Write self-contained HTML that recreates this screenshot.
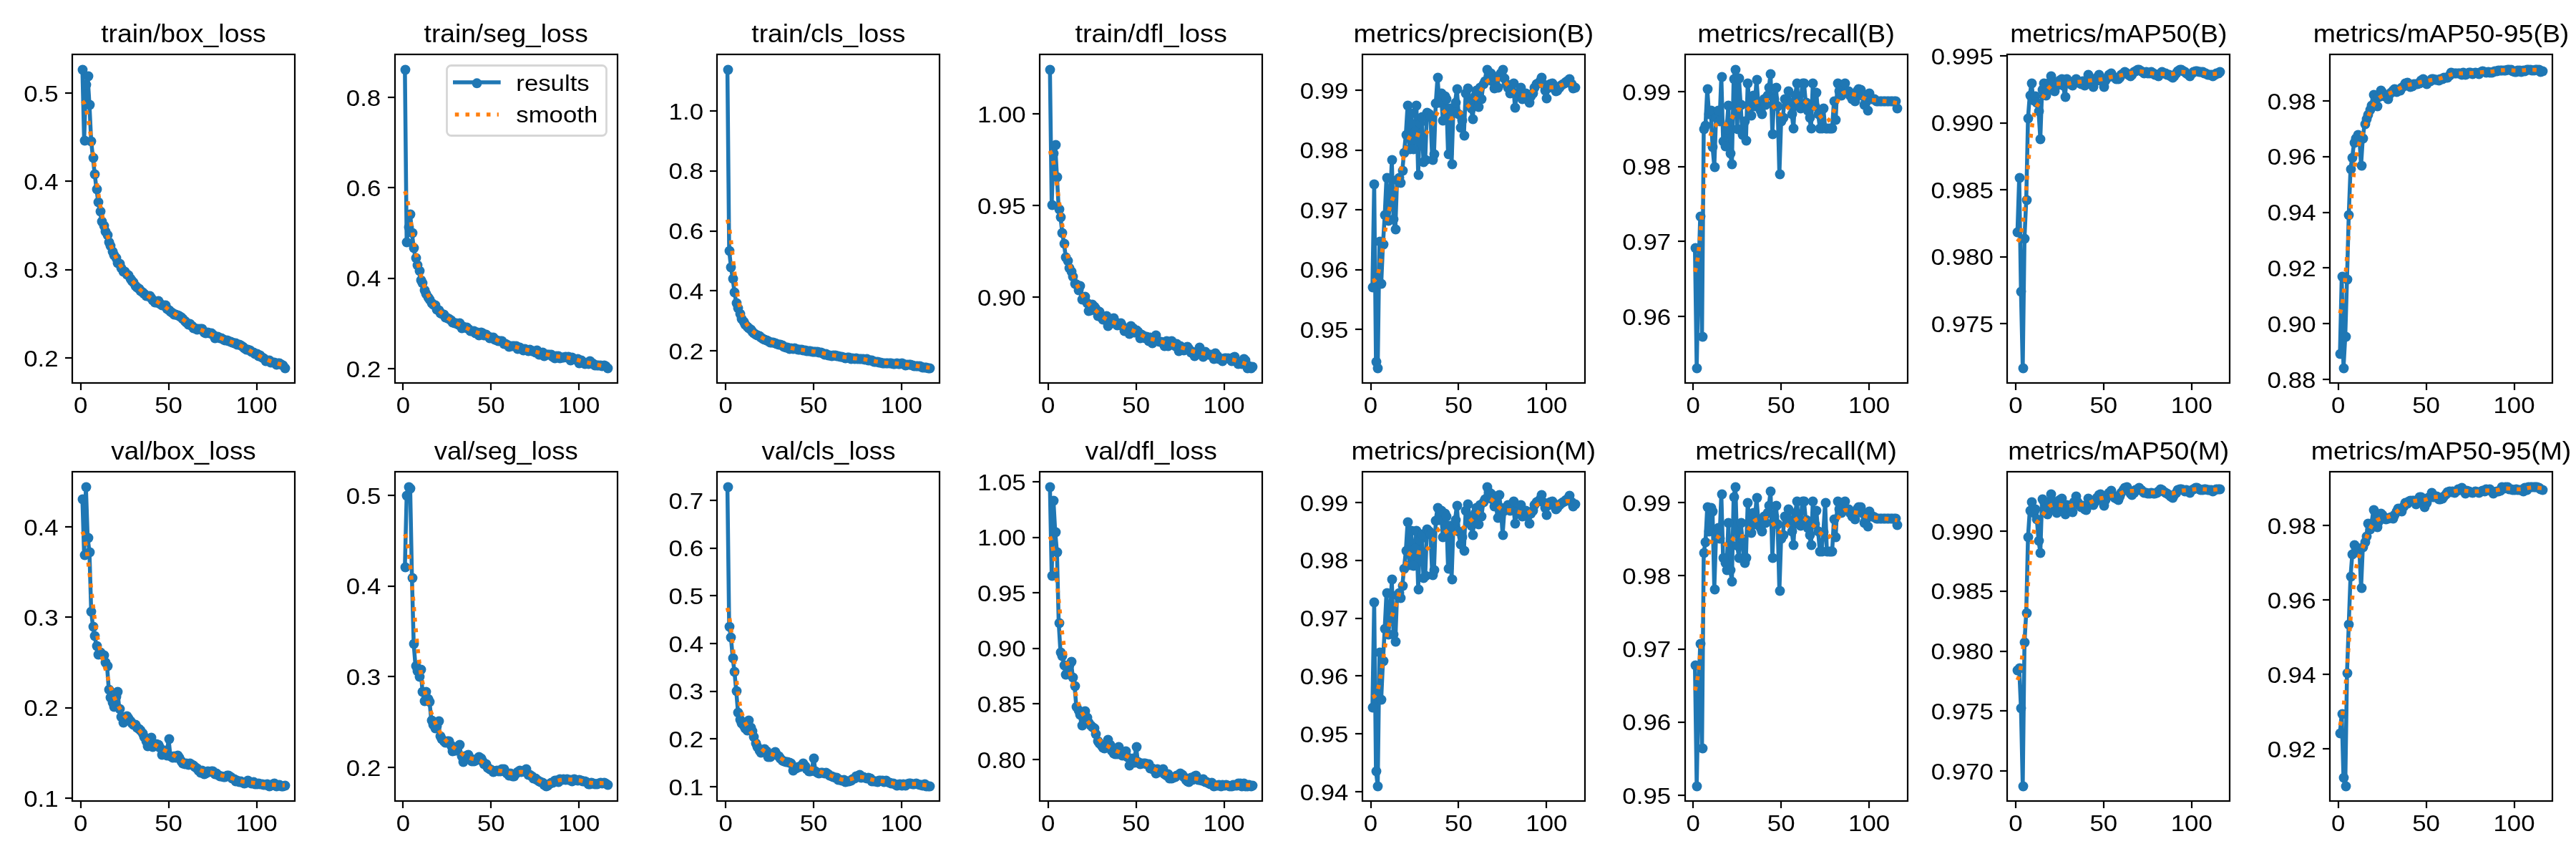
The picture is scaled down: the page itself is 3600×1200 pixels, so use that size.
<!DOCTYPE html>
<html><head><meta charset="utf-8"><title>results</title><style>html,body{margin:0;padding:0;background:#fff;overflow:hidden}
svg{display:block;will-change:transform}
text{font-family:"Liberation Sans",sans-serif;fill:#000}
.ln{fill:none;stroke:#1f77b4;stroke-width:5.556;stroke-linejoin:round;stroke-linecap:square}
.mk circle{fill:#1f77b4}
.sm{fill:none;stroke:#ff7f0e;stroke-width:5.556;stroke-dasharray:5.556 9.167;stroke-linejoin:round}
.fr{fill:none;stroke:#000;stroke-width:2.22;stroke-linejoin:miter}
.tk rect{fill:#000}
.lg{fill:#fff;fill-opacity:.8;stroke:#ccc;stroke-opacity:.8;stroke-width:2.78}
</style></head><body>
<svg width="3600" height="1200" viewBox="0 0 3600 1200">
<rect width="3600" height="1200" fill="#fff"/>
<g><polyline class="ln" points="115.14,96.86 117.59,196.2 120.05,117.67 122.51,105.96 124.97,145.9 127.43,197.31 129.89,220.48 132.35,243.41 134.8,263.5 137.26,282.48 139.72,295.06 142.18,309.4 144.64,315.02 147.1,322.77 149.56,327.6 152.01,337.52 154.47,343.13 156.93,350.84 159.39,356.36 161.85,360.35 164.31,367.06 166.76,368.47 169.22,374.2 171.68,378.78 174.14,379.42 176.6,382.74 179.06,384.29 181.52,388.91 183.97,391.52 186.43,393.95 188.89,398.58 191.35,400.64 193.81,403.49 196.27,406.16 198.73,408.39 201.18,409.95 203.64,413.3 206.1,413.19 208.56,412.98 211.02,415.94 213.48,418.93 215.93,421.5 218.39,422.41 220.85,420.19 223.31,423.51 225.77,425.54 228.23,425.55 230.69,425.69 233.14,431.11 235.6,433.17 238.06,434.81 240.52,436.83 242.98,439.05 245.44,439.12 247.9,440.15 250.35,441.25 252.81,443.1 255.27,445.16 257.73,448.22 260.19,449.59 262.65,453.41 265.1,452.26 267.56,454.84 270.02,457.51 272.48,458.02 274.94,460.08 277.4,459.03 279.86,459.08 282.31,458.76 284.77,464.2 287.23,464.85 289.69,464.17 292.15,464.68 294.61,465.11 297.07,467.28 299.52,471.83 301.98,470.49 304.44,469.93 306.9,471.73 309.36,471.99 311.82,474.31 314.27,475.17 316.73,475.38 319.19,475.82 321.65,476.84 324.11,477.69 326.57,479.5 329.03,479.15 331.48,480.72 333.94,480.59 336.4,481.72 338.86,484.33 341.32,486.31 343.78,487.9 346.24,487.69 348.69,489.39 351.15,491.19 353.61,491.89 356.07,494.13 358.53,493.92 360.99,497.04 363.44,496.35 365.9,499.04 368.36,500.35 370.82,503.72 373.28,502.79 375.74,502.8 378.2,505.89 380.65,505.74 383.11,506.12 385.57,508.53 388.03,506.74 390.49,506.51 392.95,509.31 395.41,510.44 397.86,514.14"/><g class="mk"><circle cx="115.5" cy="97.5" r="6.94"/><circle cx="118.5" cy="196.5" r="6.94"/><circle cx="120.5" cy="118.5" r="6.94"/><circle cx="123.5" cy="106.5" r="6.94"/><circle cx="125.5" cy="146.5" r="6.94"/><circle cx="127.5" cy="197.5" r="6.94"/><circle cx="130.5" cy="220.5" r="6.94"/><circle cx="132.5" cy="243.5" r="6.94"/><circle cx="135.5" cy="264.5" r="6.94"/><circle cx="137.5" cy="282.5" r="6.94"/><circle cx="140.5" cy="295.5" r="6.94"/><circle cx="142.5" cy="309.5" r="6.94"/><circle cx="145.5" cy="315.5" r="6.94"/><circle cx="147.5" cy="323.5" r="6.94"/><circle cx="150.5" cy="328.5" r="6.94"/><circle cx="152.5" cy="338.5" r="6.94"/><circle cx="154.5" cy="343.5" r="6.94"/><circle cx="157.5" cy="351.5" r="6.94"/><circle cx="159.5" cy="356.5" r="6.94"/><circle cx="162.5" cy="360.5" r="6.94"/><circle cx="164.5" cy="367.5" r="6.94"/><circle cx="167.5" cy="368.5" r="6.94"/><circle cx="169.5" cy="374.5" r="6.94"/><circle cx="172.5" cy="379.5" r="6.94"/><circle cx="174.5" cy="379.5" r="6.94"/><circle cx="177.5" cy="383.5" r="6.94"/><circle cx="179.5" cy="384.5" r="6.94"/><circle cx="182.5" cy="389.5" r="6.94"/><circle cx="184.5" cy="392.5" r="6.94"/><circle cx="186.5" cy="394.5" r="6.94"/><circle cx="189.5" cy="399.5" r="6.94"/><circle cx="191.5" cy="401.5" r="6.94"/><circle cx="194.5" cy="403.5" r="6.94"/><circle cx="196.5" cy="406.5" r="6.94"/><circle cx="199.5" cy="408.5" r="6.94"/><circle cx="201.5" cy="410.5" r="6.94"/><circle cx="204.5" cy="413.5" r="6.94"/><circle cx="206.5" cy="413.5" r="6.94"/><circle cx="209.5" cy="413.5" r="6.94"/><circle cx="211.5" cy="416.5" r="6.94"/><circle cx="213.5" cy="419.5" r="6.94"/><circle cx="216.5" cy="422.5" r="6.94"/><circle cx="218.5" cy="422.5" r="6.94"/><circle cx="221.5" cy="420.5" r="6.94"/><circle cx="223.5" cy="424.5" r="6.94"/><circle cx="226.5" cy="426.5" r="6.94"/><circle cx="228.5" cy="426.5" r="6.94"/><circle cx="231.5" cy="426.5" r="6.94"/><circle cx="233.5" cy="431.5" r="6.94"/><circle cx="236.5" cy="433.5" r="6.94"/><circle cx="238.5" cy="435.5" r="6.94"/><circle cx="241.5" cy="437.5" r="6.94"/><circle cx="243.5" cy="439.5" r="6.94"/><circle cx="245.5" cy="439.5" r="6.94"/><circle cx="248.5" cy="440.5" r="6.94"/><circle cx="250.5" cy="441.5" r="6.94"/><circle cx="253.5" cy="443.5" r="6.94"/><circle cx="255.5" cy="445.5" r="6.94"/><circle cx="258.5" cy="448.5" r="6.94"/><circle cx="260.5" cy="450.5" r="6.94"/><circle cx="263.5" cy="453.5" r="6.94"/><circle cx="265.5" cy="452.5" r="6.94"/><circle cx="268.5" cy="455.5" r="6.94"/><circle cx="270.5" cy="458.5" r="6.94"/><circle cx="272.5" cy="458.5" r="6.94"/><circle cx="275.5" cy="460.5" r="6.94"/><circle cx="277.5" cy="459.5" r="6.94"/><circle cx="280.5" cy="459.5" r="6.94"/><circle cx="282.5" cy="459.5" r="6.94"/><circle cx="285.5" cy="464.5" r="6.94"/><circle cx="287.5" cy="465.5" r="6.94"/><circle cx="290.5" cy="464.5" r="6.94"/><circle cx="292.5" cy="465.5" r="6.94"/><circle cx="295.5" cy="465.5" r="6.94"/><circle cx="297.5" cy="467.5" r="6.94"/><circle cx="300.5" cy="472.5" r="6.94"/><circle cx="302.5" cy="470.5" r="6.94"/><circle cx="304.5" cy="470.5" r="6.94"/><circle cx="307.5" cy="472.5" r="6.94"/><circle cx="309.5" cy="472.5" r="6.94"/><circle cx="312.5" cy="474.5" r="6.94"/><circle cx="314.5" cy="475.5" r="6.94"/><circle cx="317.5" cy="475.5" r="6.94"/><circle cx="319.5" cy="476.5" r="6.94"/><circle cx="322.5" cy="477.5" r="6.94"/><circle cx="324.5" cy="478.5" r="6.94"/><circle cx="327.5" cy="479.5" r="6.94"/><circle cx="329.5" cy="479.5" r="6.94"/><circle cx="331.5" cy="481.5" r="6.94"/><circle cx="334.5" cy="481.5" r="6.94"/><circle cx="336.5" cy="482.5" r="6.94"/><circle cx="339.5" cy="484.5" r="6.94"/><circle cx="341.5" cy="486.5" r="6.94"/><circle cx="344.5" cy="488.5" r="6.94"/><circle cx="346.5" cy="488.5" r="6.94"/><circle cx="349.5" cy="489.5" r="6.94"/><circle cx="351.5" cy="491.5" r="6.94"/><circle cx="354.5" cy="492.5" r="6.94"/><circle cx="356.5" cy="494.5" r="6.94"/><circle cx="359.5" cy="494.5" r="6.94"/><circle cx="361.5" cy="497.5" r="6.94"/><circle cx="363.5" cy="496.5" r="6.94"/><circle cx="366.5" cy="499.5" r="6.94"/><circle cx="368.5" cy="500.5" r="6.94"/><circle cx="371.5" cy="504.5" r="6.94"/><circle cx="373.5" cy="503.5" r="6.94"/><circle cx="376.5" cy="503.5" r="6.94"/><circle cx="378.5" cy="506.5" r="6.94"/><circle cx="381.5" cy="506.5" r="6.94"/><circle cx="383.5" cy="506.5" r="6.94"/><circle cx="386.5" cy="509.5" r="6.94"/><circle cx="388.5" cy="507.5" r="6.94"/><circle cx="390.5" cy="507.5" r="6.94"/><circle cx="393.5" cy="509.5" r="6.94"/><circle cx="395.5" cy="510.5" r="6.94"/><circle cx="398.5" cy="514.5" r="6.94"/></g><polyline class="sm" points="115.14,141.09 117.59,144.47 120.05,151.45 122.51,162.19 124.97,176.55 127.43,193.9 129.89,213.1 132.35,232.8 134.8,251.78 137.26,269.13 139.72,284.42 142.18,297.6 144.64,308.87 147.1,318.58 149.56,327.07 152.01,334.66 154.47,341.55 156.93,347.85 159.39,353.64 161.85,358.95 164.31,363.78 166.76,368.17 169.22,372.17 171.68,375.83 174.14,379.22 176.6,382.41 179.06,385.49 181.52,388.5 183.97,391.48 186.43,394.41 188.89,397.27 191.35,400.03 193.81,402.64 196.27,405.07 198.73,407.32 201.18,409.38 203.64,411.28 206.1,413.07 208.56,414.77 211.02,416.4 213.48,417.97 215.93,419.48 218.39,420.92 220.85,422.33 223.31,423.76 225.77,425.26 228.23,426.87 230.69,428.6 233.14,430.43 235.6,432.3 238.06,434.13 240.52,435.9 242.98,437.58 245.44,439.19 247.9,440.78 250.35,442.41 252.81,444.11 255.27,445.88 257.73,447.7 260.19,449.52 262.65,451.29 265.1,452.97 267.56,454.51 270.02,455.91 272.48,457.16 274.94,458.28 277.4,459.32 279.86,460.32 282.31,461.33 284.77,462.35 287.23,463.4 289.69,464.46 292.15,465.55 294.61,466.65 297.07,467.74 299.52,468.82 301.98,469.85 304.44,470.84 306.9,471.79 309.36,472.71 311.82,473.6 314.27,474.48 316.73,475.35 319.19,476.2 321.65,477.06 324.11,477.92 326.57,478.82 329.03,479.76 331.48,480.78 333.94,481.88 336.4,483.06 338.86,484.32 341.32,485.63 343.78,486.96 346.24,488.28 348.69,489.6 351.15,490.91 353.61,492.22 356.07,493.54 358.53,494.87 360.99,496.21 363.44,497.57 365.9,498.91 368.36,500.21 370.82,501.44 373.28,502.59 375.74,503.63 378.2,504.58 380.65,505.44 383.11,506.25 385.57,507.02 388.03,507.78 390.49,508.52 392.95,509.19 395.41,509.72 397.86,510.01"/><g class="tk"><rect x="111.89" y="535" width="2.22" height="10"/><rect x="234.89" y="535" width="2.22" height="10"/><rect x="357.89" y="535" width="2.22" height="10"/><rect x="91" y="498.89" width="10" height="2.22"/><rect x="91" y="375.89" width="10" height="2.22"/><rect x="91" y="251.89" width="10" height="2.22"/><rect x="91" y="128.89" width="10" height="2.22"/></g><rect class="fr" x="101" y="76" width="311" height="459"/><text x="141.19" y="59.33" font-size="35" textLength="230.62" lengthAdjust="spacingAndGlyphs">train/box_loss</text><text x="102.99" y="577.44" font-size="32.08" textLength="19.38" lengthAdjust="spacingAndGlyphs">0</text><text x="216.23" y="577.44" font-size="32.08" textLength="38.75" lengthAdjust="spacingAndGlyphs">50</text><text x="329.47" y="577.44" font-size="32.08" textLength="58.12" lengthAdjust="spacingAndGlyphs">100</text><text x="33.18" y="511.5" font-size="32.08" textLength="48.38" lengthAdjust="spacingAndGlyphs">0.2</text><text x="33.06" y="388.17" font-size="32.08" textLength="48.5" lengthAdjust="spacingAndGlyphs">0.3</text><text x="33.18" y="264.83" font-size="32.08" textLength="48.38" lengthAdjust="spacingAndGlyphs">0.4</text><text x="33.18" y="141.5" font-size="32.08" textLength="48.38" lengthAdjust="spacingAndGlyphs">0.5</text></g>
<g><polyline class="ln" points="565.85,96.86 568.31,338.1 570.77,317.15 573.23,298.81 575.68,325 578.14,345.94 580.6,360.3 583.06,370.43 585.52,378.34 587.98,391.43 590.44,394.85 592.89,405.35 595.35,409.72 597.81,414.91 600.27,417.61 602.73,422.65 605.19,425.3 607.64,426.35 610.1,431.63 612.56,433.17 615.02,437.01 617.48,437.89 619.94,439.12 622.4,442.66 624.85,443.56 627.31,445.22 629.77,447.32 632.23,449.56 634.69,451.36 637.15,451.07 639.61,452.71 642.06,450.56 644.52,458.31 646.98,456.02 649.44,456.92 651.9,456.8 654.36,459.16 656.81,462.13 659.27,462.05 661.73,462.38 664.19,464.67 666.65,464.05 669.11,468.37 671.57,464 674.02,465 676.48,468.15 678.94,467.47 681.4,469.23 683.86,471.53 686.32,471.34 688.78,471.15 691.23,474.15 693.69,475.23 696.15,475.94 698.61,476.36 701.07,476.32 703.53,480.11 705.98,479.65 708.44,480.94 710.9,484.32 713.36,482.81 715.82,482.9 718.28,483.27 720.74,483.25 723.19,487.31 725.65,485.29 728.11,487.19 730.57,489.13 733.03,487.28 735.49,487.86 737.95,490.14 740.4,488.4 742.86,490.45 745.32,490.17 747.78,492.14 750.24,488.86 752.7,495.46 755.15,492.57 757.61,492.17 760.07,496.65 762.53,494.77 764.99,495.34 767.45,494.82 769.91,494.97 772.36,498.01 774.82,500.11 777.28,497.01 779.74,497.29 782.2,499.68 784.66,498.6 787.12,498.6 789.57,498.39 792.03,499.06 794.49,497.83 796.95,502.65 799.41,499.22 801.87,500.59 804.32,501.86 806.78,500.7 809.24,506.58 811.7,502.68 814.16,504.74 816.62,507.84 819.08,506.64 821.53,508.11 823.99,504.48 826.45,505.92 828.91,508.25 831.37,510.26 833.83,510.37 836.29,510.01 838.74,510.34 841.2,510.81 843.66,510.38 846.12,511.48 848.58,514.14"/><g class="mk"><circle cx="566.5" cy="97.5" r="6.94"/><circle cx="568.5" cy="338.5" r="6.94"/><circle cx="571.5" cy="317.5" r="6.94"/><circle cx="573.5" cy="299.5" r="6.94"/><circle cx="576.5" cy="325.5" r="6.94"/><circle cx="578.5" cy="346.5" r="6.94"/><circle cx="581.5" cy="360.5" r="6.94"/><circle cx="583.5" cy="370.5" r="6.94"/><circle cx="586.5" cy="378.5" r="6.94"/><circle cx="588.5" cy="391.5" r="6.94"/><circle cx="590.5" cy="395.5" r="6.94"/><circle cx="593.5" cy="405.5" r="6.94"/><circle cx="595.5" cy="410.5" r="6.94"/><circle cx="598.5" cy="415.5" r="6.94"/><circle cx="600.5" cy="418.5" r="6.94"/><circle cx="603.5" cy="423.5" r="6.94"/><circle cx="605.5" cy="425.5" r="6.94"/><circle cx="608.5" cy="426.5" r="6.94"/><circle cx="610.5" cy="432.5" r="6.94"/><circle cx="613.5" cy="433.5" r="6.94"/><circle cx="615.5" cy="437.5" r="6.94"/><circle cx="617.5" cy="438.5" r="6.94"/><circle cx="620.5" cy="439.5" r="6.94"/><circle cx="622.5" cy="443.5" r="6.94"/><circle cx="625.5" cy="444.5" r="6.94"/><circle cx="627.5" cy="445.5" r="6.94"/><circle cx="630.5" cy="447.5" r="6.94"/><circle cx="632.5" cy="450.5" r="6.94"/><circle cx="635.5" cy="451.5" r="6.94"/><circle cx="637.5" cy="451.5" r="6.94"/><circle cx="640.5" cy="453.5" r="6.94"/><circle cx="642.5" cy="451.5" r="6.94"/><circle cx="645.5" cy="458.5" r="6.94"/><circle cx="647.5" cy="456.5" r="6.94"/><circle cx="649.5" cy="457.5" r="6.94"/><circle cx="652.5" cy="457.5" r="6.94"/><circle cx="654.5" cy="459.5" r="6.94"/><circle cx="657.5" cy="462.5" r="6.94"/><circle cx="659.5" cy="462.5" r="6.94"/><circle cx="662.5" cy="462.5" r="6.94"/><circle cx="664.5" cy="465.5" r="6.94"/><circle cx="667.5" cy="464.5" r="6.94"/><circle cx="669.5" cy="468.5" r="6.94"/><circle cx="672.5" cy="464.5" r="6.94"/><circle cx="674.5" cy="465.5" r="6.94"/><circle cx="676.5" cy="468.5" r="6.94"/><circle cx="679.5" cy="467.5" r="6.94"/><circle cx="681.5" cy="469.5" r="6.94"/><circle cx="684.5" cy="472.5" r="6.94"/><circle cx="686.5" cy="471.5" r="6.94"/><circle cx="689.5" cy="471.5" r="6.94"/><circle cx="691.5" cy="474.5" r="6.94"/><circle cx="694.5" cy="475.5" r="6.94"/><circle cx="696.5" cy="476.5" r="6.94"/><circle cx="699.5" cy="476.5" r="6.94"/><circle cx="701.5" cy="476.5" r="6.94"/><circle cx="704.5" cy="480.5" r="6.94"/><circle cx="706.5" cy="480.5" r="6.94"/><circle cx="708.5" cy="481.5" r="6.94"/><circle cx="711.5" cy="484.5" r="6.94"/><circle cx="713.5" cy="483.5" r="6.94"/><circle cx="716.5" cy="483.5" r="6.94"/><circle cx="718.5" cy="483.5" r="6.94"/><circle cx="721.5" cy="483.5" r="6.94"/><circle cx="723.5" cy="487.5" r="6.94"/><circle cx="726.5" cy="485.5" r="6.94"/><circle cx="728.5" cy="487.5" r="6.94"/><circle cx="731.5" cy="489.5" r="6.94"/><circle cx="733.5" cy="487.5" r="6.94"/><circle cx="735.5" cy="488.5" r="6.94"/><circle cx="738.5" cy="490.5" r="6.94"/><circle cx="740.5" cy="488.5" r="6.94"/><circle cx="743.5" cy="490.5" r="6.94"/><circle cx="745.5" cy="490.5" r="6.94"/><circle cx="748.5" cy="492.5" r="6.94"/><circle cx="750.5" cy="489.5" r="6.94"/><circle cx="753.5" cy="495.5" r="6.94"/><circle cx="755.5" cy="493.5" r="6.94"/><circle cx="758.5" cy="492.5" r="6.94"/><circle cx="760.5" cy="497.5" r="6.94"/><circle cx="763.5" cy="495.5" r="6.94"/><circle cx="765.5" cy="495.5" r="6.94"/><circle cx="767.5" cy="495.5" r="6.94"/><circle cx="770.5" cy="495.5" r="6.94"/><circle cx="772.5" cy="498.5" r="6.94"/><circle cx="775.5" cy="500.5" r="6.94"/><circle cx="777.5" cy="497.5" r="6.94"/><circle cx="780.5" cy="497.5" r="6.94"/><circle cx="782.5" cy="500.5" r="6.94"/><circle cx="785.5" cy="499.5" r="6.94"/><circle cx="787.5" cy="499.5" r="6.94"/><circle cx="790.5" cy="498.5" r="6.94"/><circle cx="792.5" cy="499.5" r="6.94"/><circle cx="794.5" cy="498.5" r="6.94"/><circle cx="797.5" cy="503.5" r="6.94"/><circle cx="799.5" cy="499.5" r="6.94"/><circle cx="802.5" cy="501.5" r="6.94"/><circle cx="804.5" cy="502.5" r="6.94"/><circle cx="807.5" cy="501.5" r="6.94"/><circle cx="809.5" cy="507.5" r="6.94"/><circle cx="812.5" cy="503.5" r="6.94"/><circle cx="814.5" cy="505.5" r="6.94"/><circle cx="817.5" cy="508.5" r="6.94"/><circle cx="819.5" cy="507.5" r="6.94"/><circle cx="822.5" cy="508.5" r="6.94"/><circle cx="824.5" cy="504.5" r="6.94"/><circle cx="826.5" cy="506.5" r="6.94"/><circle cx="829.5" cy="508.5" r="6.94"/><circle cx="831.5" cy="510.5" r="6.94"/><circle cx="834.5" cy="510.5" r="6.94"/><circle cx="836.5" cy="510.5" r="6.94"/><circle cx="839.5" cy="510.5" r="6.94"/><circle cx="841.5" cy="511.5" r="6.94"/><circle cx="844.5" cy="510.5" r="6.94"/><circle cx="846.5" cy="511.5" r="6.94"/><circle cx="849.5" cy="514.5" r="6.94"/></g><polyline class="sm" points="565.85,267.06 568.31,274.17 570.77,286.88 573.23,302.81 575.68,319.63 578.14,335.72 580.6,350.26 583.06,363.05 585.52,374.18 587.98,383.85 590.44,392.24 592.89,399.51 595.35,405.79 597.81,411.22 600.27,415.92 602.73,420.03 605.19,423.66 607.64,426.91 610.1,429.86 612.56,432.57 615.02,435.06 617.48,437.36 619.94,439.51 622.4,441.52 624.85,443.41 627.31,445.19 629.77,446.85 632.23,448.4 634.69,449.84 637.15,451.18 639.61,452.44 642.06,453.66 644.52,454.84 646.98,456 649.44,457.16 651.9,458.31 654.36,459.45 656.81,460.58 659.27,461.66 661.73,462.67 664.19,463.59 666.65,464.44 669.11,465.22 671.57,465.98 674.02,466.75 676.48,467.58 678.94,468.48 681.4,469.43 683.86,470.44 686.32,471.47 688.78,472.51 691.23,473.57 693.69,474.62 696.15,475.68 698.61,476.75 701.07,477.82 703.53,478.87 705.98,479.9 708.44,480.86 710.9,481.74 713.36,482.55 715.82,483.29 718.28,484 720.74,484.71 723.19,485.41 725.65,486.1 728.11,486.77 730.57,487.38 733.03,487.96 735.49,488.49 737.95,489.01 740.4,489.54 742.86,490.07 745.32,490.64 747.78,491.23 750.24,491.85 752.7,492.47 755.15,493.09 757.61,493.69 760.07,494.27 762.53,494.81 764.99,495.35 767.45,495.88 769.91,496.4 772.36,496.9 774.82,497.36 777.28,497.75 779.74,498.07 782.2,498.34 784.66,498.57 787.12,498.8 789.57,499.06 792.03,499.37 794.49,499.74 796.95,500.19 799.41,500.72 801.87,501.32 804.32,502 806.78,502.73 809.24,503.49 811.7,504.24 814.16,504.93 816.62,505.56 819.08,506.11 821.53,506.63 823.99,507.13 826.45,507.66 828.91,508.23 831.37,508.81 833.83,509.38 836.29,509.91 838.74,510.4 841.2,510.83 843.66,511.2 846.12,511.47 848.58,511.62"/><g class="tk"><rect x="561.89" y="535" width="2.22" height="10"/><rect x="684.89" y="535" width="2.22" height="10"/><rect x="807.89" y="535" width="2.22" height="10"/><rect x="542" y="513.89" width="10" height="2.22"/><rect x="542" y="387.89" width="10" height="2.22"/><rect x="542" y="260.89" width="10" height="2.22"/><rect x="542" y="134.89" width="10" height="2.22"/></g><rect class="fr" x="552" y="76" width="311" height="459"/><text x="592.59" y="59.33" font-size="35" textLength="229.25" lengthAdjust="spacingAndGlyphs">train/seg_loss</text><text x="553.7" y="577.44" font-size="32.08" textLength="19.38" lengthAdjust="spacingAndGlyphs">0</text><text x="666.94" y="577.44" font-size="32.08" textLength="38.75" lengthAdjust="spacingAndGlyphs">50</text><text x="780.18" y="577.44" font-size="32.08" textLength="58.12" lengthAdjust="spacingAndGlyphs">100</text><text x="483.89" y="526.5" font-size="32.08" textLength="48.38" lengthAdjust="spacingAndGlyphs">0.2</text><text x="483.89" y="400.17" font-size="32.08" textLength="48.38" lengthAdjust="spacingAndGlyphs">0.4</text><text x="483.89" y="273.83" font-size="32.08" textLength="48.38" lengthAdjust="spacingAndGlyphs">0.6</text><text x="483.77" y="147.5" font-size="32.08" textLength="48.5" lengthAdjust="spacingAndGlyphs">0.8</text><rect class="lg" x="624.5" y="91.5" width="223" height="98" rx="6.1" ry="6.1"/><polyline class="ln" points="635.78,115 666.34,115 696.89,115"/><polyline class="sm" points="635.78,160 666.34,160 696.89,160"/><g class="mk"><circle cx="666.5" cy="116.31" r="6.94"/></g><text x="721.34" y="126.5" font-size="32.08" textLength="102.38" lengthAdjust="spacingAndGlyphs">results</text><text x="721.34" y="170.78" font-size="32.08" textLength="113.88" lengthAdjust="spacingAndGlyphs">smooth</text></g>
<g><polyline class="ln" points="1016.56,96.86 1019.02,349.67 1021.48,372.6 1023.94,388.6 1026.4,408.39 1028.86,422.88 1031.32,429.87 1033.77,438.28 1036.23,444.8 1038.69,449.36 1041.15,453.22 1043.61,455.56 1046.07,458.01 1048.52,459.89 1050.98,463.02 1053.44,465.13 1055.9,466.59 1058.36,468.49 1060.82,468.62 1063.28,471.2 1065.73,472.78 1068.19,473.83 1070.65,474.51 1073.11,476.28 1075.57,477.65 1078.03,478.23 1080.49,478.29 1082.94,479.43 1085.4,480.47 1087.86,481.02 1090.32,481.36 1092.78,481.58 1095.24,484.03 1097.69,484.56 1100.15,485.43 1102.61,486.65 1105.07,486.31 1107.53,486.77 1109.99,486.1 1112.45,487.14 1114.9,488.3 1117.36,487.55 1119.82,488.4 1122.28,489.45 1124.74,489.23 1127.2,489.57 1129.66,490.07 1132.11,489.97 1134.57,491.46 1137.03,490.88 1139.49,490.77 1141.95,491.39 1144.41,491.79 1146.86,492.32 1149.32,492.66 1151.78,494.51 1154.24,494.01 1156.7,495.83 1159.16,495.65 1161.62,496.77 1164.07,495.74 1166.53,496.05 1168.99,497.27 1171.45,496.74 1173.91,498.4 1176.37,498.39 1178.83,498.8 1181.28,499.82 1183.74,499.48 1186.2,499.14 1188.66,501.03 1191.12,500.27 1193.58,500.94 1196.03,500.11 1198.49,500.9 1200.95,500.94 1203.41,501.1 1205.87,501.44 1208.33,502.41 1210.79,501.47 1213.24,503.39 1215.7,503.11 1218.16,503.45 1220.62,504.72 1223.08,504.76 1225.54,504.77 1228,505.58 1230.45,506.22 1232.91,507.44 1235.37,506.67 1237.83,506.68 1240.29,506.85 1242.75,507.29 1245.2,506.86 1247.66,507.58 1250.12,507.6 1252.58,507.45 1255.04,508.46 1257.5,508.43 1259.96,507.44 1262.41,508.34 1264.87,509.71 1267.33,509.38 1269.79,509.34 1272.25,509.28 1274.71,510.11 1277.17,510.73 1279.62,511.11 1282.08,510.76 1284.54,511.42 1287,512.32 1289.46,512.65 1291.92,513.26 1294.37,513.18 1296.83,514.14 1299.29,514.14"/><g class="mk"><circle cx="1017.5" cy="97.5" r="6.94"/><circle cx="1019.5" cy="350.5" r="6.94"/><circle cx="1021.5" cy="373.5" r="6.94"/><circle cx="1024.5" cy="389.5" r="6.94"/><circle cx="1026.5" cy="408.5" r="6.94"/><circle cx="1029.5" cy="423.5" r="6.94"/><circle cx="1031.5" cy="430.5" r="6.94"/><circle cx="1034.5" cy="438.5" r="6.94"/><circle cx="1036.5" cy="445.5" r="6.94"/><circle cx="1039.5" cy="449.5" r="6.94"/><circle cx="1041.5" cy="453.5" r="6.94"/><circle cx="1044.5" cy="456.5" r="6.94"/><circle cx="1046.5" cy="458.5" r="6.94"/><circle cx="1049.5" cy="460.5" r="6.94"/><circle cx="1051.5" cy="463.5" r="6.94"/><circle cx="1053.5" cy="465.5" r="6.94"/><circle cx="1056.5" cy="467.5" r="6.94"/><circle cx="1058.5" cy="468.5" r="6.94"/><circle cx="1061.5" cy="469.5" r="6.94"/><circle cx="1063.5" cy="471.5" r="6.94"/><circle cx="1066.5" cy="473.5" r="6.94"/><circle cx="1068.5" cy="474.5" r="6.94"/><circle cx="1071.5" cy="475.5" r="6.94"/><circle cx="1073.5" cy="476.5" r="6.94"/><circle cx="1076.5" cy="478.5" r="6.94"/><circle cx="1078.5" cy="478.5" r="6.94"/><circle cx="1080.5" cy="478.5" r="6.94"/><circle cx="1083.5" cy="479.5" r="6.94"/><circle cx="1085.5" cy="480.5" r="6.94"/><circle cx="1088.5" cy="481.5" r="6.94"/><circle cx="1090.5" cy="481.5" r="6.94"/><circle cx="1093.5" cy="482.5" r="6.94"/><circle cx="1095.5" cy="484.5" r="6.94"/><circle cx="1098.5" cy="485.5" r="6.94"/><circle cx="1100.5" cy="485.5" r="6.94"/><circle cx="1103.5" cy="487.5" r="6.94"/><circle cx="1105.5" cy="486.5" r="6.94"/><circle cx="1108.5" cy="487.5" r="6.94"/><circle cx="1110.5" cy="486.5" r="6.94"/><circle cx="1112.5" cy="487.5" r="6.94"/><circle cx="1115.5" cy="488.5" r="6.94"/><circle cx="1117.5" cy="488.5" r="6.94"/><circle cx="1120.5" cy="488.5" r="6.94"/><circle cx="1122.5" cy="489.5" r="6.94"/><circle cx="1125.5" cy="489.5" r="6.94"/><circle cx="1127.5" cy="490.5" r="6.94"/><circle cx="1130.5" cy="490.5" r="6.94"/><circle cx="1132.5" cy="490.5" r="6.94"/><circle cx="1135.5" cy="491.5" r="6.94"/><circle cx="1137.5" cy="491.5" r="6.94"/><circle cx="1139.5" cy="491.5" r="6.94"/><circle cx="1142.5" cy="491.5" r="6.94"/><circle cx="1144.5" cy="492.5" r="6.94"/><circle cx="1147.5" cy="492.5" r="6.94"/><circle cx="1149.5" cy="493.5" r="6.94"/><circle cx="1152.5" cy="495.5" r="6.94"/><circle cx="1154.5" cy="494.5" r="6.94"/><circle cx="1157.5" cy="496.5" r="6.94"/><circle cx="1159.5" cy="496.5" r="6.94"/><circle cx="1162.5" cy="497.5" r="6.94"/><circle cx="1164.5" cy="496.5" r="6.94"/><circle cx="1167.5" cy="496.5" r="6.94"/><circle cx="1169.5" cy="497.5" r="6.94"/><circle cx="1171.5" cy="497.5" r="6.94"/><circle cx="1174.5" cy="498.5" r="6.94"/><circle cx="1176.5" cy="498.5" r="6.94"/><circle cx="1179.5" cy="499.5" r="6.94"/><circle cx="1181.5" cy="500.5" r="6.94"/><circle cx="1184.5" cy="499.5" r="6.94"/><circle cx="1186.5" cy="499.5" r="6.94"/><circle cx="1189.5" cy="501.5" r="6.94"/><circle cx="1191.5" cy="500.5" r="6.94"/><circle cx="1194.5" cy="501.5" r="6.94"/><circle cx="1196.5" cy="500.5" r="6.94"/><circle cx="1198.5" cy="501.5" r="6.94"/><circle cx="1201.5" cy="501.5" r="6.94"/><circle cx="1203.5" cy="501.5" r="6.94"/><circle cx="1206.5" cy="501.5" r="6.94"/><circle cx="1208.5" cy="502.5" r="6.94"/><circle cx="1211.5" cy="501.5" r="6.94"/><circle cx="1213.5" cy="503.5" r="6.94"/><circle cx="1216.5" cy="503.5" r="6.94"/><circle cx="1218.5" cy="503.5" r="6.94"/><circle cx="1221.5" cy="505.5" r="6.94"/><circle cx="1223.5" cy="505.5" r="6.94"/><circle cx="1226.5" cy="505.5" r="6.94"/><circle cx="1228.5" cy="506.5" r="6.94"/><circle cx="1230.5" cy="506.5" r="6.94"/><circle cx="1233.5" cy="507.5" r="6.94"/><circle cx="1235.5" cy="507.5" r="6.94"/><circle cx="1238.5" cy="507.5" r="6.94"/><circle cx="1240.5" cy="507.5" r="6.94"/><circle cx="1243.5" cy="507.5" r="6.94"/><circle cx="1245.5" cy="507.5" r="6.94"/><circle cx="1248.5" cy="508.5" r="6.94"/><circle cx="1250.5" cy="508.5" r="6.94"/><circle cx="1253.5" cy="507.5" r="6.94"/><circle cx="1255.5" cy="508.5" r="6.94"/><circle cx="1257.5" cy="508.5" r="6.94"/><circle cx="1260.5" cy="507.5" r="6.94"/><circle cx="1262.5" cy="508.5" r="6.94"/><circle cx="1265.5" cy="510.5" r="6.94"/><circle cx="1267.5" cy="509.5" r="6.94"/><circle cx="1270.5" cy="509.5" r="6.94"/><circle cx="1272.5" cy="509.5" r="6.94"/><circle cx="1275.5" cy="510.5" r="6.94"/><circle cx="1277.5" cy="511.5" r="6.94"/><circle cx="1280.5" cy="511.5" r="6.94"/><circle cx="1282.5" cy="511.5" r="6.94"/><circle cx="1285.5" cy="511.5" r="6.94"/><circle cx="1287.5" cy="512.5" r="6.94"/><circle cx="1289.5" cy="513.5" r="6.94"/><circle cx="1292.5" cy="513.5" r="6.94"/><circle cx="1294.5" cy="513.5" r="6.94"/><circle cx="1297.5" cy="514.5" r="6.94"/><circle cx="1299.5" cy="514.5" r="6.94"/></g><polyline class="sm" points="1016.56,306.76 1019.02,317.16 1021.48,335.43 1023.94,357.66 1026.4,379.95 1028.86,399.65 1031.32,415.59 1033.77,427.8 1036.23,436.94 1038.69,443.79 1041.15,449.02 1043.61,453.14 1046.07,456.49 1048.52,459.31 1050.98,461.74 1053.44,463.88 1055.9,465.81 1058.36,467.56 1060.82,469.17 1063.28,470.67 1065.73,472.07 1068.19,473.37 1070.65,474.58 1073.11,475.7 1075.57,476.73 1078.03,477.68 1080.49,478.55 1082.94,479.38 1085.4,480.18 1087.86,480.97 1090.32,481.78 1092.78,482.58 1095.24,483.38 1097.69,484.15 1100.15,484.84 1102.61,485.46 1105.07,486 1107.53,486.46 1109.99,486.89 1112.45,487.29 1114.9,487.68 1117.36,488.08 1119.82,488.48 1122.28,488.87 1124.74,489.25 1127.2,489.62 1129.66,489.97 1132.11,490.3 1134.57,490.63 1137.03,490.97 1139.49,491.33 1141.95,491.73 1144.41,492.18 1146.86,492.69 1149.32,493.24 1151.78,493.81 1154.24,494.38 1156.7,494.91 1159.16,495.4 1161.62,495.84 1164.07,496.25 1166.53,496.65 1168.99,497.06 1171.45,497.47 1173.91,497.9 1176.37,498.33 1178.83,498.74 1181.28,499.12 1183.74,499.46 1186.2,499.77 1188.66,500.03 1191.12,500.27 1193.58,500.49 1196.03,500.69 1198.49,500.91 1200.95,501.15 1203.41,501.42 1205.87,501.72 1208.33,502.07 1210.79,502.46 1213.24,502.88 1215.7,503.32 1218.16,503.77 1220.62,504.23 1223.08,504.69 1225.54,505.13 1228,505.55 1230.45,505.93 1232.91,506.25 1235.37,506.52 1237.83,506.75 1240.29,506.94 1242.75,507.1 1245.2,507.27 1247.66,507.44 1250.12,507.61 1252.58,507.8 1255.04,508 1257.5,508.22 1259.96,508.45 1262.41,508.7 1264.87,508.96 1267.33,509.25 1269.79,509.54 1272.25,509.85 1274.71,510.19 1277.17,510.54 1279.62,510.91 1282.08,511.3 1284.54,511.7 1287,512.11 1289.46,512.5 1291.92,512.85 1294.37,513.15 1296.83,513.36 1299.29,513.47"/><g class="tk"><rect x="1012.89" y="535" width="2.22" height="10"/><rect x="1135.89" y="535" width="2.22" height="10"/><rect x="1258.89" y="535" width="2.22" height="10"/><rect x="992" y="488.89" width="10" height="2.22"/><rect x="992" y="404.89" width="10" height="2.22"/><rect x="992" y="321.89" width="10" height="2.22"/><rect x="992" y="237.89" width="10" height="2.22"/><rect x="992" y="153.89" width="10" height="2.22"/></g><rect class="fr" x="1002" y="76" width="311" height="459"/><text x="1050.37" y="59.33" font-size="35" textLength="215.12" lengthAdjust="spacingAndGlyphs">train/cls_loss</text><text x="1004.42" y="577.44" font-size="32.08" textLength="19.38" lengthAdjust="spacingAndGlyphs">0</text><text x="1117.66" y="577.44" font-size="32.08" textLength="38.75" lengthAdjust="spacingAndGlyphs">50</text><text x="1230.89" y="577.44" font-size="32.08" textLength="58.12" lengthAdjust="spacingAndGlyphs">100</text><text x="934.61" y="501.5" font-size="32.08" textLength="48.38" lengthAdjust="spacingAndGlyphs">0.2</text><text x="934.61" y="417.75" font-size="32.08" textLength="48.38" lengthAdjust="spacingAndGlyphs">0.4</text><text x="934.61" y="334" font-size="32.08" textLength="48.38" lengthAdjust="spacingAndGlyphs">0.6</text><text x="934.48" y="250.25" font-size="32.08" textLength="48.5" lengthAdjust="spacingAndGlyphs">0.8</text><text x="934.61" y="166.5" font-size="32.08" textLength="48.38" lengthAdjust="spacingAndGlyphs">1.0</text></g>
<g><polyline class="ln" points="1467.28,96.86 1469.74,286.4 1472.2,213.84 1474.65,202.3 1477.11,246.91 1479.57,291.53 1482.03,303.07 1484.49,324.86 1486.95,340.43 1489.4,358.9 1491.86,364.31 1494.32,373.86 1496.78,379.39 1499.24,385.57 1501.7,396.06 1504.16,396.98 1506.61,404.85 1509.07,399.22 1511.53,417.93 1513.99,416.16 1516.45,414.09 1518.91,422.9 1521.37,433.57 1523.82,433.07 1526.28,424.66 1528.74,428.45 1531.2,430.6 1533.66,441.38 1536.12,434.82 1538.57,442.55 1541.03,445.54 1543.49,443.71 1545.95,441.01 1548.41,455.21 1550.87,452.34 1553.33,451.01 1555.78,444.49 1558.24,449.08 1560.7,453.88 1563.16,451.8 1565.62,451.01 1568.08,455.15 1570.54,462.09 1572.99,459.2 1575.45,460.35 1577.91,466.14 1580.37,455.11 1582.83,458.46 1585.29,463.5 1587.74,461.18 1590.2,462.56 1592.66,471.88 1595.12,467.33 1597.58,468.56 1600.04,472.3 1602.5,470.44 1604.95,476.45 1607.41,471.25 1609.87,478.7 1612.33,474 1614.79,468.29 1617.25,475.59 1619.71,477.21 1622.16,476.65 1624.62,477.97 1627.08,482.58 1629.54,476.45 1632,483.09 1634.46,481.35 1636.91,476.45 1639.37,479.73 1641.83,483.3 1644.29,480.37 1646.75,489.98 1649.21,482.95 1651.67,485.73 1654.12,488.97 1656.58,485.25 1659.04,484.26 1661.5,487.16 1663.96,491.69 1666.42,490.53 1668.88,496.82 1671.33,491.98 1673.79,494.15 1676.25,485.36 1678.71,494.06 1681.17,497.8 1683.63,491.12 1686.08,495.07 1688.54,495.12 1691,495.43 1693.46,496.1 1695.92,501.26 1698.38,492.8 1700.84,497.23 1703.29,500.96 1705.75,500.55 1708.21,503.52 1710.67,500.34 1713.13,499.53 1715.59,500.43 1718.05,501.18 1720.5,504.1 1722.96,499.5 1725.42,498.44 1727.88,505.48 1730.34,508.19 1732.8,506.3 1735.25,507.79 1737.71,501.29 1740.17,502.55 1742.63,514.14 1745.09,511.08 1747.55,514.14 1750.01,512.29"/><g class="mk"><circle cx="1467.5" cy="97.5" r="6.94"/><circle cx="1470.5" cy="286.5" r="6.94"/><circle cx="1472.5" cy="214.5" r="6.94"/><circle cx="1475.5" cy="202.5" r="6.94"/><circle cx="1477.5" cy="247.5" r="6.94"/><circle cx="1480.5" cy="292.5" r="6.94"/><circle cx="1482.5" cy="303.5" r="6.94"/><circle cx="1484.5" cy="325.5" r="6.94"/><circle cx="1487.5" cy="340.5" r="6.94"/><circle cx="1489.5" cy="359.5" r="6.94"/><circle cx="1492.5" cy="364.5" r="6.94"/><circle cx="1494.5" cy="374.5" r="6.94"/><circle cx="1497.5" cy="379.5" r="6.94"/><circle cx="1499.5" cy="386.5" r="6.94"/><circle cx="1502.5" cy="396.5" r="6.94"/><circle cx="1504.5" cy="397.5" r="6.94"/><circle cx="1507.5" cy="405.5" r="6.94"/><circle cx="1509.5" cy="399.5" r="6.94"/><circle cx="1512.5" cy="418.5" r="6.94"/><circle cx="1514.5" cy="416.5" r="6.94"/><circle cx="1516.5" cy="414.5" r="6.94"/><circle cx="1519.5" cy="423.5" r="6.94"/><circle cx="1521.5" cy="434.5" r="6.94"/><circle cx="1524.5" cy="433.5" r="6.94"/><circle cx="1526.5" cy="425.5" r="6.94"/><circle cx="1529.5" cy="428.5" r="6.94"/><circle cx="1531.5" cy="431.5" r="6.94"/><circle cx="1534.5" cy="441.5" r="6.94"/><circle cx="1536.5" cy="435.5" r="6.94"/><circle cx="1539.5" cy="443.5" r="6.94"/><circle cx="1541.5" cy="446.5" r="6.94"/><circle cx="1543.5" cy="444.5" r="6.94"/><circle cx="1546.5" cy="441.5" r="6.94"/><circle cx="1548.5" cy="455.5" r="6.94"/><circle cx="1551.5" cy="452.5" r="6.94"/><circle cx="1553.5" cy="451.5" r="6.94"/><circle cx="1556.5" cy="444.5" r="6.94"/><circle cx="1558.5" cy="449.5" r="6.94"/><circle cx="1561.5" cy="454.5" r="6.94"/><circle cx="1563.5" cy="452.5" r="6.94"/><circle cx="1566.5" cy="451.5" r="6.94"/><circle cx="1568.5" cy="455.5" r="6.94"/><circle cx="1571.5" cy="462.5" r="6.94"/><circle cx="1573.5" cy="459.5" r="6.94"/><circle cx="1575.5" cy="460.5" r="6.94"/><circle cx="1578.5" cy="466.5" r="6.94"/><circle cx="1580.5" cy="455.5" r="6.94"/><circle cx="1583.5" cy="458.5" r="6.94"/><circle cx="1585.5" cy="464.5" r="6.94"/><circle cx="1588.5" cy="461.5" r="6.94"/><circle cx="1590.5" cy="463.5" r="6.94"/><circle cx="1593.5" cy="472.5" r="6.94"/><circle cx="1595.5" cy="467.5" r="6.94"/><circle cx="1598.5" cy="469.5" r="6.94"/><circle cx="1600.5" cy="472.5" r="6.94"/><circle cx="1602.5" cy="470.5" r="6.94"/><circle cx="1605.5" cy="476.5" r="6.94"/><circle cx="1607.5" cy="471.5" r="6.94"/><circle cx="1610.5" cy="479.5" r="6.94"/><circle cx="1612.5" cy="474.5" r="6.94"/><circle cx="1615.5" cy="468.5" r="6.94"/><circle cx="1617.5" cy="476.5" r="6.94"/><circle cx="1620.5" cy="477.5" r="6.94"/><circle cx="1622.5" cy="477.5" r="6.94"/><circle cx="1625.5" cy="478.5" r="6.94"/><circle cx="1627.5" cy="483.5" r="6.94"/><circle cx="1630.5" cy="476.5" r="6.94"/><circle cx="1632.5" cy="483.5" r="6.94"/><circle cx="1634.5" cy="481.5" r="6.94"/><circle cx="1637.5" cy="476.5" r="6.94"/><circle cx="1639.5" cy="480.5" r="6.94"/><circle cx="1642.5" cy="483.5" r="6.94"/><circle cx="1644.5" cy="480.5" r="6.94"/><circle cx="1647.5" cy="490.5" r="6.94"/><circle cx="1649.5" cy="483.5" r="6.94"/><circle cx="1652.5" cy="486.5" r="6.94"/><circle cx="1654.5" cy="489.5" r="6.94"/><circle cx="1657.5" cy="485.5" r="6.94"/><circle cx="1659.5" cy="484.5" r="6.94"/><circle cx="1661.5" cy="487.5" r="6.94"/><circle cx="1664.5" cy="492.5" r="6.94"/><circle cx="1666.5" cy="491.5" r="6.94"/><circle cx="1669.5" cy="497.5" r="6.94"/><circle cx="1671.5" cy="492.5" r="6.94"/><circle cx="1674.5" cy="494.5" r="6.94"/><circle cx="1676.5" cy="485.5" r="6.94"/><circle cx="1679.5" cy="494.5" r="6.94"/><circle cx="1681.5" cy="498.5" r="6.94"/><circle cx="1684.5" cy="491.5" r="6.94"/><circle cx="1686.5" cy="495.5" r="6.94"/><circle cx="1689.5" cy="495.5" r="6.94"/><circle cx="1691.5" cy="495.5" r="6.94"/><circle cx="1693.5" cy="496.5" r="6.94"/><circle cx="1696.5" cy="501.5" r="6.94"/><circle cx="1698.5" cy="493.5" r="6.94"/><circle cx="1701.5" cy="497.5" r="6.94"/><circle cx="1703.5" cy="501.5" r="6.94"/><circle cx="1706.5" cy="501.5" r="6.94"/><circle cx="1708.5" cy="504.5" r="6.94"/><circle cx="1711.5" cy="500.5" r="6.94"/><circle cx="1713.5" cy="500.5" r="6.94"/><circle cx="1716.5" cy="500.5" r="6.94"/><circle cx="1718.5" cy="501.5" r="6.94"/><circle cx="1721.5" cy="504.5" r="6.94"/><circle cx="1723.5" cy="499.5" r="6.94"/><circle cx="1725.5" cy="498.5" r="6.94"/><circle cx="1728.5" cy="505.5" r="6.94"/><circle cx="1730.5" cy="508.5" r="6.94"/><circle cx="1733.5" cy="506.5" r="6.94"/><circle cx="1735.5" cy="508.5" r="6.94"/><circle cx="1738.5" cy="501.5" r="6.94"/><circle cx="1740.5" cy="503.5" r="6.94"/><circle cx="1743.5" cy="514.5" r="6.94"/><circle cx="1745.5" cy="511.5" r="6.94"/><circle cx="1748.5" cy="514.5" r="6.94"/><circle cx="1750.5" cy="512.5" r="6.94"/></g><polyline class="sm" points="1467.28,210.62 1469.74,216.3 1472.2,227.01 1474.65,241.62 1477.11,258.82 1479.57,277.3 1482.03,295.89 1484.49,313.63 1486.95,329.84 1489.4,344.13 1491.86,356.44 1494.32,366.89 1496.78,375.75 1499.24,383.33 1501.7,389.91 1504.16,395.73 1506.61,400.97 1509.07,405.78 1511.53,410.23 1513.99,414.35 1516.45,418.13 1518.91,421.52 1521.37,424.51 1523.82,427.12 1526.28,429.46 1528.74,431.65 1531.2,433.81 1533.66,436 1536.12,438.19 1538.57,440.35 1541.03,442.4 1543.49,444.27 1545.95,445.91 1548.41,447.29 1550.87,448.41 1553.33,449.33 1555.78,450.17 1558.24,451.03 1560.7,452.02 1563.16,453.19 1565.62,454.49 1568.08,455.86 1570.54,457.16 1572.99,458.32 1575.45,459.29 1577.91,460.1 1580.37,460.85 1582.83,461.67 1585.29,462.65 1587.74,463.82 1590.2,465.14 1592.66,466.56 1595.12,467.97 1597.58,469.31 1600.04,470.52 1602.5,471.57 1604.95,472.44 1607.41,473.14 1609.87,473.73 1612.33,474.26 1614.79,474.84 1617.25,475.5 1619.71,476.26 1622.16,477.07 1624.62,477.88 1627.08,478.61 1629.54,479.24 1632,479.8 1634.46,480.32 1636.91,480.9 1639.37,481.57 1641.83,482.34 1644.29,483.18 1646.75,484.02 1649.21,484.82 1651.67,485.57 1654.12,486.3 1656.58,487.05 1659.04,487.87 1661.5,488.76 1663.96,489.68 1666.42,490.53 1668.88,491.26 1671.33,491.84 1673.79,492.3 1676.25,492.71 1678.71,493.13 1681.17,493.6 1683.63,494.11 1686.08,494.67 1688.54,495.25 1691,495.85 1693.46,496.46 1695.92,497.1 1698.38,497.77 1700.84,498.44 1703.29,499.09 1705.75,499.68 1708.21,500.17 1710.67,500.55 1713.13,500.86 1715.59,501.14 1718.05,501.47 1720.5,501.89 1722.96,502.44 1725.42,503.09 1727.88,503.81 1730.34,504.58 1732.8,505.36 1735.25,506.18 1737.71,507.07 1740.17,508.04 1742.63,509.04 1745.09,509.97 1747.55,510.69 1750.01,511.08"/><g class="tk"><rect x="1463.89" y="535" width="2.22" height="10"/><rect x="1586.89" y="535" width="2.22" height="10"/><rect x="1709.89" y="535" width="2.22" height="10"/><rect x="1443" y="413.89" width="10" height="2.22"/><rect x="1443" y="285.89" width="10" height="2.22"/><rect x="1443" y="157.89" width="10" height="2.22"/></g><rect class="fr" x="1453" y="76" width="311" height="459"/><text x="1502.45" y="59.33" font-size="35" textLength="212.38" lengthAdjust="spacingAndGlyphs">train/dfl_loss</text><text x="1455.13" y="577.44" font-size="32.08" textLength="19.38" lengthAdjust="spacingAndGlyphs">0</text><text x="1568.37" y="577.44" font-size="32.08" textLength="38.75" lengthAdjust="spacingAndGlyphs">50</text><text x="1681.61" y="577.44" font-size="32.08" textLength="58.12" lengthAdjust="spacingAndGlyphs">100</text><text x="1365.95" y="426.5" font-size="32.08" textLength="67.75" lengthAdjust="spacingAndGlyphs">0.90</text><text x="1365.95" y="298.5" font-size="32.08" textLength="67.75" lengthAdjust="spacingAndGlyphs">0.95</text><text x="1365.95" y="170.5" font-size="32.08" textLength="67.75" lengthAdjust="spacingAndGlyphs">1.00</text></g>
<g><polyline class="ln" points="1917.99,401.35 1920.45,256.89 1922.91,504.89 1925.37,514.14 1927.83,337.06 1930.28,396.34 1932.74,341.23 1935.2,300.32 1937.66,247.71 1940.12,307.83 1942.58,284.45 1945.04,223.5 1947.49,306.16 1949.95,320.36 1952.41,251.05 1954.87,247.71 1957.33,255.23 1959.79,237.69 1962.25,212.64 1964.7,187.59 1967.16,146.68 1969.62,207.63 1972.08,158.37 1974.54,208.47 1977,184.25 1979.45,146.68 1981.91,243.54 1984.37,171.72 1986.83,163.38 1989.29,226 1991.75,223.5 1994.21,156.7 1996.66,159.2 1999.12,163.38 2001.58,222.66 2004.04,215.15 2006.5,144.17 2008.96,108.27 2011.42,142.5 2013.87,129.97 2016.33,167.55 2018.79,134.15 2021.25,138.32 2023.71,215.15 2026.17,150.85 2028.62,229.34 2031.08,155.03 2033.54,142.5 2036,124.13 2038.46,159.2 2040.92,177.57 2043.38,167.55 2045.83,189.26 2048.29,129.97 2050.75,123.3 2053.21,142.5 2055.67,150.85 2058.13,165.88 2060.59,134.15 2063.04,125.8 2065.5,149.18 2067.96,121.63 2070.42,138.32 2072.88,117.45 2075.34,113.28 2077.79,96.86 2080.25,104.93 2082.71,102.42 2085.17,113.28 2087.63,123.3 2090.09,109.1 2092.55,121.63 2095,104.93 2097.46,102.42 2099.92,97.41 2102.38,109.1 2104.84,117.45 2107.3,121.63 2109.76,129.97 2112.21,125.8 2114.67,115.78 2117.13,150.02 2119.59,134.15 2122.05,129.97 2124.51,121.63 2126.96,138.32 2129.42,135.82 2131.88,129.97 2134.34,138.32 2136.8,142.5 2139.26,134.15 2141.72,129.97 2144.17,121.63 2146.63,117.45 2149.09,115.78 2151.55,113.28 2154.01,108.27 2156.47,117.45 2158.93,125.8 2161.38,137.49 2163.84,121.63 2166.3,117.45 2168.76,115.78 2171.22,121.63 2173.68,127.47 2176.13,125.8 2178.59,121.63 2181.05,119.12 2183.51,117.45 2185.97,115.78 2188.43,114.11 2190.89,112.44 2193.34,109.94 2195.8,117.45 2198.26,123.3 2200.72,121.63"/><g class="mk"><circle cx="1918.5" cy="401.5" r="6.94"/><circle cx="1920.5" cy="257.5" r="6.94"/><circle cx="1923.5" cy="505.5" r="6.94"/><circle cx="1925.5" cy="514.5" r="6.94"/><circle cx="1928.5" cy="337.5" r="6.94"/><circle cx="1930.5" cy="396.5" r="6.94"/><circle cx="1933.5" cy="341.5" r="6.94"/><circle cx="1935.5" cy="300.5" r="6.94"/><circle cx="1938.5" cy="248.5" r="6.94"/><circle cx="1940.5" cy="308.5" r="6.94"/><circle cx="1943.5" cy="284.5" r="6.94"/><circle cx="1945.5" cy="223.5" r="6.94"/><circle cx="1947.5" cy="306.5" r="6.94"/><circle cx="1950.5" cy="320.5" r="6.94"/><circle cx="1952.5" cy="251.5" r="6.94"/><circle cx="1955.5" cy="248.5" r="6.94"/><circle cx="1957.5" cy="255.5" r="6.94"/><circle cx="1960.5" cy="238.5" r="6.94"/><circle cx="1962.5" cy="213.5" r="6.94"/><circle cx="1965.5" cy="188.5" r="6.94"/><circle cx="1967.5" cy="147.5" r="6.94"/><circle cx="1970.5" cy="208.5" r="6.94"/><circle cx="1972.5" cy="158.5" r="6.94"/><circle cx="1975.5" cy="208.5" r="6.94"/><circle cx="1977.5" cy="184.5" r="6.94"/><circle cx="1979.5" cy="147.5" r="6.94"/><circle cx="1982.5" cy="244.5" r="6.94"/><circle cx="1984.5" cy="172.5" r="6.94"/><circle cx="1987.5" cy="163.5" r="6.94"/><circle cx="1989.5" cy="226.5" r="6.94"/><circle cx="1992.5" cy="223.5" r="6.94"/><circle cx="1994.5" cy="157.5" r="6.94"/><circle cx="1997.5" cy="159.5" r="6.94"/><circle cx="1999.5" cy="163.5" r="6.94"/><circle cx="2002.5" cy="223.5" r="6.94"/><circle cx="2004.5" cy="215.5" r="6.94"/><circle cx="2006.5" cy="144.5" r="6.94"/><circle cx="2009.5" cy="108.5" r="6.94"/><circle cx="2011.5" cy="143.5" r="6.94"/><circle cx="2014.5" cy="130.5" r="6.94"/><circle cx="2016.5" cy="168.5" r="6.94"/><circle cx="2019.5" cy="134.5" r="6.94"/><circle cx="2021.5" cy="138.5" r="6.94"/><circle cx="2024.5" cy="215.5" r="6.94"/><circle cx="2026.5" cy="151.5" r="6.94"/><circle cx="2029.5" cy="229.5" r="6.94"/><circle cx="2031.5" cy="155.5" r="6.94"/><circle cx="2034.5" cy="143.5" r="6.94"/><circle cx="2036.5" cy="124.5" r="6.94"/><circle cx="2038.5" cy="159.5" r="6.94"/><circle cx="2041.5" cy="178.5" r="6.94"/><circle cx="2043.5" cy="168.5" r="6.94"/><circle cx="2046.5" cy="189.5" r="6.94"/><circle cx="2048.5" cy="130.5" r="6.94"/><circle cx="2051.5" cy="123.5" r="6.94"/><circle cx="2053.5" cy="143.5" r="6.94"/><circle cx="2056.5" cy="151.5" r="6.94"/><circle cx="2058.5" cy="166.5" r="6.94"/><circle cx="2061.5" cy="134.5" r="6.94"/><circle cx="2063.5" cy="126.5" r="6.94"/><circle cx="2066.5" cy="149.5" r="6.94"/><circle cx="2068.5" cy="122.5" r="6.94"/><circle cx="2070.5" cy="138.5" r="6.94"/><circle cx="2073.5" cy="117.5" r="6.94"/><circle cx="2075.5" cy="113.5" r="6.94"/><circle cx="2078.5" cy="97.5" r="6.94"/><circle cx="2080.5" cy="105.5" r="6.94"/><circle cx="2083.5" cy="102.5" r="6.94"/><circle cx="2085.5" cy="113.5" r="6.94"/><circle cx="2088.5" cy="123.5" r="6.94"/><circle cx="2090.5" cy="109.5" r="6.94"/><circle cx="2093.5" cy="122.5" r="6.94"/><circle cx="2095.5" cy="105.5" r="6.94"/><circle cx="2097.5" cy="102.5" r="6.94"/><circle cx="2100.5" cy="97.5" r="6.94"/><circle cx="2102.5" cy="109.5" r="6.94"/><circle cx="2105.5" cy="117.5" r="6.94"/><circle cx="2107.5" cy="122.5" r="6.94"/><circle cx="2110.5" cy="130.5" r="6.94"/><circle cx="2112.5" cy="126.5" r="6.94"/><circle cx="2115.5" cy="116.5" r="6.94"/><circle cx="2117.5" cy="150.5" r="6.94"/><circle cx="2120.5" cy="134.5" r="6.94"/><circle cx="2122.5" cy="130.5" r="6.94"/><circle cx="2125.5" cy="122.5" r="6.94"/><circle cx="2127.5" cy="138.5" r="6.94"/><circle cx="2129.5" cy="136.5" r="6.94"/><circle cx="2132.5" cy="130.5" r="6.94"/><circle cx="2134.5" cy="138.5" r="6.94"/><circle cx="2137.5" cy="143.5" r="6.94"/><circle cx="2139.5" cy="134.5" r="6.94"/><circle cx="2142.5" cy="130.5" r="6.94"/><circle cx="2144.5" cy="122.5" r="6.94"/><circle cx="2147.5" cy="117.5" r="6.94"/><circle cx="2149.5" cy="116.5" r="6.94"/><circle cx="2152.5" cy="113.5" r="6.94"/><circle cx="2154.5" cy="108.5" r="6.94"/><circle cx="2156.5" cy="117.5" r="6.94"/><circle cx="2159.5" cy="126.5" r="6.94"/><circle cx="2161.5" cy="137.5" r="6.94"/><circle cx="2164.5" cy="122.5" r="6.94"/><circle cx="2166.5" cy="117.5" r="6.94"/><circle cx="2169.5" cy="116.5" r="6.94"/><circle cx="2171.5" cy="122.5" r="6.94"/><circle cx="2174.5" cy="127.5" r="6.94"/><circle cx="2176.5" cy="126.5" r="6.94"/><circle cx="2179.5" cy="122.5" r="6.94"/><circle cx="2181.5" cy="119.5" r="6.94"/><circle cx="2184.5" cy="117.5" r="6.94"/><circle cx="2186.5" cy="116.5" r="6.94"/><circle cx="2188.5" cy="114.5" r="6.94"/><circle cx="2191.5" cy="112.5" r="6.94"/><circle cx="2193.5" cy="110.5" r="6.94"/><circle cx="2196.5" cy="117.5" r="6.94"/><circle cx="2198.5" cy="123.5" r="6.94"/><circle cx="2201.5" cy="122.5" r="6.94"/></g><polyline class="sm" points="1917.99,392.54 1920.45,391.99 1922.91,389.7 1925.37,384.06 1927.83,374.05 1930.28,359.94 1932.74,343.27 1935.2,326.2 1937.66,310.74 1940.12,298.1 1942.58,288.46 1945.04,281.08 1947.49,274.72 1949.95,268.07 1952.41,260.17 1954.87,250.61 1957.33,239.6 1959.79,227.84 1962.25,216.32 1964.7,206.05 1967.16,197.83 1969.62,192.04 1972.08,188.63 1974.54,187.16 1977,187.07 1979.45,187.73 1981.91,188.63 1984.37,189.31 1986.83,189.42 1989.29,188.76 1991.75,187.28 1994.21,185.04 1996.66,182.07 1999.12,178.29 2001.58,173.59 2004.04,168.09 2006.5,162.33 2008.96,157.21 2011.42,153.73 2013.87,152.53 2016.33,153.67 2018.79,156.55 2021.25,160.15 2023.71,163.35 2026.17,165.25 2028.62,165.53 2031.08,164.45 2033.54,162.68 2036,160.89 2038.46,159.38 2040.92,158.01 2043.38,156.42 2045.83,154.37 2048.29,151.92 2050.75,149.33 2053.21,146.86 2055.67,144.55 2058.13,142.24 2060.59,139.69 2063.04,136.67 2065.5,133.13 2067.96,129.13 2070.42,124.88 2072.88,120.71 2075.34,117 2077.79,114.1 2080.25,112.2 2082.71,111.24 2085.17,110.92 2087.63,110.87 2090.09,110.79 2092.55,110.62 2095,110.55 2097.46,110.89 2099.92,111.94 2102.38,113.8 2104.84,116.35 2107.3,119.31 2109.76,122.35 2112.21,125.14 2114.67,127.51 2117.13,129.35 2119.59,130.71 2122.05,131.68 2124.51,132.4 2126.96,132.93 2129.42,133.27 2131.88,133.27 2134.34,132.76 2136.8,131.59 2139.26,129.74 2141.72,127.38 2144.17,124.82 2146.63,122.48 2149.09,120.72 2151.55,119.75 2154.01,119.59 2156.47,120.03 2158.93,120.74 2161.38,121.41 2163.84,121.86 2166.3,122.06 2168.76,122.05 2171.22,121.9 2173.68,121.58 2176.13,121.04 2178.59,120.27 2181.05,119.3 2183.51,118.27 2185.97,117.37 2188.43,116.79 2190.89,116.63 2193.34,116.87 2195.8,117.37 2198.26,117.9 2200.72,118.24"/><g class="tk"><rect x="1914.89" y="535" width="2.22" height="10"/><rect x="2036.89" y="535" width="2.22" height="10"/><rect x="2159.89" y="535" width="2.22" height="10"/><rect x="1894" y="458.89" width="10" height="2.22"/><rect x="1894" y="375.89" width="10" height="2.22"/><rect x="1894" y="291.89" width="10" height="2.22"/><rect x="1894" y="208.89" width="10" height="2.22"/><rect x="1894" y="124.89" width="10" height="2.22"/></g><rect class="fr" x="1904" y="76" width="311" height="459"/><text x="1891.54" y="59.33" font-size="35" textLength="335.62" lengthAdjust="spacingAndGlyphs">metrics/precision(B)</text><text x="1905.85" y="577.44" font-size="32.08" textLength="19.38" lengthAdjust="spacingAndGlyphs">0</text><text x="2019.08" y="577.44" font-size="32.08" textLength="38.75" lengthAdjust="spacingAndGlyphs">50</text><text x="2132.32" y="577.44" font-size="32.08" textLength="58.12" lengthAdjust="spacingAndGlyphs">100</text><text x="1816.66" y="471.5" font-size="32.08" textLength="67.75" lengthAdjust="spacingAndGlyphs">0.95</text><text x="1816.66" y="388" font-size="32.08" textLength="67.75" lengthAdjust="spacingAndGlyphs">0.96</text><text x="1816.66" y="304.5" font-size="32.08" textLength="67.75" lengthAdjust="spacingAndGlyphs">0.97</text><text x="1816.54" y="221" font-size="32.08" textLength="67.88" lengthAdjust="spacingAndGlyphs">0.98</text><text x="1816.66" y="137.5" font-size="32.08" textLength="67.75" lengthAdjust="spacingAndGlyphs">0.99</text></g>
<g><polyline class="ln" points="2368.71,346.11 2371.16,514.14 2373.62,383.77 2376.08,302.18 2378.54,469.54 2381,179.8 2383.46,174.57 2385.92,124.36 2388.37,158.88 2390.83,153.65 2393.29,204.9 2395.75,232.62 2398.21,164.11 2400.67,153.65 2403.13,169.34 2405.58,106.68 2408.04,196.54 2410.5,203.86 2412.96,179.8 2415.42,146.85 2417.88,214.32 2420.33,229.38 2422.79,109.51 2425.25,96.86 2427.71,179.8 2430.17,108.67 2432.63,146.33 2435.09,188.27 2437.54,169.34 2440,196.12 2442.46,115.78 2444.92,148.42 2447.38,160.97 2449.84,132.73 2452.3,148.42 2454.75,110.87 2457.21,143.19 2459.67,153.65 2462.13,159.3 2464.59,137.96 2467.05,146.33 2469.5,132.73 2471.96,122.27 2474.42,103.13 2476.88,186.91 2479.34,137.96 2481.8,121.96 2484.26,148.42 2486.71,243.19 2489.17,169.34 2491.63,164.11 2494.09,137.96 2496.55,143.19 2499.01,127.5 2501.47,143.19 2503.92,158.88 2506.38,178.75 2508.84,132.73 2511.3,116.41 2513.76,148.42 2516.22,150.51 2518.67,116.41 2521.13,116.41 2523.59,143.19 2526.05,153.65 2528.51,164.11 2530.97,178.75 2533.43,116.2 2535.88,148.42 2538.34,129.07 2540.8,158.88 2543.26,178.75 2545.72,178.75 2548.18,150.93 2550.64,178.75 2553.09,178.75 2555.55,178.75 2558.01,178.75 2560.47,178.75 2562.93,141.31 2565.39,167.25 2567.84,116.41 2570.3,127.5 2572.76,132.73 2575.22,122.27 2577.68,116.41 2580.14,127.5 2582.6,127.5 2585.05,132.73 2587.51,137.96 2589.97,132.73 2592.43,141.31 2594.89,127.5 2597.35,124.36 2599.81,124.68 2602.26,132.73 2604.72,146.33 2607.18,143.19 2609.64,153.75 2612.1,130.32 2614.56,137.96 2617.01,137.96 2619.47,138.48 2621.93,141.31 2624.39,141.31 2626.85,141.31 2629.31,141.31 2631.77,141.31 2634.22,141.31 2636.68,141.31 2639.14,141.31 2641.6,141.31 2644.06,141.31 2646.52,141.31 2648.98,141.31 2651.43,150.93"/><g class="mk"><circle cx="2369.5" cy="346.5" r="6.94"/><circle cx="2371.5" cy="514.5" r="6.94"/><circle cx="2374.5" cy="384.5" r="6.94"/><circle cx="2376.5" cy="302.5" r="6.94"/><circle cx="2379.5" cy="470.5" r="6.94"/><circle cx="2381.5" cy="180.5" r="6.94"/><circle cx="2383.5" cy="175.5" r="6.94"/><circle cx="2386.5" cy="124.5" r="6.94"/><circle cx="2388.5" cy="159.5" r="6.94"/><circle cx="2391.5" cy="154.5" r="6.94"/><circle cx="2393.5" cy="205.5" r="6.94"/><circle cx="2396.5" cy="233.5" r="6.94"/><circle cx="2398.5" cy="164.5" r="6.94"/><circle cx="2401.5" cy="154.5" r="6.94"/><circle cx="2403.5" cy="169.5" r="6.94"/><circle cx="2406.5" cy="107.5" r="6.94"/><circle cx="2408.5" cy="197.5" r="6.94"/><circle cx="2411.5" cy="204.5" r="6.94"/><circle cx="2413.5" cy="180.5" r="6.94"/><circle cx="2415.5" cy="147.5" r="6.94"/><circle cx="2418.5" cy="214.5" r="6.94"/><circle cx="2420.5" cy="229.5" r="6.94"/><circle cx="2423.5" cy="110.5" r="6.94"/><circle cx="2425.5" cy="97.5" r="6.94"/><circle cx="2428.5" cy="180.5" r="6.94"/><circle cx="2430.5" cy="109.5" r="6.94"/><circle cx="2433.5" cy="146.5" r="6.94"/><circle cx="2435.5" cy="188.5" r="6.94"/><circle cx="2438.5" cy="169.5" r="6.94"/><circle cx="2440.5" cy="196.5" r="6.94"/><circle cx="2442.5" cy="116.5" r="6.94"/><circle cx="2445.5" cy="148.5" r="6.94"/><circle cx="2447.5" cy="161.5" r="6.94"/><circle cx="2450.5" cy="133.5" r="6.94"/><circle cx="2452.5" cy="148.5" r="6.94"/><circle cx="2455.5" cy="111.5" r="6.94"/><circle cx="2457.5" cy="143.5" r="6.94"/><circle cx="2460.5" cy="154.5" r="6.94"/><circle cx="2462.5" cy="159.5" r="6.94"/><circle cx="2465.5" cy="138.5" r="6.94"/><circle cx="2467.5" cy="146.5" r="6.94"/><circle cx="2470.5" cy="133.5" r="6.94"/><circle cx="2472.5" cy="122.5" r="6.94"/><circle cx="2474.5" cy="103.5" r="6.94"/><circle cx="2477.5" cy="187.5" r="6.94"/><circle cx="2479.5" cy="138.5" r="6.94"/><circle cx="2482.5" cy="122.5" r="6.94"/><circle cx="2484.5" cy="148.5" r="6.94"/><circle cx="2487.5" cy="243.5" r="6.94"/><circle cx="2489.5" cy="169.5" r="6.94"/><circle cx="2492.5" cy="164.5" r="6.94"/><circle cx="2494.5" cy="138.5" r="6.94"/><circle cx="2497.5" cy="143.5" r="6.94"/><circle cx="2499.5" cy="127.5" r="6.94"/><circle cx="2501.5" cy="143.5" r="6.94"/><circle cx="2504.5" cy="159.5" r="6.94"/><circle cx="2506.5" cy="179.5" r="6.94"/><circle cx="2509.5" cy="133.5" r="6.94"/><circle cx="2511.5" cy="116.5" r="6.94"/><circle cx="2514.5" cy="148.5" r="6.94"/><circle cx="2516.5" cy="151.5" r="6.94"/><circle cx="2519.5" cy="116.5" r="6.94"/><circle cx="2521.5" cy="116.5" r="6.94"/><circle cx="2524.5" cy="143.5" r="6.94"/><circle cx="2526.5" cy="154.5" r="6.94"/><circle cx="2529.5" cy="164.5" r="6.94"/><circle cx="2531.5" cy="179.5" r="6.94"/><circle cx="2533.5" cy="116.5" r="6.94"/><circle cx="2536.5" cy="148.5" r="6.94"/><circle cx="2538.5" cy="129.5" r="6.94"/><circle cx="2541.5" cy="159.5" r="6.94"/><circle cx="2543.5" cy="179.5" r="6.94"/><circle cx="2546.5" cy="179.5" r="6.94"/><circle cx="2548.5" cy="151.5" r="6.94"/><circle cx="2551.5" cy="179.5" r="6.94"/><circle cx="2553.5" cy="179.5" r="6.94"/><circle cx="2556.5" cy="179.5" r="6.94"/><circle cx="2558.5" cy="179.5" r="6.94"/><circle cx="2560.5" cy="179.5" r="6.94"/><circle cx="2563.5" cy="141.5" r="6.94"/><circle cx="2565.5" cy="167.5" r="6.94"/><circle cx="2568.5" cy="116.5" r="6.94"/><circle cx="2570.5" cy="127.5" r="6.94"/><circle cx="2573.5" cy="133.5" r="6.94"/><circle cx="2575.5" cy="122.5" r="6.94"/><circle cx="2578.5" cy="116.5" r="6.94"/><circle cx="2580.5" cy="127.5" r="6.94"/><circle cx="2583.5" cy="127.5" r="6.94"/><circle cx="2585.5" cy="133.5" r="6.94"/><circle cx="2588.5" cy="138.5" r="6.94"/><circle cx="2590.5" cy="133.5" r="6.94"/><circle cx="2592.5" cy="141.5" r="6.94"/><circle cx="2595.5" cy="127.5" r="6.94"/><circle cx="2597.5" cy="124.5" r="6.94"/><circle cx="2600.5" cy="125.5" r="6.94"/><circle cx="2602.5" cy="133.5" r="6.94"/><circle cx="2605.5" cy="146.5" r="6.94"/><circle cx="2607.5" cy="143.5" r="6.94"/><circle cx="2610.5" cy="154.5" r="6.94"/><circle cx="2612.5" cy="130.5" r="6.94"/><circle cx="2615.5" cy="138.5" r="6.94"/><circle cx="2617.5" cy="138.5" r="6.94"/><circle cx="2619.5" cy="138.5" r="6.94"/><circle cx="2622.5" cy="141.5" r="6.94"/><circle cx="2624.5" cy="141.5" r="6.94"/><circle cx="2627.5" cy="141.5" r="6.94"/><circle cx="2629.5" cy="141.5" r="6.94"/><circle cx="2632.5" cy="141.5" r="6.94"/><circle cx="2634.5" cy="141.5" r="6.94"/><circle cx="2637.5" cy="141.5" r="6.94"/><circle cx="2639.5" cy="141.5" r="6.94"/><circle cx="2642.5" cy="141.5" r="6.94"/><circle cx="2644.5" cy="141.5" r="6.94"/><circle cx="2647.5" cy="141.5" r="6.94"/><circle cx="2649.5" cy="141.5" r="6.94"/><circle cx="2651.5" cy="151.5" r="6.94"/></g><polyline class="sm" points="2368.71,379.71 2371.16,370.84 2373.62,353.53 2376.08,328.97 2378.54,299.47 2381,268.37 2383.46,239.36 2385.92,215.5 2388.37,198.25 2390.83,187.28 2393.29,180.9 2395.75,177.14 2398.21,174.57 2400.67,172.68 2403.13,171.6 2405.58,171.54 2408.04,172.36 2410.5,173.38 2412.96,173.68 2415.42,172.46 2417.88,169.41 2420.33,164.93 2422.79,160.02 2425.25,155.86 2427.71,153.38 2430.17,152.8 2432.63,153.61 2435.09,154.82 2437.54,155.43 2440,154.84 2442.46,153.01 2444.92,150.36 2447.38,147.52 2449.84,145.05 2452.3,143.31 2454.75,142.36 2457.21,141.98 2459.67,141.78 2462.13,141.43 2464.59,140.78 2467.05,140.04 2469.5,139.69 2471.96,140.27 2474.42,142.15 2476.88,145.38 2479.34,149.58 2481.8,154.01 2484.26,157.73 2486.71,159.89 2489.17,160.05 2491.63,158.39 2494.09,155.61 2496.55,152.6 2499.01,150.01 2501.47,148.01 2503.92,146.39 2506.38,144.81 2508.84,143.06 2511.3,141.25 2513.76,139.73 2516.22,138.93 2518.67,139.13 2521.13,140.36 2523.59,142.32 2526.05,144.55 2528.51,146.62 2530.97,148.38 2533.43,150.03 2535.88,151.96 2538.34,154.5 2540.8,157.67 2543.26,161.18 2545.72,164.58 2548.18,167.36 2550.64,169.09 2553.09,169.42 2555.55,168.12 2558.01,165.1 2560.47,160.5 2562.93,154.74 2565.39,148.45 2567.84,142.33 2570.3,137.02 2572.76,132.96 2575.22,130.32 2577.68,129.04 2580.14,128.87 2582.6,129.42 2585.05,130.29 2587.51,131.12 2589.97,131.75 2592.43,132.2 2594.89,132.65 2597.35,133.33 2599.81,134.36 2602.26,135.69 2604.72,137.09 2607.18,138.29 2609.64,139.12 2612.1,139.55 2614.56,139.72 2617.01,139.8 2619.47,139.93 2621.93,140.15 2624.39,140.43 2626.85,140.71 2629.31,140.96 2631.77,141.15 2634.22,141.33 2636.68,141.52 2639.14,141.78 2641.6,142.15 2644.06,142.61 2646.52,143.11 2648.98,143.54 2651.43,143.8"/><g class="tk"><rect x="2364.89" y="535" width="2.22" height="10"/><rect x="2487.89" y="535" width="2.22" height="10"/><rect x="2610.89" y="535" width="2.22" height="10"/><rect x="2345" y="440.89" width="10" height="2.22"/><rect x="2345" y="335.89" width="10" height="2.22"/><rect x="2345" y="231.89" width="10" height="2.22"/><rect x="2345" y="126.89" width="10" height="2.22"/></g><rect class="fr" x="2355" y="76" width="311" height="459"/><text x="2372.19" y="59.33" font-size="35" textLength="275.75" lengthAdjust="spacingAndGlyphs">metrics/recall(B)</text><text x="2356.56" y="577.44" font-size="32.08" textLength="19.38" lengthAdjust="spacingAndGlyphs">0</text><text x="2469.8" y="577.44" font-size="32.08" textLength="38.75" lengthAdjust="spacingAndGlyphs">50</text><text x="2583.04" y="577.44" font-size="32.08" textLength="58.12" lengthAdjust="spacingAndGlyphs">100</text><text x="2267.38" y="453.5" font-size="32.08" textLength="67.75" lengthAdjust="spacingAndGlyphs">0.96</text><text x="2267.38" y="348.83" font-size="32.08" textLength="67.75" lengthAdjust="spacingAndGlyphs">0.97</text><text x="2267.25" y="244.17" font-size="32.08" textLength="67.88" lengthAdjust="spacingAndGlyphs">0.98</text><text x="2267.38" y="139.5" font-size="32.08" textLength="67.75" lengthAdjust="spacingAndGlyphs">0.99</text></g>
<g><polyline class="ln" points="2819.42,323.57 2821.88,247.62 2824.34,407.35 2826.8,514.14 2829.25,332.9 2831.71,278.97 2834.17,164.96 2836.63,132.86 2839.09,116.25 2841.55,139.58 2844.01,133.98 2846.46,143.31 2848.92,155.07 2851.38,194.07 2853.84,124.65 2856.3,116.25 2858.76,132.86 2861.21,124.65 2863.67,115.32 2866.13,106.36 2868.59,115.32 2871.05,126.52 2873.51,119.05 2875.97,115.32 2878.42,111.59 2880.88,109.72 2883.34,119.05 2885.8,135.1 2888.26,109.72 2890.72,115.32 2893.18,117.19 2895.63,119.05 2898.09,113.45 2900.55,109.72 2903.01,113.45 2905.47,115.32 2907.93,117.19 2910.38,113.45 2912.84,119.05 2915.3,111.59 2917.76,104.12 2920.22,109.72 2922.68,115.32 2925.14,120.92 2927.59,113.45 2930.05,107.86 2932.51,104.12 2934.97,107.86 2937.43,113.45 2939.89,120.92 2942.35,111.59 2944.8,107.86 2947.26,104.12 2949.72,102.26 2952.18,105.99 2954.64,107.86 2957.1,109.72 2959.55,109.72 2962.01,107.86 2964.47,104.12 2966.93,102.26 2969.39,100.39 2971.85,102.26 2974.31,104.12 2976.76,105.99 2979.22,104.12 2981.68,100.39 2984.14,98.53 2986.6,96.86 2989.06,96.86 2991.52,98.53 2993.97,100.39 2996.43,102.26 2998.89,100.39 3001.35,102.26 3003.81,102.26 3006.27,100.39 3008.72,102.26 3011.18,104.12 3013.64,104.12 3016.1,105.99 3018.56,102.26 3021.02,100.39 3023.48,102.26 3025.93,102.26 3028.39,104.12 3030.85,104.12 3033.31,105.99 3035.77,107.86 3038.23,105.99 3040.69,102.26 3043.14,98.53 3045.6,96.86 3048.06,96.86 3050.52,98.53 3052.98,100.39 3055.44,102.26 3057.89,104.12 3060.35,105.99 3062.81,102.26 3065.27,100.39 3067.73,98.53 3070.19,98.53 3072.65,100.39 3075.1,100.39 3077.56,100.39 3080.02,102.26 3082.48,102.26 3084.94,104.12 3087.4,104.12 3089.86,104.12 3092.31,105.99 3094.77,104.12 3097.23,102.26 3099.69,102.26 3102.15,100.39"/><g class="mk"><circle cx="2819.5" cy="324.5" r="6.94"/><circle cx="2822.5" cy="248.5" r="6.94"/><circle cx="2824.5" cy="407.5" r="6.94"/><circle cx="2827.5" cy="514.5" r="6.94"/><circle cx="2829.5" cy="333.5" r="6.94"/><circle cx="2832.5" cy="279.5" r="6.94"/><circle cx="2834.5" cy="165.5" r="6.94"/><circle cx="2837.5" cy="133.5" r="6.94"/><circle cx="2839.5" cy="116.5" r="6.94"/><circle cx="2842.5" cy="140.5" r="6.94"/><circle cx="2844.5" cy="134.5" r="6.94"/><circle cx="2846.5" cy="143.5" r="6.94"/><circle cx="2849.5" cy="155.5" r="6.94"/><circle cx="2851.5" cy="194.5" r="6.94"/><circle cx="2854.5" cy="125.5" r="6.94"/><circle cx="2856.5" cy="116.5" r="6.94"/><circle cx="2859.5" cy="133.5" r="6.94"/><circle cx="2861.5" cy="125.5" r="6.94"/><circle cx="2864.5" cy="115.5" r="6.94"/><circle cx="2866.5" cy="106.5" r="6.94"/><circle cx="2869.5" cy="115.5" r="6.94"/><circle cx="2871.5" cy="127.5" r="6.94"/><circle cx="2874.5" cy="119.5" r="6.94"/><circle cx="2876.5" cy="115.5" r="6.94"/><circle cx="2878.5" cy="112.5" r="6.94"/><circle cx="2881.5" cy="110.5" r="6.94"/><circle cx="2883.5" cy="119.5" r="6.94"/><circle cx="2886.5" cy="135.5" r="6.94"/><circle cx="2888.5" cy="110.5" r="6.94"/><circle cx="2891.5" cy="115.5" r="6.94"/><circle cx="2893.5" cy="117.5" r="6.94"/><circle cx="2896.5" cy="119.5" r="6.94"/><circle cx="2898.5" cy="113.5" r="6.94"/><circle cx="2901.5" cy="110.5" r="6.94"/><circle cx="2903.5" cy="113.5" r="6.94"/><circle cx="2905.5" cy="115.5" r="6.94"/><circle cx="2908.5" cy="117.5" r="6.94"/><circle cx="2910.5" cy="113.5" r="6.94"/><circle cx="2913.5" cy="119.5" r="6.94"/><circle cx="2915.5" cy="112.5" r="6.94"/><circle cx="2918.5" cy="104.5" r="6.94"/><circle cx="2920.5" cy="110.5" r="6.94"/><circle cx="2923.5" cy="115.5" r="6.94"/><circle cx="2925.5" cy="121.5" r="6.94"/><circle cx="2928.5" cy="113.5" r="6.94"/><circle cx="2930.5" cy="108.5" r="6.94"/><circle cx="2933.5" cy="104.5" r="6.94"/><circle cx="2935.5" cy="108.5" r="6.94"/><circle cx="2937.5" cy="113.5" r="6.94"/><circle cx="2940.5" cy="121.5" r="6.94"/><circle cx="2942.5" cy="112.5" r="6.94"/><circle cx="2945.5" cy="108.5" r="6.94"/><circle cx="2947.5" cy="104.5" r="6.94"/><circle cx="2950.5" cy="102.5" r="6.94"/><circle cx="2952.5" cy="106.5" r="6.94"/><circle cx="2955.5" cy="108.5" r="6.94"/><circle cx="2957.5" cy="110.5" r="6.94"/><circle cx="2960.5" cy="110.5" r="6.94"/><circle cx="2962.5" cy="108.5" r="6.94"/><circle cx="2964.5" cy="104.5" r="6.94"/><circle cx="2967.5" cy="102.5" r="6.94"/><circle cx="2969.5" cy="100.5" r="6.94"/><circle cx="2972.5" cy="102.5" r="6.94"/><circle cx="2974.5" cy="104.5" r="6.94"/><circle cx="2977.5" cy="106.5" r="6.94"/><circle cx="2979.5" cy="104.5" r="6.94"/><circle cx="2982.5" cy="100.5" r="6.94"/><circle cx="2984.5" cy="99.5" r="6.94"/><circle cx="2987.5" cy="97.5" r="6.94"/><circle cx="2989.5" cy="97.5" r="6.94"/><circle cx="2992.5" cy="99.5" r="6.94"/><circle cx="2994.5" cy="100.5" r="6.94"/><circle cx="2996.5" cy="102.5" r="6.94"/><circle cx="2999.5" cy="100.5" r="6.94"/><circle cx="3001.5" cy="102.5" r="6.94"/><circle cx="3004.5" cy="102.5" r="6.94"/><circle cx="3006.5" cy="100.5" r="6.94"/><circle cx="3009.5" cy="102.5" r="6.94"/><circle cx="3011.5" cy="104.5" r="6.94"/><circle cx="3014.5" cy="104.5" r="6.94"/><circle cx="3016.5" cy="106.5" r="6.94"/><circle cx="3019.5" cy="102.5" r="6.94"/><circle cx="3021.5" cy="100.5" r="6.94"/><circle cx="3023.5" cy="102.5" r="6.94"/><circle cx="3026.5" cy="102.5" r="6.94"/><circle cx="3028.5" cy="104.5" r="6.94"/><circle cx="3031.5" cy="104.5" r="6.94"/><circle cx="3033.5" cy="106.5" r="6.94"/><circle cx="3036.5" cy="108.5" r="6.94"/><circle cx="3038.5" cy="106.5" r="6.94"/><circle cx="3041.5" cy="102.5" r="6.94"/><circle cx="3043.5" cy="99.5" r="6.94"/><circle cx="3046.5" cy="97.5" r="6.94"/><circle cx="3048.5" cy="97.5" r="6.94"/><circle cx="3051.5" cy="99.5" r="6.94"/><circle cx="3053.5" cy="100.5" r="6.94"/><circle cx="3055.5" cy="102.5" r="6.94"/><circle cx="3058.5" cy="104.5" r="6.94"/><circle cx="3060.5" cy="106.5" r="6.94"/><circle cx="3063.5" cy="102.5" r="6.94"/><circle cx="3065.5" cy="100.5" r="6.94"/><circle cx="3068.5" cy="99.5" r="6.94"/><circle cx="3070.5" cy="99.5" r="6.94"/><circle cx="3073.5" cy="100.5" r="6.94"/><circle cx="3075.5" cy="100.5" r="6.94"/><circle cx="3078.5" cy="100.5" r="6.94"/><circle cx="3080.5" cy="102.5" r="6.94"/><circle cx="3082.5" cy="102.5" r="6.94"/><circle cx="3085.5" cy="104.5" r="6.94"/><circle cx="3087.5" cy="104.5" r="6.94"/><circle cx="3090.5" cy="104.5" r="6.94"/><circle cx="3092.5" cy="106.5" r="6.94"/><circle cx="3095.5" cy="104.5" r="6.94"/><circle cx="3097.5" cy="102.5" r="6.94"/><circle cx="3100.5" cy="102.5" r="6.94"/><circle cx="3102.5" cy="100.5" r="6.94"/></g><polyline class="sm" points="2819.42,337.67 2821.88,334.53 2824.34,326.68 2826.8,312.19 2829.25,290.34 2831.71,262.66 2834.17,232.61 2836.63,204.36 2839.09,181.23 2841.55,164.73 2844.01,154.39 2846.46,148.47 2848.92,144.81 2851.38,141.67 2853.84,138.12 2856.3,134.02 2858.76,129.73 2861.21,125.77 2863.67,122.54 2866.13,120.18 2868.59,118.63 2871.05,117.72 2873.51,117.23 2875.97,117.03 2878.42,117.03 2880.88,117.14 2883.34,117.26 2885.8,117.3 2888.26,117.14 2890.72,116.79 2893.18,116.28 2895.63,115.73 2898.09,115.22 2900.55,114.82 2903.01,114.53 2905.47,114.31 2907.93,114.07 2910.38,113.77 2912.84,113.42 2915.3,113.06 2917.76,112.76 2920.22,112.52 2922.68,112.31 2925.14,112.07 2927.59,111.79 2930.05,111.5 2932.51,111.23 2934.97,110.99 2937.43,110.72 2939.89,110.31 2942.35,109.72 2944.8,109.01 2947.26,108.29 2949.72,107.69 2952.18,107.27 2954.64,106.97 2957.1,106.68 2959.55,106.29 2962.01,105.76 2964.47,105.12 2966.93,104.46 2969.39,103.86 2971.85,103.32 2974.31,102.82 2976.76,102.28 2979.22,101.67 2981.68,101.02 2984.14,100.42 2986.6,99.99 2989.06,99.79 2991.52,99.84 2993.97,100.11 2996.43,100.5 2998.89,100.94 3001.35,101.38 3003.81,101.8 3006.27,102.18 3008.72,102.51 3011.18,102.77 3013.64,102.93 3016.1,103.02 3018.56,103.06 3021.02,103.12 3023.48,103.25 3025.93,103.45 3028.39,103.67 3030.85,103.81 3033.31,103.75 3035.77,103.42 3038.23,102.83 3040.69,102.07 3043.14,101.31 3045.6,100.74 3048.06,100.46 3050.52,100.51 3052.98,100.79 3055.44,101.15 3057.89,101.42 3060.35,101.52 3062.81,101.42 3065.27,101.19 3067.73,100.94 3070.19,100.8 3072.65,100.83 3075.1,101.05 3077.56,101.44 3080.02,101.93 3082.48,102.45 3084.94,102.9 3087.4,103.23 3089.86,103.39 3092.31,103.36 3094.77,103.18 3097.23,102.92 3099.69,102.67 3102.15,102.52"/><g class="tk"><rect x="2815.89" y="535" width="2.22" height="10"/><rect x="2938.89" y="535" width="2.22" height="10"/><rect x="3061.89" y="535" width="2.22" height="10"/><rect x="2795" y="450.89" width="10" height="2.22"/><rect x="2795" y="357.89" width="10" height="2.22"/><rect x="2795" y="263.89" width="10" height="2.22"/><rect x="2795" y="170.89" width="10" height="2.22"/><rect x="2795" y="76.89" width="10" height="2.22"/></g><rect class="fr" x="2805" y="76" width="311" height="459"/><text x="2809.22" y="59.33" font-size="35" textLength="303.12" lengthAdjust="spacingAndGlyphs">metrics/mAP50(B)</text><text x="2807.27" y="577.44" font-size="32.08" textLength="19.38" lengthAdjust="spacingAndGlyphs">0</text><text x="2920.51" y="577.44" font-size="32.08" textLength="38.75" lengthAdjust="spacingAndGlyphs">50</text><text x="3033.75" y="577.44" font-size="32.08" textLength="58.12" lengthAdjust="spacingAndGlyphs">100</text><text x="2698.71" y="463.5" font-size="32.08" textLength="87.12" lengthAdjust="spacingAndGlyphs">0.975</text><text x="2698.59" y="370" font-size="32.08" textLength="87.25" lengthAdjust="spacingAndGlyphs">0.980</text><text x="2698.59" y="276.5" font-size="32.08" textLength="87.25" lengthAdjust="spacingAndGlyphs">0.985</text><text x="2698.71" y="183" font-size="32.08" textLength="87.12" lengthAdjust="spacingAndGlyphs">0.990</text><text x="2698.71" y="89.5" font-size="32.08" textLength="87.12" lengthAdjust="spacingAndGlyphs">0.995</text></g>
<g><polyline class="ln" points="3270.13,493.86 3272.59,385.91 3275.05,514.14 3277.51,470.48 3279.97,390.2 3282.43,300.18 3284.89,235.88 3287.34,219.51 3289.8,199.24 3292.26,193.01 3294.72,187.55 3297.18,191.06 3299.64,230.62 3302.09,192.5 3304.55,173.13 3307.01,166.12 3309.47,159.88 3311.93,152.71 3314.39,146.64 3316.85,131.83 3319.3,140.4 3321.76,147.8 3324.22,134.55 3326.68,126.37 3329.14,129.15 3331.6,133.52 3334.06,134.05 3336.51,138.01 3338.97,130.86 3341.43,129.33 3343.89,126.46 3346.35,124.34 3348.81,127.52 3351.26,124.97 3353.72,125.8 3356.18,121.95 3358.64,120.37 3361.1,116.06 3363.56,114.5 3366.02,117.9 3368.47,120.71 3370.93,120.09 3373.39,117.39 3375.85,117.12 3378.31,116.9 3380.77,115.67 3383.23,111.78 3385.68,109.88 3388.14,114.07 3390.6,116.88 3393.06,113.28 3395.52,112.73 3397.98,110.39 3400.43,109.87 3402.89,110.53 3405.35,110.94 3407.81,112.46 3410.27,109.68 3412.73,109.85 3415.19,107.83 3417.64,108.1 3420.1,108.34 3422.56,104.66 3425.02,101.26 3427.48,102.4 3429.94,101.69 3432.4,102.06 3434.85,102.47 3437.31,102.17 3439.77,103.72 3442.23,101.11 3444.69,103.71 3447.15,103.1 3449.6,101.39 3452.06,101.15 3454.52,103 3456.98,102.21 3459.44,101.27 3461.9,101.89 3464.36,103.27 3466.81,99.96 3469.27,99.22 3471.73,99.65 3474.19,101.08 3476.65,100.1 3479.11,101.08 3481.57,101.26 3484.02,99.91 3486.48,98.86 3488.94,99.09 3491.4,98.45 3493.86,97.52 3496.32,97.98 3498.77,97.7 3501.23,98.05 3503.69,97.15 3506.15,96.86 3508.61,97.07 3511.07,98.99 3513.53,99.64 3515.98,99.91 3518.44,98.26 3520.9,98.05 3523.36,100 3525.82,97.55 3528.28,98.59 3530.74,96.86 3533.19,97.35 3535.65,96.86 3538.11,97.85 3540.57,97.54 3543.03,96.86 3545.49,96.86 3547.94,97.04 3550.4,99.8 3552.86,98.8"/><g class="mk"><circle cx="3270.5" cy="494.5" r="6.94"/><circle cx="3273.5" cy="386.5" r="6.94"/><circle cx="3275.5" cy="514.5" r="6.94"/><circle cx="3278.5" cy="470.5" r="6.94"/><circle cx="3280.5" cy="390.5" r="6.94"/><circle cx="3282.5" cy="300.5" r="6.94"/><circle cx="3285.5" cy="236.5" r="6.94"/><circle cx="3287.5" cy="220.5" r="6.94"/><circle cx="3290.5" cy="199.5" r="6.94"/><circle cx="3292.5" cy="193.5" r="6.94"/><circle cx="3295.5" cy="188.5" r="6.94"/><circle cx="3297.5" cy="191.5" r="6.94"/><circle cx="3300.5" cy="231.5" r="6.94"/><circle cx="3302.5" cy="193.5" r="6.94"/><circle cx="3305.5" cy="173.5" r="6.94"/><circle cx="3307.5" cy="166.5" r="6.94"/><circle cx="3309.5" cy="160.5" r="6.94"/><circle cx="3312.5" cy="153.5" r="6.94"/><circle cx="3314.5" cy="147.5" r="6.94"/><circle cx="3317.5" cy="132.5" r="6.94"/><circle cx="3319.5" cy="140.5" r="6.94"/><circle cx="3322.5" cy="148.5" r="6.94"/><circle cx="3324.5" cy="135.5" r="6.94"/><circle cx="3327.5" cy="126.5" r="6.94"/><circle cx="3329.5" cy="129.5" r="6.94"/><circle cx="3332.5" cy="134.5" r="6.94"/><circle cx="3334.5" cy="134.5" r="6.94"/><circle cx="3337.5" cy="138.5" r="6.94"/><circle cx="3339.5" cy="131.5" r="6.94"/><circle cx="3341.5" cy="129.5" r="6.94"/><circle cx="3344.5" cy="126.5" r="6.94"/><circle cx="3346.5" cy="124.5" r="6.94"/><circle cx="3349.5" cy="128.5" r="6.94"/><circle cx="3351.5" cy="125.5" r="6.94"/><circle cx="3354.5" cy="126.5" r="6.94"/><circle cx="3356.5" cy="122.5" r="6.94"/><circle cx="3359.5" cy="120.5" r="6.94"/><circle cx="3361.5" cy="116.5" r="6.94"/><circle cx="3364.5" cy="115.5" r="6.94"/><circle cx="3366.5" cy="118.5" r="6.94"/><circle cx="3368.5" cy="121.5" r="6.94"/><circle cx="3371.5" cy="120.5" r="6.94"/><circle cx="3373.5" cy="117.5" r="6.94"/><circle cx="3376.5" cy="117.5" r="6.94"/><circle cx="3378.5" cy="117.5" r="6.94"/><circle cx="3381.5" cy="116.5" r="6.94"/><circle cx="3383.5" cy="112.5" r="6.94"/><circle cx="3386.5" cy="110.5" r="6.94"/><circle cx="3388.5" cy="114.5" r="6.94"/><circle cx="3391.5" cy="117.5" r="6.94"/><circle cx="3393.5" cy="113.5" r="6.94"/><circle cx="3396.5" cy="113.5" r="6.94"/><circle cx="3398.5" cy="110.5" r="6.94"/><circle cx="3400.5" cy="110.5" r="6.94"/><circle cx="3403.5" cy="111.5" r="6.94"/><circle cx="3405.5" cy="111.5" r="6.94"/><circle cx="3408.5" cy="112.5" r="6.94"/><circle cx="3410.5" cy="110.5" r="6.94"/><circle cx="3413.5" cy="110.5" r="6.94"/><circle cx="3415.5" cy="108.5" r="6.94"/><circle cx="3418.5" cy="108.5" r="6.94"/><circle cx="3420.5" cy="108.5" r="6.94"/><circle cx="3423.5" cy="105.5" r="6.94"/><circle cx="3425.5" cy="101.5" r="6.94"/><circle cx="3427.5" cy="102.5" r="6.94"/><circle cx="3430.5" cy="102.5" r="6.94"/><circle cx="3432.5" cy="102.5" r="6.94"/><circle cx="3435.5" cy="102.5" r="6.94"/><circle cx="3437.5" cy="102.5" r="6.94"/><circle cx="3440.5" cy="104.5" r="6.94"/><circle cx="3442.5" cy="101.5" r="6.94"/><circle cx="3445.5" cy="104.5" r="6.94"/><circle cx="3447.5" cy="103.5" r="6.94"/><circle cx="3450.5" cy="101.5" r="6.94"/><circle cx="3452.5" cy="101.5" r="6.94"/><circle cx="3455.5" cy="103.5" r="6.94"/><circle cx="3457.5" cy="102.5" r="6.94"/><circle cx="3459.5" cy="101.5" r="6.94"/><circle cx="3462.5" cy="102.5" r="6.94"/><circle cx="3464.5" cy="103.5" r="6.94"/><circle cx="3467.5" cy="100.5" r="6.94"/><circle cx="3469.5" cy="99.5" r="6.94"/><circle cx="3472.5" cy="100.5" r="6.94"/><circle cx="3474.5" cy="101.5" r="6.94"/><circle cx="3477.5" cy="100.5" r="6.94"/><circle cx="3479.5" cy="101.5" r="6.94"/><circle cx="3482.5" cy="101.5" r="6.94"/><circle cx="3484.5" cy="100.5" r="6.94"/><circle cx="3486.5" cy="99.5" r="6.94"/><circle cx="3489.5" cy="99.5" r="6.94"/><circle cx="3491.5" cy="98.5" r="6.94"/><circle cx="3494.5" cy="98.5" r="6.94"/><circle cx="3496.5" cy="98.5" r="6.94"/><circle cx="3499.5" cy="98.5" r="6.94"/><circle cx="3501.5" cy="98.5" r="6.94"/><circle cx="3504.5" cy="97.5" r="6.94"/><circle cx="3506.5" cy="97.5" r="6.94"/><circle cx="3509.5" cy="97.5" r="6.94"/><circle cx="3511.5" cy="99.5" r="6.94"/><circle cx="3514.5" cy="100.5" r="6.94"/><circle cx="3516.5" cy="100.5" r="6.94"/><circle cx="3518.5" cy="98.5" r="6.94"/><circle cx="3521.5" cy="98.5" r="6.94"/><circle cx="3523.5" cy="100.5" r="6.94"/><circle cx="3526.5" cy="98.5" r="6.94"/><circle cx="3528.5" cy="99.5" r="6.94"/><circle cx="3531.5" cy="97.5" r="6.94"/><circle cx="3533.5" cy="97.5" r="6.94"/><circle cx="3536.5" cy="97.5" r="6.94"/><circle cx="3538.5" cy="98.5" r="6.94"/><circle cx="3541.5" cy="98.5" r="6.94"/><circle cx="3543.5" cy="97.5" r="6.94"/><circle cx="3545.5" cy="97.5" r="6.94"/><circle cx="3548.5" cy="97.5" r="6.94"/><circle cx="3550.5" cy="100.5" r="6.94"/><circle cx="3553.5" cy="99.5" r="6.94"/></g><polyline class="sm" points="3270.13,437.63 3272.59,429.21 3275.05,412.56 3277.51,388.42 3279.97,358.54 3282.43,325.67 3284.89,293.12 3287.34,263.93 3289.8,240.07 3292.26,222.06 3294.72,209.16 3297.18,199.81 3299.64,192.3 3302.09,185.34 3304.55,178.25 3307.01,170.94 3309.47,163.74 3311.93,157.07 3314.39,151.25 3316.85,146.41 3319.3,142.53 3321.76,139.49 3324.22,137.15 3326.68,135.39 3329.14,134.09 3331.6,133.12 3334.06,132.3 3336.51,131.47 3338.97,130.53 3341.43,129.45 3343.89,128.27 3346.35,127.03 3348.81,125.78 3351.26,124.51 3353.72,123.24 3356.18,121.99 3358.64,120.84 3361.1,119.86 3363.56,119.11 3366.02,118.56 3368.47,118.12 3370.93,117.7 3373.39,117.19 3375.85,116.58 3378.31,115.89 3380.77,115.19 3383.23,114.55 3385.68,114 3388.14,113.54 3390.6,113.13 3393.06,112.72 3395.52,112.29 3397.98,111.85 3400.43,111.41 3402.89,111 3405.35,110.59 3407.81,110.13 3410.27,109.58 3412.73,108.91 3415.19,108.11 3417.64,107.19 3420.1,106.21 3422.56,105.23 3425.02,104.35 3427.48,103.62 3429.94,103.09 3432.4,102.75 3434.85,102.57 3437.31,102.49 3439.77,102.46 3442.23,102.44 3444.69,102.39 3447.15,102.33 3449.6,102.24 3452.06,102.13 3454.52,102.01 3456.98,101.87 3459.44,101.69 3461.9,101.47 3464.36,101.23 3466.81,100.99 3469.27,100.77 3471.73,100.59 3474.19,100.45 3476.65,100.32 3479.11,100.16 3481.57,99.95 3484.02,99.68 3486.48,99.35 3488.94,99 3491.4,98.67 3493.86,98.37 3496.32,98.13 3498.77,97.97 3501.23,97.89 3503.69,97.89 3506.15,97.98 3508.61,98.14 3511.07,98.31 3513.53,98.47 3515.98,98.56 3518.44,98.58 3520.9,98.51 3523.36,98.37 3525.82,98.19 3528.28,97.99 3530.74,97.8 3533.19,97.64 3535.65,97.54 3538.11,97.5 3540.57,97.52 3543.03,97.61 3545.49,97.75 3547.94,97.92 3550.4,98.06 3552.86,98.15"/><g class="tk"><rect x="3266.89" y="535" width="2.22" height="10"/><rect x="3389.89" y="535" width="2.22" height="10"/><rect x="3512.89" y="535" width="2.22" height="10"/><rect x="3246" y="528.89" width="10" height="2.22"/><rect x="3246" y="450.89" width="10" height="2.22"/><rect x="3246" y="372.89" width="10" height="2.22"/><rect x="3246" y="295.89" width="10" height="2.22"/><rect x="3246" y="217.89" width="10" height="2.22"/><rect x="3246" y="139.89" width="10" height="2.22"/></g><rect class="fr" x="3256" y="76" width="311" height="459"/><text x="3232.69" y="59.33" font-size="35" textLength="357.62" lengthAdjust="spacingAndGlyphs">metrics/mAP50-95(B)</text><text x="3257.99" y="577.44" font-size="32.08" textLength="19.38" lengthAdjust="spacingAndGlyphs">0</text><text x="3371.23" y="577.44" font-size="32.08" textLength="38.75" lengthAdjust="spacingAndGlyphs">50</text><text x="3484.46" y="577.44" font-size="32.08" textLength="58.12" lengthAdjust="spacingAndGlyphs">100</text><text x="3168.55" y="541.5" font-size="32.08" textLength="68" lengthAdjust="spacingAndGlyphs">0.88</text><text x="3168.8" y="463.7" font-size="32.08" textLength="67.75" lengthAdjust="spacingAndGlyphs">0.90</text><text x="3168.8" y="385.9" font-size="32.08" textLength="67.75" lengthAdjust="spacingAndGlyphs">0.92</text><text x="3168.8" y="308.1" font-size="32.08" textLength="67.75" lengthAdjust="spacingAndGlyphs">0.94</text><text x="3168.8" y="230.3" font-size="32.08" textLength="67.75" lengthAdjust="spacingAndGlyphs">0.96</text><text x="3168.68" y="152.5" font-size="32.08" textLength="67.88" lengthAdjust="spacingAndGlyphs">0.98</text></g>
<g><polyline class="ln" points="115.14,697.03 117.59,775.4 120.05,679.91 122.51,751.04 124.97,770.61 127.43,853.64 129.89,875.48 132.35,888.48 134.8,902.48 137.26,914.47 139.72,911.32 142.18,913.84 144.64,914.98 147.1,925.2 149.56,929.74 152.01,962.56 154.47,973.66 156.93,980.73 159.39,987.04 161.85,973.16 164.31,966.22 166.76,990.45 169.22,1000.92 171.68,1009.25 174.14,1003.44 176.6,1000.29 179.06,1003.44 181.52,1006.68 183.97,1009.59 186.43,1012.33 188.89,1012.08 191.35,1015.87 193.81,1017.72 196.27,1019.67 198.73,1024.33 201.18,1029.23 203.64,1034.96 206.1,1042.19 208.56,1036.82 211.02,1030.45 213.48,1042.88 215.93,1040.27 218.39,1038.63 220.85,1040.19 223.31,1044.37 225.77,1053.92 228.23,1049.68 230.69,1047.86 233.14,1054.57 235.6,1032.34 238.06,1055.81 240.52,1057.87 242.98,1056.07 245.44,1057.69 247.9,1054.88 250.35,1058.46 252.81,1062.69 255.27,1066.25 257.73,1066.97 260.19,1066.23 262.65,1067.54 265.1,1065.91 267.56,1068.14 270.02,1068.75 272.48,1071.27 274.94,1072.79 277.4,1075.61 279.86,1079.08 282.31,1076.48 284.77,1080.92 287.23,1080.05 289.69,1077.19 292.15,1077.93 294.61,1077.32 297.07,1077.12 299.52,1080.79 301.98,1080.15 304.44,1082.41 306.9,1084.47 309.36,1083.99 311.82,1084.71 314.27,1085.21 316.73,1083.28 319.19,1082.9 321.65,1084.6 324.11,1086.61 326.57,1088.31 329.03,1091.13 331.48,1090.31 333.94,1091.64 336.4,1090.61 338.86,1092.86 341.32,1094.12 343.78,1092.84 346.24,1090.31 348.69,1092.21 351.15,1093.77 353.61,1091.84 356.07,1094.93 358.53,1095.09 360.99,1094.21 363.44,1094.93 365.9,1095.48 368.36,1096.04 370.82,1095.85 373.28,1094.93 375.74,1097.52 378.2,1097.09 380.65,1095.27 383.11,1094.28 385.57,1098.09 388.03,1096.8 390.49,1095.75 392.95,1097.81 395.41,1098.09 397.86,1096.71"/><g class="mk"><circle cx="115.5" cy="697.5" r="6.94"/><circle cx="118.5" cy="775.5" r="6.94"/><circle cx="120.5" cy="680.5" r="6.94"/><circle cx="123.5" cy="751.5" r="6.94"/><circle cx="125.5" cy="771.5" r="6.94"/><circle cx="127.5" cy="854.5" r="6.94"/><circle cx="130.5" cy="875.5" r="6.94"/><circle cx="132.5" cy="888.5" r="6.94"/><circle cx="135.5" cy="902.5" r="6.94"/><circle cx="137.5" cy="914.5" r="6.94"/><circle cx="140.5" cy="911.5" r="6.94"/><circle cx="142.5" cy="914.5" r="6.94"/><circle cx="145.5" cy="915.5" r="6.94"/><circle cx="147.5" cy="925.5" r="6.94"/><circle cx="150.5" cy="930.5" r="6.94"/><circle cx="152.5" cy="963.5" r="6.94"/><circle cx="154.5" cy="974.5" r="6.94"/><circle cx="157.5" cy="981.5" r="6.94"/><circle cx="159.5" cy="987.5" r="6.94"/><circle cx="162.5" cy="973.5" r="6.94"/><circle cx="164.5" cy="966.5" r="6.94"/><circle cx="167.5" cy="990.5" r="6.94"/><circle cx="169.5" cy="1001.5" r="6.94"/><circle cx="172.5" cy="1009.5" r="6.94"/><circle cx="174.5" cy="1003.5" r="6.94"/><circle cx="177.5" cy="1000.5" r="6.94"/><circle cx="179.5" cy="1003.5" r="6.94"/><circle cx="182.5" cy="1007.5" r="6.94"/><circle cx="184.5" cy="1010.5" r="6.94"/><circle cx="186.5" cy="1012.5" r="6.94"/><circle cx="189.5" cy="1012.5" r="6.94"/><circle cx="191.5" cy="1016.5" r="6.94"/><circle cx="194.5" cy="1018.5" r="6.94"/><circle cx="196.5" cy="1020.5" r="6.94"/><circle cx="199.5" cy="1024.5" r="6.94"/><circle cx="201.5" cy="1029.5" r="6.94"/><circle cx="204.5" cy="1035.5" r="6.94"/><circle cx="206.5" cy="1042.5" r="6.94"/><circle cx="209.5" cy="1037.5" r="6.94"/><circle cx="211.5" cy="1030.5" r="6.94"/><circle cx="213.5" cy="1043.5" r="6.94"/><circle cx="216.5" cy="1040.5" r="6.94"/><circle cx="218.5" cy="1039.5" r="6.94"/><circle cx="221.5" cy="1040.5" r="6.94"/><circle cx="223.5" cy="1044.5" r="6.94"/><circle cx="226.5" cy="1054.5" r="6.94"/><circle cx="228.5" cy="1050.5" r="6.94"/><circle cx="231.5" cy="1048.5" r="6.94"/><circle cx="233.5" cy="1055.5" r="6.94"/><circle cx="236.5" cy="1032.5" r="6.94"/><circle cx="238.5" cy="1056.5" r="6.94"/><circle cx="241.5" cy="1058.5" r="6.94"/><circle cx="243.5" cy="1056.5" r="6.94"/><circle cx="245.5" cy="1058.5" r="6.94"/><circle cx="248.5" cy="1055.5" r="6.94"/><circle cx="250.5" cy="1058.5" r="6.94"/><circle cx="253.5" cy="1063.5" r="6.94"/><circle cx="255.5" cy="1066.5" r="6.94"/><circle cx="258.5" cy="1067.5" r="6.94"/><circle cx="260.5" cy="1066.5" r="6.94"/><circle cx="263.5" cy="1068.5" r="6.94"/><circle cx="265.5" cy="1066.5" r="6.94"/><circle cx="268.5" cy="1068.5" r="6.94"/><circle cx="270.5" cy="1069.5" r="6.94"/><circle cx="272.5" cy="1071.5" r="6.94"/><circle cx="275.5" cy="1073.5" r="6.94"/><circle cx="277.5" cy="1076.5" r="6.94"/><circle cx="280.5" cy="1079.5" r="6.94"/><circle cx="282.5" cy="1076.5" r="6.94"/><circle cx="285.5" cy="1081.5" r="6.94"/><circle cx="287.5" cy="1080.5" r="6.94"/><circle cx="290.5" cy="1077.5" r="6.94"/><circle cx="292.5" cy="1078.5" r="6.94"/><circle cx="295.5" cy="1077.5" r="6.94"/><circle cx="297.5" cy="1077.5" r="6.94"/><circle cx="300.5" cy="1081.5" r="6.94"/><circle cx="302.5" cy="1080.5" r="6.94"/><circle cx="304.5" cy="1082.5" r="6.94"/><circle cx="307.5" cy="1084.5" r="6.94"/><circle cx="309.5" cy="1084.5" r="6.94"/><circle cx="312.5" cy="1085.5" r="6.94"/><circle cx="314.5" cy="1085.5" r="6.94"/><circle cx="317.5" cy="1083.5" r="6.94"/><circle cx="319.5" cy="1083.5" r="6.94"/><circle cx="322.5" cy="1085.5" r="6.94"/><circle cx="324.5" cy="1087.5" r="6.94"/><circle cx="327.5" cy="1088.5" r="6.94"/><circle cx="329.5" cy="1091.5" r="6.94"/><circle cx="331.5" cy="1090.5" r="6.94"/><circle cx="334.5" cy="1092.5" r="6.94"/><circle cx="336.5" cy="1091.5" r="6.94"/><circle cx="339.5" cy="1093.5" r="6.94"/><circle cx="341.5" cy="1094.5" r="6.94"/><circle cx="344.5" cy="1093.5" r="6.94"/><circle cx="346.5" cy="1090.5" r="6.94"/><circle cx="349.5" cy="1092.5" r="6.94"/><circle cx="351.5" cy="1094.5" r="6.94"/><circle cx="354.5" cy="1092.5" r="6.94"/><circle cx="356.5" cy="1095.5" r="6.94"/><circle cx="359.5" cy="1095.5" r="6.94"/><circle cx="361.5" cy="1094.5" r="6.94"/><circle cx="363.5" cy="1095.5" r="6.94"/><circle cx="366.5" cy="1095.5" r="6.94"/><circle cx="368.5" cy="1096.5" r="6.94"/><circle cx="371.5" cy="1096.5" r="6.94"/><circle cx="373.5" cy="1095.5" r="6.94"/><circle cx="376.5" cy="1098.5" r="6.94"/><circle cx="378.5" cy="1097.5" r="6.94"/><circle cx="381.5" cy="1095.5" r="6.94"/><circle cx="383.5" cy="1094.5" r="6.94"/><circle cx="386.5" cy="1098.5" r="6.94"/><circle cx="388.5" cy="1097.5" r="6.94"/><circle cx="390.5" cy="1096.5" r="6.94"/><circle cx="393.5" cy="1098.5" r="6.94"/><circle cx="395.5" cy="1098.5" r="6.94"/><circle cx="398.5" cy="1097.5" r="6.94"/></g><polyline class="sm" points="115.14,742.7 117.59,748.99 120.05,761.2 122.51,778.51 124.97,799.48 127.43,822.15 129.89,844.43 132.35,864.59 134.8,881.63 137.26,895.42 139.72,906.58 142.18,916.09 144.64,924.91 147.1,933.7 149.56,942.63 152.01,951.46 154.47,959.77 156.93,967.18 159.39,973.59 161.85,979.14 164.31,984.11 166.76,988.68 169.22,992.9 171.68,996.68 174.14,999.95 176.6,1002.71 179.06,1005.09 181.52,1007.27 183.97,1009.41 186.43,1011.63 188.89,1014.01 191.35,1016.59 193.81,1019.38 196.27,1022.34 198.73,1025.38 201.18,1028.34 203.64,1031.07 206.1,1033.44 208.56,1035.45 211.02,1037.16 213.48,1038.69 215.93,1040.18 218.39,1041.69 220.85,1043.23 223.31,1044.74 225.77,1046.12 228.23,1047.33 230.69,1048.43 233.14,1049.5 235.6,1050.67 238.06,1052 240.52,1053.5 242.98,1055.11 245.44,1056.77 247.9,1058.45 250.35,1060.11 252.81,1061.72 255.27,1063.22 257.73,1064.58 260.19,1065.79 262.65,1066.9 265.1,1067.99 267.56,1069.14 270.02,1070.4 272.48,1071.77 274.94,1073.18 277.4,1074.55 279.86,1075.77 282.31,1076.76 284.77,1077.49 287.23,1077.99 289.69,1078.35 292.15,1078.68 294.61,1079.07 297.07,1079.6 299.52,1080.26 301.98,1081.03 304.44,1081.82 306.9,1082.56 309.36,1083.21 311.82,1083.77 314.27,1084.27 316.73,1084.8 319.19,1085.42 321.65,1086.18 324.11,1087.07 326.57,1088.03 329.03,1088.99 331.48,1089.87 333.94,1090.63 336.4,1091.24 338.86,1091.71 341.32,1092.06 343.78,1092.33 346.24,1092.58 348.69,1092.83 351.15,1093.14 353.61,1093.48 356.07,1093.86 358.53,1094.24 360.99,1094.61 363.44,1094.94 365.9,1095.24 368.36,1095.49 370.82,1095.71 373.28,1095.88 375.74,1096.02 378.2,1096.14 380.65,1096.25 383.11,1096.37 385.57,1096.51 388.03,1096.66 390.49,1096.82 392.95,1096.95 395.41,1097.05 397.86,1097.11"/><g class="tk"><rect x="111.89" y="1119" width="2.22" height="10"/><rect x="234.89" y="1119" width="2.22" height="10"/><rect x="357.89" y="1119" width="2.22" height="10"/><rect x="91" y="1113.89" width="10" height="2.22"/><rect x="91" y="987.89" width="10" height="2.22"/><rect x="91" y="860.89" width="10" height="2.22"/><rect x="91" y="734.89" width="10" height="2.22"/></g><rect class="fr" x="101" y="659" width="311" height="460"/><text x="155.25" y="642.33" font-size="35" textLength="202.5" lengthAdjust="spacingAndGlyphs">val/box_loss</text><text x="102.99" y="1161.44" font-size="32.08" textLength="19.38" lengthAdjust="spacingAndGlyphs">0</text><text x="216.23" y="1161.44" font-size="32.08" textLength="38.75" lengthAdjust="spacingAndGlyphs">50</text><text x="329.47" y="1161.44" font-size="32.08" textLength="58.12" lengthAdjust="spacingAndGlyphs">100</text><text x="33.18" y="1126.5" font-size="32.08" textLength="48.38" lengthAdjust="spacingAndGlyphs">0.1</text><text x="33.18" y="1000.17" font-size="32.08" textLength="48.38" lengthAdjust="spacingAndGlyphs">0.2</text><text x="33.06" y="873.83" font-size="32.08" textLength="48.5" lengthAdjust="spacingAndGlyphs">0.3</text><text x="33.18" y="747.5" font-size="32.08" textLength="48.38" lengthAdjust="spacingAndGlyphs">0.4</text></g>
<g><polyline class="ln" points="565.85,791.72 568.31,691.75 570.77,679.91 573.23,681.74 575.68,806.54 578.14,899.16 580.6,929.82 583.06,937.42 585.52,945.15 587.98,935.39 590.44,966.31 592.89,978.6 595.35,966.31 597.81,975.56 600.27,980.12 602.73,1005.84 605.19,1012.3 607.64,1016.99 610.1,1013.57 612.56,1007.23 615.02,1028.27 617.48,1032.29 619.94,1035.35 622.4,1036.69 624.85,1035.04 627.31,1034.54 629.77,1041.23 632.23,1049.45 634.69,1048.1 637.15,1047.63 639.61,1041.69 642.06,1040.45 644.52,1055.89 646.98,1063.6 649.44,1060.88 651.9,1055.47 654.36,1054.43 656.81,1059.26 659.27,1063.15 661.73,1062.59 664.19,1062.46 666.65,1058.84 669.11,1057.04 671.57,1059.23 674.02,1063.41 676.48,1067.2 678.94,1067.13 681.4,1071.61 683.86,1074.29 686.32,1074.74 688.78,1078.36 691.23,1076.9 693.69,1076.47 696.15,1077.27 698.61,1077.35 701.07,1073.69 703.53,1074.1 705.98,1077.74 708.44,1079.75 710.9,1082.56 713.36,1079.83 715.82,1083.92 718.28,1083.9 720.74,1079.71 723.19,1078.12 725.65,1075.81 728.11,1077.54 730.57,1076.9 733.03,1076.17 735.49,1074.49 737.95,1081.75 740.4,1081.74 742.86,1083.91 745.32,1086.56 747.78,1087.49 750.24,1088.62 752.7,1091.41 755.15,1092.12 757.61,1093.49 760.07,1095.52 762.53,1098.09 764.99,1096.87 767.45,1095.25 769.91,1093.06 772.36,1092.57 774.82,1090.11 777.28,1090.2 779.74,1091.85 782.2,1088.16 784.66,1089.35 787.12,1087.81 789.57,1088.61 792.03,1087.72 794.49,1088.9 796.95,1088.88 799.41,1091.01 801.87,1087.65 804.32,1089.27 806.78,1090.04 809.24,1088.55 811.7,1089.79 814.16,1090.58 816.62,1091.15 819.08,1092.47 821.53,1094.61 823.99,1095.37 826.45,1093.4 828.91,1093.77 831.37,1094.57 833.83,1094.57 836.29,1093.56 838.74,1093.09 841.2,1093.73 843.66,1092.88 846.12,1093.65 848.58,1095.89"/><g class="mk"><circle cx="566.5" cy="792.5" r="6.94"/><circle cx="568.5" cy="692.5" r="6.94"/><circle cx="571.5" cy="680.5" r="6.94"/><circle cx="573.5" cy="682.5" r="6.94"/><circle cx="576.5" cy="807.5" r="6.94"/><circle cx="578.5" cy="899.5" r="6.94"/><circle cx="581.5" cy="930.5" r="6.94"/><circle cx="583.5" cy="937.5" r="6.94"/><circle cx="586.5" cy="945.5" r="6.94"/><circle cx="588.5" cy="935.5" r="6.94"/><circle cx="590.5" cy="966.5" r="6.94"/><circle cx="593.5" cy="979.5" r="6.94"/><circle cx="595.5" cy="966.5" r="6.94"/><circle cx="598.5" cy="976.5" r="6.94"/><circle cx="600.5" cy="980.5" r="6.94"/><circle cx="603.5" cy="1006.5" r="6.94"/><circle cx="605.5" cy="1012.5" r="6.94"/><circle cx="608.5" cy="1017.5" r="6.94"/><circle cx="610.5" cy="1014.5" r="6.94"/><circle cx="613.5" cy="1007.5" r="6.94"/><circle cx="615.5" cy="1028.5" r="6.94"/><circle cx="617.5" cy="1032.5" r="6.94"/><circle cx="620.5" cy="1035.5" r="6.94"/><circle cx="622.5" cy="1037.5" r="6.94"/><circle cx="625.5" cy="1035.5" r="6.94"/><circle cx="627.5" cy="1035.5" r="6.94"/><circle cx="630.5" cy="1041.5" r="6.94"/><circle cx="632.5" cy="1049.5" r="6.94"/><circle cx="635.5" cy="1048.5" r="6.94"/><circle cx="637.5" cy="1048.5" r="6.94"/><circle cx="640.5" cy="1042.5" r="6.94"/><circle cx="642.5" cy="1040.5" r="6.94"/><circle cx="645.5" cy="1056.5" r="6.94"/><circle cx="647.5" cy="1064.5" r="6.94"/><circle cx="649.5" cy="1061.5" r="6.94"/><circle cx="652.5" cy="1055.5" r="6.94"/><circle cx="654.5" cy="1054.5" r="6.94"/><circle cx="657.5" cy="1059.5" r="6.94"/><circle cx="659.5" cy="1063.5" r="6.94"/><circle cx="662.5" cy="1063.5" r="6.94"/><circle cx="664.5" cy="1062.5" r="6.94"/><circle cx="667.5" cy="1059.5" r="6.94"/><circle cx="669.5" cy="1057.5" r="6.94"/><circle cx="672.5" cy="1059.5" r="6.94"/><circle cx="674.5" cy="1063.5" r="6.94"/><circle cx="676.5" cy="1067.5" r="6.94"/><circle cx="679.5" cy="1067.5" r="6.94"/><circle cx="681.5" cy="1072.5" r="6.94"/><circle cx="684.5" cy="1074.5" r="6.94"/><circle cx="686.5" cy="1075.5" r="6.94"/><circle cx="689.5" cy="1078.5" r="6.94"/><circle cx="691.5" cy="1077.5" r="6.94"/><circle cx="694.5" cy="1076.5" r="6.94"/><circle cx="696.5" cy="1077.5" r="6.94"/><circle cx="699.5" cy="1077.5" r="6.94"/><circle cx="701.5" cy="1074.5" r="6.94"/><circle cx="704.5" cy="1074.5" r="6.94"/><circle cx="706.5" cy="1078.5" r="6.94"/><circle cx="708.5" cy="1080.5" r="6.94"/><circle cx="711.5" cy="1083.5" r="6.94"/><circle cx="713.5" cy="1080.5" r="6.94"/><circle cx="716.5" cy="1084.5" r="6.94"/><circle cx="718.5" cy="1084.5" r="6.94"/><circle cx="721.5" cy="1080.5" r="6.94"/><circle cx="723.5" cy="1078.5" r="6.94"/><circle cx="726.5" cy="1076.5" r="6.94"/><circle cx="728.5" cy="1078.5" r="6.94"/><circle cx="731.5" cy="1077.5" r="6.94"/><circle cx="733.5" cy="1076.5" r="6.94"/><circle cx="735.5" cy="1074.5" r="6.94"/><circle cx="738.5" cy="1082.5" r="6.94"/><circle cx="740.5" cy="1082.5" r="6.94"/><circle cx="743.5" cy="1084.5" r="6.94"/><circle cx="745.5" cy="1087.5" r="6.94"/><circle cx="748.5" cy="1087.5" r="6.94"/><circle cx="750.5" cy="1089.5" r="6.94"/><circle cx="753.5" cy="1091.5" r="6.94"/><circle cx="755.5" cy="1092.5" r="6.94"/><circle cx="758.5" cy="1093.5" r="6.94"/><circle cx="760.5" cy="1096.5" r="6.94"/><circle cx="763.5" cy="1098.5" r="6.94"/><circle cx="765.5" cy="1097.5" r="6.94"/><circle cx="767.5" cy="1095.5" r="6.94"/><circle cx="770.5" cy="1093.5" r="6.94"/><circle cx="772.5" cy="1093.5" r="6.94"/><circle cx="775.5" cy="1090.5" r="6.94"/><circle cx="777.5" cy="1090.5" r="6.94"/><circle cx="780.5" cy="1092.5" r="6.94"/><circle cx="782.5" cy="1088.5" r="6.94"/><circle cx="785.5" cy="1089.5" r="6.94"/><circle cx="787.5" cy="1088.5" r="6.94"/><circle cx="790.5" cy="1089.5" r="6.94"/><circle cx="792.5" cy="1088.5" r="6.94"/><circle cx="794.5" cy="1089.5" r="6.94"/><circle cx="797.5" cy="1089.5" r="6.94"/><circle cx="799.5" cy="1091.5" r="6.94"/><circle cx="802.5" cy="1088.5" r="6.94"/><circle cx="804.5" cy="1089.5" r="6.94"/><circle cx="807.5" cy="1090.5" r="6.94"/><circle cx="809.5" cy="1089.5" r="6.94"/><circle cx="812.5" cy="1090.5" r="6.94"/><circle cx="814.5" cy="1091.5" r="6.94"/><circle cx="817.5" cy="1091.5" r="6.94"/><circle cx="819.5" cy="1092.5" r="6.94"/><circle cx="822.5" cy="1095.5" r="6.94"/><circle cx="824.5" cy="1095.5" r="6.94"/><circle cx="826.5" cy="1093.5" r="6.94"/><circle cx="829.5" cy="1094.5" r="6.94"/><circle cx="831.5" cy="1095.5" r="6.94"/><circle cx="834.5" cy="1095.5" r="6.94"/><circle cx="836.5" cy="1094.5" r="6.94"/><circle cx="839.5" cy="1093.5" r="6.94"/><circle cx="841.5" cy="1094.5" r="6.94"/><circle cx="844.5" cy="1093.5" r="6.94"/><circle cx="846.5" cy="1094.5" r="6.94"/><circle cx="849.5" cy="1096.5" r="6.94"/></g><polyline class="sm" points="565.85,746.27 568.31,753.43 570.77,767.84 573.23,789.12 575.68,815.77 578.14,845.18 580.6,874.22 583.06,900.31 585.52,922 587.98,939.16 590.44,952.54 592.89,963.27 595.35,972.39 597.81,980.6 600.27,988.27 602.73,995.48 605.19,1002.15 607.64,1008.21 610.1,1013.64 612.56,1018.51 615.02,1022.89 617.48,1026.84 619.94,1030.37 622.4,1033.49 624.85,1036.25 627.31,1038.7 629.77,1040.9 632.23,1042.9 634.69,1044.75 637.15,1046.56 639.61,1048.41 642.06,1050.33 644.52,1052.28 646.98,1054.13 649.44,1055.77 651.9,1057.13 654.36,1058.2 656.81,1059.04 659.27,1059.68 661.73,1060.2 664.19,1060.69 666.65,1061.26 669.11,1062.06 671.57,1063.17 674.02,1064.64 676.48,1066.39 678.94,1068.31 681.4,1070.22 683.86,1071.98 686.32,1073.48 688.78,1074.63 691.23,1075.45 693.69,1075.99 696.15,1076.35 698.61,1076.67 701.07,1077.05 703.53,1077.57 705.98,1078.23 708.44,1078.94 710.9,1079.58 713.36,1080.02 715.82,1080.17 718.28,1080.02 720.74,1079.62 723.19,1079.11 725.65,1078.64 728.11,1078.36 730.57,1078.41 733.03,1078.84 735.49,1079.67 737.95,1080.85 740.4,1082.3 742.86,1083.91 745.32,1085.59 747.78,1087.27 750.24,1088.88 752.7,1090.38 755.15,1091.72 757.61,1092.82 760.07,1093.62 762.53,1094.05 764.99,1094.1 767.45,1093.81 769.91,1093.26 772.36,1092.55 774.82,1091.78 777.28,1091.05 779.74,1090.4 782.2,1089.85 784.66,1089.42 787.12,1089.12 789.57,1088.95 792.03,1088.88 794.49,1088.91 796.95,1088.99 799.41,1089.11 801.87,1089.26 804.32,1089.46 806.78,1089.72 809.24,1090.08 811.7,1090.54 814.16,1091.1 816.62,1091.71 819.08,1092.32 821.53,1092.88 823.99,1093.32 826.45,1093.63 828.91,1093.81 831.37,1093.88 833.83,1093.89 836.29,1093.88 838.74,1093.88 841.2,1093.91 843.66,1093.97 846.12,1094.04 848.58,1094.08"/><g class="tk"><rect x="561.89" y="1119" width="2.22" height="10"/><rect x="684.89" y="1119" width="2.22" height="10"/><rect x="807.89" y="1119" width="2.22" height="10"/><rect x="542" y="1070.89" width="10" height="2.22"/><rect x="542" y="943.89" width="10" height="2.22"/><rect x="542" y="817.89" width="10" height="2.22"/><rect x="542" y="690.89" width="10" height="2.22"/></g><rect class="fr" x="552" y="659" width="311" height="460"/><text x="606.65" y="642.33" font-size="35" textLength="201.12" lengthAdjust="spacingAndGlyphs">val/seg_loss</text><text x="553.7" y="1161.44" font-size="32.08" textLength="19.38" lengthAdjust="spacingAndGlyphs">0</text><text x="666.94" y="1161.44" font-size="32.08" textLength="38.75" lengthAdjust="spacingAndGlyphs">50</text><text x="780.18" y="1161.44" font-size="32.08" textLength="58.12" lengthAdjust="spacingAndGlyphs">100</text><text x="483.89" y="1083.5" font-size="32.08" textLength="48.38" lengthAdjust="spacingAndGlyphs">0.2</text><text x="483.77" y="956.83" font-size="32.08" textLength="48.5" lengthAdjust="spacingAndGlyphs">0.3</text><text x="483.89" y="830.17" font-size="32.08" textLength="48.38" lengthAdjust="spacingAndGlyphs">0.4</text><text x="483.89" y="703.5" font-size="32.08" textLength="48.38" lengthAdjust="spacingAndGlyphs">0.5</text></g>
<g><polyline class="ln" points="1016.56,679.91 1019.02,874.51 1021.48,890.02 1023.94,918.52 1026.4,938.35 1028.86,964.65 1031.32,994.8 1033.77,1004.52 1036.23,1010.12 1038.69,1012.84 1041.15,1016.84 1043.61,1019.9 1046.07,1005.92 1048.52,1015.51 1050.98,1021.3 1053.44,1028.82 1055.9,1038.14 1058.36,1043.39 1060.82,1047.66 1063.28,1050.94 1065.73,1048.76 1068.19,1045.68 1070.65,1048.89 1073.11,1057.14 1075.57,1056.68 1078.03,1054.78 1080.49,1053.31 1082.94,1049.54 1085.4,1053.67 1087.86,1055.76 1090.32,1059.26 1092.78,1061.61 1095.24,1062.53 1097.69,1064.48 1100.15,1063.72 1102.61,1065.28 1105.07,1065.78 1107.53,1075.82 1109.99,1072.95 1112.45,1072.68 1114.9,1070.9 1117.36,1071.04 1119.82,1069.15 1122.28,1066.43 1124.74,1070.4 1127.2,1073.66 1129.66,1077.49 1132.11,1076.74 1134.57,1076.3 1137.03,1058.51 1139.49,1076.77 1141.95,1078.52 1144.41,1079.62 1146.86,1079.07 1149.32,1079.41 1151.78,1080.36 1154.24,1079.24 1156.7,1081.23 1159.16,1082.87 1161.62,1083.88 1164.07,1084.59 1166.53,1086.01 1168.99,1085.9 1171.45,1088.56 1173.91,1089.27 1176.37,1090.34 1178.83,1089.32 1181.28,1091.53 1183.74,1090.73 1186.2,1090.58 1188.66,1090.27 1191.12,1088.48 1193.58,1086.91 1196.03,1083.99 1198.49,1083.52 1200.95,1082.21 1203.41,1085.79 1205.87,1084.5 1208.33,1086.24 1210.79,1087.15 1213.24,1086.04 1215.7,1087.34 1218.16,1091.32 1220.62,1091.11 1223.08,1090.94 1225.54,1092.04 1228,1089.84 1230.45,1089.83 1232.91,1090.32 1235.37,1092.43 1237.83,1090.3 1240.29,1091.57 1242.75,1092.73 1245.2,1094.2 1247.66,1093.95 1250.12,1094.7 1252.58,1096.74 1255.04,1096.43 1257.5,1095.47 1259.96,1097.32 1262.41,1095.3 1264.87,1096.57 1267.33,1095.43 1269.79,1093.97 1272.25,1094.11 1274.71,1094.66 1277.17,1094.92 1279.62,1094.35 1282.08,1094.81 1284.54,1096.35 1287,1095.89 1289.46,1096.9 1291.92,1095 1294.37,1097.91 1296.83,1097.97 1299.29,1098.09"/><g class="mk"><circle cx="1017.5" cy="680.5" r="6.94"/><circle cx="1019.5" cy="875.5" r="6.94"/><circle cx="1021.5" cy="890.5" r="6.94"/><circle cx="1024.5" cy="919.5" r="6.94"/><circle cx="1026.5" cy="938.5" r="6.94"/><circle cx="1029.5" cy="965.5" r="6.94"/><circle cx="1031.5" cy="995.5" r="6.94"/><circle cx="1034.5" cy="1005.5" r="6.94"/><circle cx="1036.5" cy="1010.5" r="6.94"/><circle cx="1039.5" cy="1013.5" r="6.94"/><circle cx="1041.5" cy="1017.5" r="6.94"/><circle cx="1044.5" cy="1020.5" r="6.94"/><circle cx="1046.5" cy="1006.5" r="6.94"/><circle cx="1049.5" cy="1016.5" r="6.94"/><circle cx="1051.5" cy="1021.5" r="6.94"/><circle cx="1053.5" cy="1029.5" r="6.94"/><circle cx="1056.5" cy="1038.5" r="6.94"/><circle cx="1058.5" cy="1043.5" r="6.94"/><circle cx="1061.5" cy="1048.5" r="6.94"/><circle cx="1063.5" cy="1051.5" r="6.94"/><circle cx="1066.5" cy="1049.5" r="6.94"/><circle cx="1068.5" cy="1046.5" r="6.94"/><circle cx="1071.5" cy="1049.5" r="6.94"/><circle cx="1073.5" cy="1057.5" r="6.94"/><circle cx="1076.5" cy="1057.5" r="6.94"/><circle cx="1078.5" cy="1055.5" r="6.94"/><circle cx="1080.5" cy="1053.5" r="6.94"/><circle cx="1083.5" cy="1050.5" r="6.94"/><circle cx="1085.5" cy="1054.5" r="6.94"/><circle cx="1088.5" cy="1056.5" r="6.94"/><circle cx="1090.5" cy="1059.5" r="6.94"/><circle cx="1093.5" cy="1062.5" r="6.94"/><circle cx="1095.5" cy="1063.5" r="6.94"/><circle cx="1098.5" cy="1064.5" r="6.94"/><circle cx="1100.5" cy="1064.5" r="6.94"/><circle cx="1103.5" cy="1065.5" r="6.94"/><circle cx="1105.5" cy="1066.5" r="6.94"/><circle cx="1108.5" cy="1076.5" r="6.94"/><circle cx="1110.5" cy="1073.5" r="6.94"/><circle cx="1112.5" cy="1073.5" r="6.94"/><circle cx="1115.5" cy="1071.5" r="6.94"/><circle cx="1117.5" cy="1071.5" r="6.94"/><circle cx="1120.5" cy="1069.5" r="6.94"/><circle cx="1122.5" cy="1066.5" r="6.94"/><circle cx="1125.5" cy="1070.5" r="6.94"/><circle cx="1127.5" cy="1074.5" r="6.94"/><circle cx="1130.5" cy="1077.5" r="6.94"/><circle cx="1132.5" cy="1077.5" r="6.94"/><circle cx="1135.5" cy="1076.5" r="6.94"/><circle cx="1137.5" cy="1059.5" r="6.94"/><circle cx="1139.5" cy="1077.5" r="6.94"/><circle cx="1142.5" cy="1079.5" r="6.94"/><circle cx="1144.5" cy="1080.5" r="6.94"/><circle cx="1147.5" cy="1079.5" r="6.94"/><circle cx="1149.5" cy="1079.5" r="6.94"/><circle cx="1152.5" cy="1080.5" r="6.94"/><circle cx="1154.5" cy="1079.5" r="6.94"/><circle cx="1157.5" cy="1081.5" r="6.94"/><circle cx="1159.5" cy="1083.5" r="6.94"/><circle cx="1162.5" cy="1084.5" r="6.94"/><circle cx="1164.5" cy="1085.5" r="6.94"/><circle cx="1167.5" cy="1086.5" r="6.94"/><circle cx="1169.5" cy="1086.5" r="6.94"/><circle cx="1171.5" cy="1089.5" r="6.94"/><circle cx="1174.5" cy="1089.5" r="6.94"/><circle cx="1176.5" cy="1090.5" r="6.94"/><circle cx="1179.5" cy="1089.5" r="6.94"/><circle cx="1181.5" cy="1092.5" r="6.94"/><circle cx="1184.5" cy="1091.5" r="6.94"/><circle cx="1186.5" cy="1091.5" r="6.94"/><circle cx="1189.5" cy="1090.5" r="6.94"/><circle cx="1191.5" cy="1088.5" r="6.94"/><circle cx="1194.5" cy="1087.5" r="6.94"/><circle cx="1196.5" cy="1084.5" r="6.94"/><circle cx="1198.5" cy="1084.5" r="6.94"/><circle cx="1201.5" cy="1082.5" r="6.94"/><circle cx="1203.5" cy="1086.5" r="6.94"/><circle cx="1206.5" cy="1085.5" r="6.94"/><circle cx="1208.5" cy="1086.5" r="6.94"/><circle cx="1211.5" cy="1087.5" r="6.94"/><circle cx="1213.5" cy="1086.5" r="6.94"/><circle cx="1216.5" cy="1087.5" r="6.94"/><circle cx="1218.5" cy="1091.5" r="6.94"/><circle cx="1221.5" cy="1091.5" r="6.94"/><circle cx="1223.5" cy="1091.5" r="6.94"/><circle cx="1226.5" cy="1092.5" r="6.94"/><circle cx="1228.5" cy="1090.5" r="6.94"/><circle cx="1230.5" cy="1090.5" r="6.94"/><circle cx="1233.5" cy="1090.5" r="6.94"/><circle cx="1235.5" cy="1092.5" r="6.94"/><circle cx="1238.5" cy="1090.5" r="6.94"/><circle cx="1240.5" cy="1092.5" r="6.94"/><circle cx="1243.5" cy="1093.5" r="6.94"/><circle cx="1245.5" cy="1094.5" r="6.94"/><circle cx="1248.5" cy="1094.5" r="6.94"/><circle cx="1250.5" cy="1095.5" r="6.94"/><circle cx="1253.5" cy="1097.5" r="6.94"/><circle cx="1255.5" cy="1096.5" r="6.94"/><circle cx="1257.5" cy="1095.5" r="6.94"/><circle cx="1260.5" cy="1097.5" r="6.94"/><circle cx="1262.5" cy="1095.5" r="6.94"/><circle cx="1265.5" cy="1097.5" r="6.94"/><circle cx="1267.5" cy="1095.5" r="6.94"/><circle cx="1270.5" cy="1094.5" r="6.94"/><circle cx="1272.5" cy="1094.5" r="6.94"/><circle cx="1275.5" cy="1095.5" r="6.94"/><circle cx="1277.5" cy="1095.5" r="6.94"/><circle cx="1280.5" cy="1094.5" r="6.94"/><circle cx="1282.5" cy="1095.5" r="6.94"/><circle cx="1285.5" cy="1096.5" r="6.94"/><circle cx="1287.5" cy="1096.5" r="6.94"/><circle cx="1289.5" cy="1097.5" r="6.94"/><circle cx="1292.5" cy="1095.5" r="6.94"/><circle cx="1294.5" cy="1098.5" r="6.94"/><circle cx="1297.5" cy="1098.5" r="6.94"/><circle cx="1299.5" cy="1098.5" r="6.94"/></g><polyline class="sm" points="1016.56,849.2 1019.02,859.37 1021.48,877.63 1023.94,900.63 1026.4,924.85 1028.86,947.52 1031.32,966.96 1033.77,982.53 1036.23,994.32 1038.69,1002.89 1041.15,1009.06 1043.61,1013.7 1046.07,1017.64 1048.52,1021.47 1050.98,1025.53 1053.44,1029.84 1055.9,1034.19 1058.36,1038.29 1060.82,1041.9 1063.28,1044.89 1065.73,1047.29 1068.19,1049.17 1070.65,1050.66 1073.11,1051.82 1075.57,1052.74 1078.03,1053.5 1080.49,1054.21 1082.94,1055.01 1085.4,1056.01 1087.86,1057.25 1090.32,1058.69 1092.78,1060.25 1095.24,1061.87 1097.69,1063.49 1100.15,1065.07 1102.61,1066.57 1105.07,1067.94 1107.53,1069.07 1109.99,1069.92 1112.45,1070.45 1114.9,1070.74 1117.36,1070.92 1119.82,1071.11 1122.28,1071.41 1124.74,1071.83 1127.2,1072.32 1129.66,1072.81 1132.11,1073.29 1134.57,1073.8 1137.03,1074.42 1139.49,1075.21 1141.95,1076.15 1144.41,1077.18 1146.86,1078.2 1149.32,1079.16 1151.78,1080.06 1154.24,1080.93 1156.7,1081.82 1159.16,1082.74 1161.62,1083.71 1164.07,1084.7 1166.53,1085.7 1168.99,1086.66 1171.45,1087.54 1173.91,1088.32 1176.37,1088.93 1178.83,1089.34 1181.28,1089.51 1183.74,1089.41 1186.2,1089.06 1188.66,1088.47 1191.12,1087.73 1193.58,1086.95 1196.03,1086.25 1198.49,1085.73 1200.95,1085.47 1203.41,1085.49 1205.87,1085.77 1208.33,1086.26 1210.79,1086.9 1213.24,1087.62 1215.7,1088.35 1218.16,1089.05 1220.62,1089.64 1223.08,1090.1 1225.54,1090.43 1228,1090.68 1230.45,1090.9 1232.91,1091.14 1235.37,1091.46 1237.83,1091.86 1240.29,1092.36 1242.75,1092.93 1245.2,1093.53 1247.66,1094.13 1250.12,1094.67 1252.58,1095.12 1255.04,1095.45 1257.5,1095.64 1259.96,1095.7 1262.41,1095.63 1264.87,1095.49 1267.33,1095.31 1269.79,1095.13 1272.25,1095.01 1274.71,1094.98 1277.17,1095.04 1279.62,1095.19 1282.08,1095.41 1284.54,1095.7 1287,1096.01 1289.46,1096.34 1291.92,1096.66 1294.37,1096.95 1296.83,1097.16 1299.29,1097.28"/><g class="tk"><rect x="1012.89" y="1119" width="2.22" height="10"/><rect x="1135.89" y="1119" width="2.22" height="10"/><rect x="1258.89" y="1119" width="2.22" height="10"/><rect x="992" y="1097.89" width="10" height="2.22"/><rect x="992" y="1030.89" width="10" height="2.22"/><rect x="992" y="964.89" width="10" height="2.22"/><rect x="992" y="897.89" width="10" height="2.22"/><rect x="992" y="830.89" width="10" height="2.22"/><rect x="992" y="764.89" width="10" height="2.22"/><rect x="992" y="697.89" width="10" height="2.22"/></g><rect class="fr" x="1002" y="659" width="311" height="460"/><text x="1064.43" y="642.33" font-size="35" textLength="187" lengthAdjust="spacingAndGlyphs">val/cls_loss</text><text x="1004.42" y="1161.44" font-size="32.08" textLength="19.38" lengthAdjust="spacingAndGlyphs">0</text><text x="1117.66" y="1161.44" font-size="32.08" textLength="38.75" lengthAdjust="spacingAndGlyphs">50</text><text x="1230.89" y="1161.44" font-size="32.08" textLength="58.12" lengthAdjust="spacingAndGlyphs">100</text><text x="934.61" y="1110.5" font-size="32.08" textLength="48.38" lengthAdjust="spacingAndGlyphs">0.1</text><text x="934.61" y="1043.84" font-size="32.08" textLength="48.38" lengthAdjust="spacingAndGlyphs">0.2</text><text x="934.48" y="977.17" font-size="32.08" textLength="48.5" lengthAdjust="spacingAndGlyphs">0.3</text><text x="934.61" y="910.5" font-size="32.08" textLength="48.38" lengthAdjust="spacingAndGlyphs">0.4</text><text x="934.61" y="843.83" font-size="32.08" textLength="48.38" lengthAdjust="spacingAndGlyphs">0.5</text><text x="934.61" y="777.17" font-size="32.08" textLength="48.38" lengthAdjust="spacingAndGlyphs">0.6</text><text x="934.61" y="710.5" font-size="32.08" textLength="48.38" lengthAdjust="spacingAndGlyphs">0.7</text></g>
<g><polyline class="ln" points="1467.28,679.91 1469.74,803.63 1472.2,698.72 1474.65,742.73 1477.11,770.93 1479.57,870.26 1482.03,910.86 1484.49,916.29 1486.95,928.68 1489.4,942.48 1491.86,933.33 1494.32,928.68 1496.78,923.57 1499.24,945.73 1501.7,957.97 1504.16,986.95 1506.61,992.22 1509.07,997.64 1511.53,1012.83 1513.99,1001.52 1516.45,993.46 1518.91,1002.45 1521.37,1009.15 1523.82,1012.88 1526.28,1014.58 1528.74,1016.6 1531.2,1025.06 1533.66,1034.89 1536.12,1037.8 1538.57,1041.23 1541.03,1044.48 1543.49,1044.96 1545.95,1038.63 1548.41,1033.16 1550.87,1040.1 1553.33,1047.89 1555.78,1052.06 1558.24,1052.81 1560.7,1052.77 1563.16,1042.85 1565.62,1049.26 1568.08,1054.75 1570.54,1051.4 1572.99,1049.4 1575.45,1057.34 1577.91,1068.77 1580.37,1063.44 1582.83,1058.65 1585.29,1064.82 1587.74,1043.04 1590.2,1064.03 1592.66,1066.96 1595.12,1065.66 1597.58,1065.96 1600.04,1065.56 1602.5,1066.98 1604.95,1067.16 1607.41,1072.68 1609.87,1073.45 1612.33,1074.52 1614.79,1079.82 1617.25,1074.49 1619.71,1077.66 1622.16,1076.02 1624.62,1074.29 1627.08,1081.44 1629.54,1083 1632,1080.74 1634.46,1086.55 1636.91,1086.75 1639.37,1085.89 1641.83,1084.6 1644.29,1082.97 1646.75,1081.96 1649.21,1079.55 1651.67,1081.97 1654.12,1084.55 1656.58,1088.59 1659.04,1090.5 1661.5,1092.04 1663.96,1086.11 1666.42,1088.89 1668.88,1083.55 1671.33,1082.99 1673.79,1089.02 1676.25,1089.46 1678.71,1089.86 1681.17,1088.38 1683.63,1092.02 1686.08,1091.79 1688.54,1093.73 1691,1094.54 1693.46,1093.19 1695.92,1098.09 1698.38,1096.69 1700.84,1096.51 1703.29,1095.66 1705.75,1098.09 1708.21,1095.54 1710.67,1096.85 1713.13,1096.05 1715.59,1097.36 1718.05,1098.09 1720.5,1098.09 1722.96,1095.94 1725.42,1097.22 1727.88,1097.42 1730.34,1094.33 1732.8,1093.68 1735.25,1097.55 1737.71,1094.24 1740.17,1098.09 1742.63,1098.09 1745.09,1096.34 1747.55,1098.09 1750.01,1097.07"/><g class="mk"><circle cx="1467.5" cy="680.5" r="6.94"/><circle cx="1470.5" cy="804.5" r="6.94"/><circle cx="1472.5" cy="699.5" r="6.94"/><circle cx="1475.5" cy="743.5" r="6.94"/><circle cx="1477.5" cy="771.5" r="6.94"/><circle cx="1480.5" cy="870.5" r="6.94"/><circle cx="1482.5" cy="911.5" r="6.94"/><circle cx="1484.5" cy="916.5" r="6.94"/><circle cx="1487.5" cy="929.5" r="6.94"/><circle cx="1489.5" cy="942.5" r="6.94"/><circle cx="1492.5" cy="933.5" r="6.94"/><circle cx="1494.5" cy="929.5" r="6.94"/><circle cx="1497.5" cy="924.5" r="6.94"/><circle cx="1499.5" cy="946.5" r="6.94"/><circle cx="1502.5" cy="958.5" r="6.94"/><circle cx="1504.5" cy="987.5" r="6.94"/><circle cx="1507.5" cy="992.5" r="6.94"/><circle cx="1509.5" cy="998.5" r="6.94"/><circle cx="1512.5" cy="1013.5" r="6.94"/><circle cx="1514.5" cy="1002.5" r="6.94"/><circle cx="1516.5" cy="993.5" r="6.94"/><circle cx="1519.5" cy="1002.5" r="6.94"/><circle cx="1521.5" cy="1009.5" r="6.94"/><circle cx="1524.5" cy="1013.5" r="6.94"/><circle cx="1526.5" cy="1015.5" r="6.94"/><circle cx="1529.5" cy="1017.5" r="6.94"/><circle cx="1531.5" cy="1025.5" r="6.94"/><circle cx="1534.5" cy="1035.5" r="6.94"/><circle cx="1536.5" cy="1038.5" r="6.94"/><circle cx="1539.5" cy="1041.5" r="6.94"/><circle cx="1541.5" cy="1044.5" r="6.94"/><circle cx="1543.5" cy="1045.5" r="6.94"/><circle cx="1546.5" cy="1039.5" r="6.94"/><circle cx="1548.5" cy="1033.5" r="6.94"/><circle cx="1551.5" cy="1040.5" r="6.94"/><circle cx="1553.5" cy="1048.5" r="6.94"/><circle cx="1556.5" cy="1052.5" r="6.94"/><circle cx="1558.5" cy="1053.5" r="6.94"/><circle cx="1561.5" cy="1053.5" r="6.94"/><circle cx="1563.5" cy="1043.5" r="6.94"/><circle cx="1566.5" cy="1049.5" r="6.94"/><circle cx="1568.5" cy="1055.5" r="6.94"/><circle cx="1571.5" cy="1051.5" r="6.94"/><circle cx="1573.5" cy="1049.5" r="6.94"/><circle cx="1575.5" cy="1057.5" r="6.94"/><circle cx="1578.5" cy="1069.5" r="6.94"/><circle cx="1580.5" cy="1063.5" r="6.94"/><circle cx="1583.5" cy="1059.5" r="6.94"/><circle cx="1585.5" cy="1065.5" r="6.94"/><circle cx="1588.5" cy="1043.5" r="6.94"/><circle cx="1590.5" cy="1064.5" r="6.94"/><circle cx="1593.5" cy="1067.5" r="6.94"/><circle cx="1595.5" cy="1066.5" r="6.94"/><circle cx="1598.5" cy="1066.5" r="6.94"/><circle cx="1600.5" cy="1066.5" r="6.94"/><circle cx="1602.5" cy="1067.5" r="6.94"/><circle cx="1605.5" cy="1067.5" r="6.94"/><circle cx="1607.5" cy="1073.5" r="6.94"/><circle cx="1610.5" cy="1073.5" r="6.94"/><circle cx="1612.5" cy="1075.5" r="6.94"/><circle cx="1615.5" cy="1080.5" r="6.94"/><circle cx="1617.5" cy="1074.5" r="6.94"/><circle cx="1620.5" cy="1078.5" r="6.94"/><circle cx="1622.5" cy="1076.5" r="6.94"/><circle cx="1625.5" cy="1074.5" r="6.94"/><circle cx="1627.5" cy="1081.5" r="6.94"/><circle cx="1630.5" cy="1083.5" r="6.94"/><circle cx="1632.5" cy="1081.5" r="6.94"/><circle cx="1634.5" cy="1087.5" r="6.94"/><circle cx="1637.5" cy="1087.5" r="6.94"/><circle cx="1639.5" cy="1086.5" r="6.94"/><circle cx="1642.5" cy="1085.5" r="6.94"/><circle cx="1644.5" cy="1083.5" r="6.94"/><circle cx="1647.5" cy="1082.5" r="6.94"/><circle cx="1649.5" cy="1080.5" r="6.94"/><circle cx="1652.5" cy="1082.5" r="6.94"/><circle cx="1654.5" cy="1085.5" r="6.94"/><circle cx="1657.5" cy="1089.5" r="6.94"/><circle cx="1659.5" cy="1091.5" r="6.94"/><circle cx="1661.5" cy="1092.5" r="6.94"/><circle cx="1664.5" cy="1086.5" r="6.94"/><circle cx="1666.5" cy="1089.5" r="6.94"/><circle cx="1669.5" cy="1084.5" r="6.94"/><circle cx="1671.5" cy="1083.5" r="6.94"/><circle cx="1674.5" cy="1089.5" r="6.94"/><circle cx="1676.5" cy="1089.5" r="6.94"/><circle cx="1679.5" cy="1090.5" r="6.94"/><circle cx="1681.5" cy="1088.5" r="6.94"/><circle cx="1684.5" cy="1092.5" r="6.94"/><circle cx="1686.5" cy="1092.5" r="6.94"/><circle cx="1689.5" cy="1094.5" r="6.94"/><circle cx="1691.5" cy="1095.5" r="6.94"/><circle cx="1693.5" cy="1093.5" r="6.94"/><circle cx="1696.5" cy="1098.5" r="6.94"/><circle cx="1698.5" cy="1097.5" r="6.94"/><circle cx="1701.5" cy="1097.5" r="6.94"/><circle cx="1703.5" cy="1096.5" r="6.94"/><circle cx="1706.5" cy="1098.5" r="6.94"/><circle cx="1708.5" cy="1096.5" r="6.94"/><circle cx="1711.5" cy="1097.5" r="6.94"/><circle cx="1713.5" cy="1096.5" r="6.94"/><circle cx="1716.5" cy="1097.5" r="6.94"/><circle cx="1718.5" cy="1098.5" r="6.94"/><circle cx="1721.5" cy="1098.5" r="6.94"/><circle cx="1723.5" cy="1096.5" r="6.94"/><circle cx="1725.5" cy="1097.5" r="6.94"/><circle cx="1728.5" cy="1097.5" r="6.94"/><circle cx="1730.5" cy="1094.5" r="6.94"/><circle cx="1733.5" cy="1094.5" r="6.94"/><circle cx="1735.5" cy="1098.5" r="6.94"/><circle cx="1738.5" cy="1094.5" r="6.94"/><circle cx="1740.5" cy="1098.5" r="6.94"/><circle cx="1743.5" cy="1098.5" r="6.94"/><circle cx="1745.5" cy="1096.5" r="6.94"/><circle cx="1748.5" cy="1098.5" r="6.94"/><circle cx="1750.5" cy="1097.5" r="6.94"/></g><polyline class="sm" points="1467.28,749.61 1469.74,756.61 1472.2,770.22 1474.65,789.55 1477.11,812.98 1479.57,838.28 1482.03,862.97 1484.49,884.95 1486.95,903.02 1489.4,917.09 1491.86,928.02 1494.32,937.11 1496.78,945.63 1499.24,954.38 1501.7,963.48 1504.16,972.58 1506.61,981.05 1509.07,988.34 1511.53,994.24 1513.99,998.87 1516.45,1002.63 1518.91,1005.99 1521.37,1009.37 1523.82,1013.01 1526.28,1016.98 1528.74,1021.18 1531.2,1025.44 1533.66,1029.47 1536.12,1033.03 1538.57,1035.95 1541.03,1038.2 1543.49,1039.9 1545.95,1041.29 1548.41,1042.6 1550.87,1043.97 1553.33,1045.41 1555.78,1046.82 1558.24,1048.09 1560.7,1049.21 1563.16,1050.23 1565.62,1051.28 1568.08,1052.48 1570.54,1053.86 1572.99,1055.34 1575.45,1056.79 1577.91,1058.04 1580.37,1059.01 1582.83,1059.73 1585.29,1060.36 1587.74,1061.05 1590.2,1061.92 1592.66,1062.99 1595.12,1064.21 1597.58,1065.52 1600.04,1066.88 1602.5,1068.27 1604.95,1069.71 1607.41,1071.16 1609.87,1072.55 1612.33,1073.83 1614.79,1074.97 1617.25,1075.97 1619.71,1076.91 1622.16,1077.86 1624.62,1078.9 1627.08,1080.01 1629.54,1081.13 1632,1082.15 1634.46,1082.97 1636.91,1083.51 1639.37,1083.76 1641.83,1083.81 1644.29,1083.79 1646.75,1083.87 1649.21,1084.17 1651.67,1084.71 1654.12,1085.42 1656.58,1086.16 1659.04,1086.77 1661.5,1087.17 1663.96,1087.35 1666.42,1087.42 1668.88,1087.49 1671.33,1087.71 1673.79,1088.12 1676.25,1088.72 1678.71,1089.48 1681.17,1090.33 1683.63,1091.23 1686.08,1092.14 1688.54,1093.03 1691,1093.86 1693.46,1094.6 1695.92,1095.23 1698.38,1095.72 1700.84,1096.08 1703.29,1096.34 1705.75,1096.52 1708.21,1096.65 1710.67,1096.76 1713.13,1096.85 1715.59,1096.91 1718.05,1096.92 1720.5,1096.85 1722.96,1096.72 1725.42,1096.54 1727.88,1096.37 1730.34,1096.24 1732.8,1096.2 1735.25,1096.27 1737.71,1096.43 1740.17,1096.64 1742.63,1096.85 1745.09,1097.02 1747.55,1097.15 1750.01,1097.21"/><g class="tk"><rect x="1463.89" y="1119" width="2.22" height="10"/><rect x="1586.89" y="1119" width="2.22" height="10"/><rect x="1709.89" y="1119" width="2.22" height="10"/><rect x="1443" y="1059.89" width="10" height="2.22"/><rect x="1443" y="981.89" width="10" height="2.22"/><rect x="1443" y="904.89" width="10" height="2.22"/><rect x="1443" y="826.89" width="10" height="2.22"/><rect x="1443" y="749.89" width="10" height="2.22"/><rect x="1443" y="671.89" width="10" height="2.22"/></g><rect class="fr" x="1453" y="659" width="311" height="460"/><text x="1516.52" y="642.33" font-size="35" textLength="184.25" lengthAdjust="spacingAndGlyphs">val/dfl_loss</text><text x="1455.13" y="1161.44" font-size="32.08" textLength="19.38" lengthAdjust="spacingAndGlyphs">0</text><text x="1568.37" y="1161.44" font-size="32.08" textLength="38.75" lengthAdjust="spacingAndGlyphs">50</text><text x="1681.61" y="1161.44" font-size="32.08" textLength="58.12" lengthAdjust="spacingAndGlyphs">100</text><text x="1365.82" y="1072.5" font-size="32.08" textLength="67.88" lengthAdjust="spacingAndGlyphs">0.80</text><text x="1365.82" y="994.9" font-size="32.08" textLength="67.88" lengthAdjust="spacingAndGlyphs">0.85</text><text x="1365.95" y="917.3" font-size="32.08" textLength="67.75" lengthAdjust="spacingAndGlyphs">0.90</text><text x="1365.95" y="839.7" font-size="32.08" textLength="67.75" lengthAdjust="spacingAndGlyphs">0.95</text><text x="1365.95" y="762.1" font-size="32.08" textLength="67.75" lengthAdjust="spacingAndGlyphs">1.00</text><text x="1365.95" y="684.5" font-size="32.08" textLength="67.75" lengthAdjust="spacingAndGlyphs">1.05</text></g>
<g><polyline class="ln" points="1917.99,988.04 1920.45,841.5 1922.91,1076.54 1925.37,1098.09 1927.83,910.88 1930.28,976.61 1932.74,923.2 1935.2,877.56 1937.66,827.64 1940.12,885.99 1942.58,863.3 1945.04,809.4 1947.49,885.99 1949.95,896.37 1952.41,830.88 1954.87,827.64 1957.33,834.93 1959.79,817.91 1962.25,793.6 1964.7,769.28 1967.16,728.92 1969.62,788.73 1972.08,740.91 1974.54,789.54 1977,766.04 1979.45,740.91 1981.91,822.53 1984.37,753.88 1986.83,745.78 1989.29,806.56 1991.75,804.13 1994.21,739.29 1996.66,741.72 1999.12,745.78 2001.58,803.32 2004.04,796.03 2006.5,727.14 2008.96,708.82 2011.42,725.51 2013.87,713.36 2016.33,749.83 2018.79,717.41 2021.25,721.46 2023.71,794 2026.17,733.62 2028.62,808.51 2031.08,737.67 2033.54,725.51 2036,705.98 2038.46,741.72 2040.92,759.56 2043.38,749.83 2045.83,769.36 2048.29,713.36 2050.75,704.44 2053.21,725.51 2055.67,733.62 2058.13,747.07 2060.59,717.41 2063.04,709.3 2065.5,732 2067.96,705.25 2070.42,721.46 2072.88,701.2 2075.34,697.15 2077.79,679.91 2080.25,686.61 2082.71,689.04 2085.17,697.15 2087.63,706.87 2090.09,693.09 2092.55,722.68 2095,691.47 2097.46,709.3 2099.92,747.07 2102.38,713.36 2104.84,709.3 2107.3,705.25 2109.76,713.36 2112.21,709.3 2114.67,699.58 2117.13,731.11 2119.59,717.41 2122.05,713.36 2124.51,705.25 2126.96,721.46 2129.42,719.03 2131.88,713.36 2134.34,721.46 2136.8,731.11 2139.26,717.41 2141.72,713.36 2144.17,705.25 2146.63,701.2 2149.09,699.58 2151.55,697.15 2154.01,691.23 2156.47,701.2 2158.93,709.3 2161.38,719.11 2163.84,705.25 2166.3,701.2 2168.76,699.58 2171.22,705.25 2173.68,710.93 2176.13,709.3 2178.59,705.25 2181.05,702.82 2183.51,701.2 2185.97,699.58 2188.43,697.96 2190.89,696.34 2193.34,692.28 2195.8,701.2 2198.26,706.87 2200.72,704.04"/><g class="mk"><circle cx="1918.5" cy="988.5" r="6.94"/><circle cx="1920.5" cy="841.5" r="6.94"/><circle cx="1923.5" cy="1077.5" r="6.94"/><circle cx="1925.5" cy="1098.5" r="6.94"/><circle cx="1928.5" cy="911.5" r="6.94"/><circle cx="1930.5" cy="977.5" r="6.94"/><circle cx="1933.5" cy="923.5" r="6.94"/><circle cx="1935.5" cy="878.5" r="6.94"/><circle cx="1938.5" cy="828.5" r="6.94"/><circle cx="1940.5" cy="886.5" r="6.94"/><circle cx="1943.5" cy="863.5" r="6.94"/><circle cx="1945.5" cy="809.5" r="6.94"/><circle cx="1947.5" cy="886.5" r="6.94"/><circle cx="1950.5" cy="896.5" r="6.94"/><circle cx="1952.5" cy="831.5" r="6.94"/><circle cx="1955.5" cy="828.5" r="6.94"/><circle cx="1957.5" cy="835.5" r="6.94"/><circle cx="1960.5" cy="818.5" r="6.94"/><circle cx="1962.5" cy="794.5" r="6.94"/><circle cx="1965.5" cy="769.5" r="6.94"/><circle cx="1967.5" cy="729.5" r="6.94"/><circle cx="1970.5" cy="789.5" r="6.94"/><circle cx="1972.5" cy="741.5" r="6.94"/><circle cx="1975.5" cy="790.5" r="6.94"/><circle cx="1977.5" cy="766.5" r="6.94"/><circle cx="1979.5" cy="741.5" r="6.94"/><circle cx="1982.5" cy="823.5" r="6.94"/><circle cx="1984.5" cy="754.5" r="6.94"/><circle cx="1987.5" cy="746.5" r="6.94"/><circle cx="1989.5" cy="807.5" r="6.94"/><circle cx="1992.5" cy="804.5" r="6.94"/><circle cx="1994.5" cy="739.5" r="6.94"/><circle cx="1997.5" cy="742.5" r="6.94"/><circle cx="1999.5" cy="746.5" r="6.94"/><circle cx="2002.5" cy="803.5" r="6.94"/><circle cx="2004.5" cy="796.5" r="6.94"/><circle cx="2006.5" cy="727.5" r="6.94"/><circle cx="2009.5" cy="709.5" r="6.94"/><circle cx="2011.5" cy="726.5" r="6.94"/><circle cx="2014.5" cy="713.5" r="6.94"/><circle cx="2016.5" cy="750.5" r="6.94"/><circle cx="2019.5" cy="717.5" r="6.94"/><circle cx="2021.5" cy="721.5" r="6.94"/><circle cx="2024.5" cy="794.5" r="6.94"/><circle cx="2026.5" cy="734.5" r="6.94"/><circle cx="2029.5" cy="809.5" r="6.94"/><circle cx="2031.5" cy="738.5" r="6.94"/><circle cx="2034.5" cy="726.5" r="6.94"/><circle cx="2036.5" cy="706.5" r="6.94"/><circle cx="2038.5" cy="742.5" r="6.94"/><circle cx="2041.5" cy="760.5" r="6.94"/><circle cx="2043.5" cy="750.5" r="6.94"/><circle cx="2046.5" cy="769.5" r="6.94"/><circle cx="2048.5" cy="713.5" r="6.94"/><circle cx="2051.5" cy="704.5" r="6.94"/><circle cx="2053.5" cy="726.5" r="6.94"/><circle cx="2056.5" cy="734.5" r="6.94"/><circle cx="2058.5" cy="747.5" r="6.94"/><circle cx="2061.5" cy="717.5" r="6.94"/><circle cx="2063.5" cy="709.5" r="6.94"/><circle cx="2066.5" cy="732.5" r="6.94"/><circle cx="2068.5" cy="705.5" r="6.94"/><circle cx="2070.5" cy="721.5" r="6.94"/><circle cx="2073.5" cy="701.5" r="6.94"/><circle cx="2075.5" cy="697.5" r="6.94"/><circle cx="2078.5" cy="680.5" r="6.94"/><circle cx="2080.5" cy="687.5" r="6.94"/><circle cx="2083.5" cy="689.5" r="6.94"/><circle cx="2085.5" cy="697.5" r="6.94"/><circle cx="2088.5" cy="707.5" r="6.94"/><circle cx="2090.5" cy="693.5" r="6.94"/><circle cx="2093.5" cy="723.5" r="6.94"/><circle cx="2095.5" cy="691.5" r="6.94"/><circle cx="2097.5" cy="709.5" r="6.94"/><circle cx="2100.5" cy="747.5" r="6.94"/><circle cx="2102.5" cy="713.5" r="6.94"/><circle cx="2105.5" cy="709.5" r="6.94"/><circle cx="2107.5" cy="705.5" r="6.94"/><circle cx="2110.5" cy="713.5" r="6.94"/><circle cx="2112.5" cy="709.5" r="6.94"/><circle cx="2115.5" cy="700.5" r="6.94"/><circle cx="2117.5" cy="731.5" r="6.94"/><circle cx="2120.5" cy="717.5" r="6.94"/><circle cx="2122.5" cy="713.5" r="6.94"/><circle cx="2125.5" cy="705.5" r="6.94"/><circle cx="2127.5" cy="721.5" r="6.94"/><circle cx="2129.5" cy="719.5" r="6.94"/><circle cx="2132.5" cy="713.5" r="6.94"/><circle cx="2134.5" cy="721.5" r="6.94"/><circle cx="2137.5" cy="731.5" r="6.94"/><circle cx="2139.5" cy="717.5" r="6.94"/><circle cx="2142.5" cy="713.5" r="6.94"/><circle cx="2144.5" cy="705.5" r="6.94"/><circle cx="2147.5" cy="701.5" r="6.94"/><circle cx="2149.5" cy="700.5" r="6.94"/><circle cx="2152.5" cy="697.5" r="6.94"/><circle cx="2154.5" cy="691.5" r="6.94"/><circle cx="2156.5" cy="701.5" r="6.94"/><circle cx="2159.5" cy="709.5" r="6.94"/><circle cx="2161.5" cy="719.5" r="6.94"/><circle cx="2164.5" cy="705.5" r="6.94"/><circle cx="2166.5" cy="701.5" r="6.94"/><circle cx="2169.5" cy="700.5" r="6.94"/><circle cx="2171.5" cy="705.5" r="6.94"/><circle cx="2174.5" cy="711.5" r="6.94"/><circle cx="2176.5" cy="709.5" r="6.94"/><circle cx="2179.5" cy="705.5" r="6.94"/><circle cx="2181.5" cy="703.5" r="6.94"/><circle cx="2184.5" cy="701.5" r="6.94"/><circle cx="2186.5" cy="700.5" r="6.94"/><circle cx="2188.5" cy="698.5" r="6.94"/><circle cx="2191.5" cy="696.5" r="6.94"/><circle cx="2193.5" cy="692.5" r="6.94"/><circle cx="2196.5" cy="701.5" r="6.94"/><circle cx="2198.5" cy="707.5" r="6.94"/><circle cx="2201.5" cy="704.5" r="6.94"/></g><polyline class="sm" points="1917.99,973.8 1920.45,973 1922.91,970.28 1925.37,964.18 1927.83,953.8 1930.28,939.46 1932.74,922.7 1935.2,905.66 1937.66,890.31 1940.12,877.8 1942.58,868.26 1945.04,860.94 1947.49,854.6 1949.95,847.96 1952.41,840.11 1954.87,830.67 1957.33,819.87 1959.79,808.39 1962.25,797.21 1964.7,787.31 1967.16,779.49 1969.62,774.1 1972.08,771.08 1974.54,769.94 1977,770.05 1979.45,770.78 1981.91,771.57 1984.37,772.03 1986.83,771.89 1989.29,771.01 1991.75,769.44 1994.21,767.27 1996.66,764.55 1999.12,761.19 2001.58,757.03 2004.04,752.11 2006.5,746.82 2008.96,741.96 2011.42,738.42 2013.87,736.88 2016.33,737.47 2018.79,739.75 2021.25,742.81 2023.71,745.58 2026.17,747.23 2028.62,747.39 2031.08,746.3 2033.54,744.58 2036,742.84 2038.46,741.37 2040.92,740.02 2043.38,738.45 2045.83,736.43 2048.29,734.03 2050.75,731.53 2053.21,729.18 2055.67,727.01 2058.13,724.86 2060.59,722.46 2063.04,719.61 2065.5,716.22 2067.96,712.36 2070.42,708.24 2072.88,704.23 2075.34,700.75 2077.79,698.25 2080.25,697.03 2082.71,697.15 2085.17,698.48 2087.63,700.7 2090.09,703.42 2092.55,706.28 2095,708.93 2097.46,711.05 2099.92,712.47 2102.38,713.13 2104.84,713.2 2107.3,713 2109.76,712.83 2112.21,712.91 2114.67,713.28 2117.13,713.85 2119.59,714.52 2122.05,715.19 2124.51,715.85 2126.96,716.47 2129.42,716.96 2131.88,717.12 2134.34,716.74 2136.8,715.65 2139.26,713.81 2141.72,711.39 2144.17,708.74 2146.63,706.28 2149.09,704.39 2151.55,703.32 2154.01,703.06 2156.47,703.43 2158.93,704.09 2161.38,704.76 2163.84,705.23 2166.3,705.47 2168.76,705.52 2171.22,705.42 2173.68,705.14 2176.13,704.64 2178.59,703.89 2181.05,702.93 2183.51,701.89 2185.97,700.96 2188.43,700.32 2190.89,700.09 2193.34,700.24 2195.8,700.66 2198.26,701.13 2200.72,701.43"/><g class="tk"><rect x="1914.89" y="1119" width="2.22" height="10"/><rect x="2036.89" y="1119" width="2.22" height="10"/><rect x="2159.89" y="1119" width="2.22" height="10"/><rect x="1894" y="1104.89" width="10" height="2.22"/><rect x="1894" y="1023.89" width="10" height="2.22"/><rect x="1894" y="942.89" width="10" height="2.22"/><rect x="1894" y="862.89" width="10" height="2.22"/><rect x="1894" y="781.89" width="10" height="2.22"/><rect x="1894" y="700.89" width="10" height="2.22"/></g><rect class="fr" x="1904" y="659" width="311" height="460"/><text x="1888.61" y="642.33" font-size="35" textLength="341.5" lengthAdjust="spacingAndGlyphs">metrics/precision(M)</text><text x="1905.85" y="1161.44" font-size="32.08" textLength="19.38" lengthAdjust="spacingAndGlyphs">0</text><text x="2019.08" y="1161.44" font-size="32.08" textLength="38.75" lengthAdjust="spacingAndGlyphs">50</text><text x="2132.32" y="1161.44" font-size="32.08" textLength="58.12" lengthAdjust="spacingAndGlyphs">100</text><text x="1816.66" y="1117.5" font-size="32.08" textLength="67.75" lengthAdjust="spacingAndGlyphs">0.94</text><text x="1816.66" y="1036.7" font-size="32.08" textLength="67.75" lengthAdjust="spacingAndGlyphs">0.95</text><text x="1816.66" y="955.9" font-size="32.08" textLength="67.75" lengthAdjust="spacingAndGlyphs">0.96</text><text x="1816.66" y="875.1" font-size="32.08" textLength="67.75" lengthAdjust="spacingAndGlyphs">0.97</text><text x="1816.54" y="794.3" font-size="32.08" textLength="67.88" lengthAdjust="spacingAndGlyphs">0.98</text><text x="1816.66" y="713.5" font-size="32.08" textLength="67.75" lengthAdjust="spacingAndGlyphs">0.99</text></g>
<g><polyline class="ln" points="2368.71,929.15 2371.16,1098.09 2373.62,967.2 2376.08,899.17 2378.54,1044.72 2381,771.56 2383.46,757.08 2385.92,707.61 2388.37,741.78 2390.83,709.14 2393.29,714.24 2395.75,822.67 2398.21,746.88 2400.67,736.68 2403.13,751.98 2405.58,689.96 2408.04,779.42 2410.5,785.64 2412.96,796.25 2415.42,730.05 2417.88,795.84 2420.33,811.55 2422.79,693.64 2425.25,679.91 2427.71,762.18 2430.17,778.6 2432.63,729.54 2435.09,753 2437.54,785.64 2440,778.6 2442.46,702 2444.92,731.58 2447.38,743.82 2449.84,716.28 2452.3,731.58 2454.75,694.96 2457.21,726.48 2459.67,736.68 2462.13,742.19 2464.59,721.38 2467.05,729.54 2469.5,716.28 2471.96,706.08 2474.42,686.39 2476.88,778.6 2479.34,721.38 2481.8,705.77 2484.26,731.58 2486.71,825.01 2489.17,751.98 2491.63,746.88 2494.09,721.38 2496.55,726.48 2499.01,711.18 2501.47,726.48 2503.92,741.78 2506.38,761.26 2508.84,716.28 2511.3,700.37 2513.76,731.58 2516.22,733.62 2518.67,700.37 2521.13,700.37 2523.59,726.48 2526.05,736.68 2528.51,746.88 2530.97,761.26 2533.43,700.16 2535.88,731.58 2538.34,712.71 2540.8,741.78 2543.26,770.24 2545.72,770.24 2548.18,742.8 2550.64,702 2553.09,770.24 2555.55,770.24 2558.01,770.24 2560.47,770.24 2562.93,724.64 2565.39,749.94 2567.84,700.37 2570.3,711.18 2572.76,716.28 2575.22,706.08 2577.68,700.37 2580.14,711.18 2582.6,711.18 2585.05,716.28 2587.51,721.38 2589.97,716.28 2592.43,724.64 2594.89,711.18 2597.35,708.12 2599.81,708.43 2602.26,716.28 2604.72,729.54 2607.18,726.48 2609.64,734.74 2612.1,713.93 2614.56,721.38 2617.01,721.38 2619.47,721.89 2621.93,724.44 2624.39,724.44 2626.85,724.44 2629.31,724.44 2631.77,724.44 2634.22,724.44 2636.68,724.44 2639.14,724.44 2641.6,724.44 2644.06,724.44 2646.52,724.44 2648.98,724.44 2651.43,733.31"/><g class="mk"><circle cx="2369.5" cy="929.5" r="6.94"/><circle cx="2371.5" cy="1098.5" r="6.94"/><circle cx="2374.5" cy="967.5" r="6.94"/><circle cx="2376.5" cy="899.5" r="6.94"/><circle cx="2379.5" cy="1045.5" r="6.94"/><circle cx="2381.5" cy="772.5" r="6.94"/><circle cx="2383.5" cy="757.5" r="6.94"/><circle cx="2386.5" cy="708.5" r="6.94"/><circle cx="2388.5" cy="742.5" r="6.94"/><circle cx="2391.5" cy="709.5" r="6.94"/><circle cx="2393.5" cy="714.5" r="6.94"/><circle cx="2396.5" cy="823.5" r="6.94"/><circle cx="2398.5" cy="747.5" r="6.94"/><circle cx="2401.5" cy="737.5" r="6.94"/><circle cx="2403.5" cy="752.5" r="6.94"/><circle cx="2406.5" cy="690.5" r="6.94"/><circle cx="2408.5" cy="779.5" r="6.94"/><circle cx="2411.5" cy="786.5" r="6.94"/><circle cx="2413.5" cy="796.5" r="6.94"/><circle cx="2415.5" cy="730.5" r="6.94"/><circle cx="2418.5" cy="796.5" r="6.94"/><circle cx="2420.5" cy="812.5" r="6.94"/><circle cx="2423.5" cy="694.5" r="6.94"/><circle cx="2425.5" cy="680.5" r="6.94"/><circle cx="2428.5" cy="762.5" r="6.94"/><circle cx="2430.5" cy="779.5" r="6.94"/><circle cx="2433.5" cy="730.5" r="6.94"/><circle cx="2435.5" cy="753.5" r="6.94"/><circle cx="2438.5" cy="786.5" r="6.94"/><circle cx="2440.5" cy="779.5" r="6.94"/><circle cx="2442.5" cy="702.5" r="6.94"/><circle cx="2445.5" cy="732.5" r="6.94"/><circle cx="2447.5" cy="744.5" r="6.94"/><circle cx="2450.5" cy="716.5" r="6.94"/><circle cx="2452.5" cy="732.5" r="6.94"/><circle cx="2455.5" cy="695.5" r="6.94"/><circle cx="2457.5" cy="726.5" r="6.94"/><circle cx="2460.5" cy="737.5" r="6.94"/><circle cx="2462.5" cy="742.5" r="6.94"/><circle cx="2465.5" cy="721.5" r="6.94"/><circle cx="2467.5" cy="730.5" r="6.94"/><circle cx="2470.5" cy="716.5" r="6.94"/><circle cx="2472.5" cy="706.5" r="6.94"/><circle cx="2474.5" cy="686.5" r="6.94"/><circle cx="2477.5" cy="779.5" r="6.94"/><circle cx="2479.5" cy="721.5" r="6.94"/><circle cx="2482.5" cy="706.5" r="6.94"/><circle cx="2484.5" cy="732.5" r="6.94"/><circle cx="2487.5" cy="825.5" r="6.94"/><circle cx="2489.5" cy="752.5" r="6.94"/><circle cx="2492.5" cy="747.5" r="6.94"/><circle cx="2494.5" cy="721.5" r="6.94"/><circle cx="2497.5" cy="726.5" r="6.94"/><circle cx="2499.5" cy="711.5" r="6.94"/><circle cx="2501.5" cy="726.5" r="6.94"/><circle cx="2504.5" cy="742.5" r="6.94"/><circle cx="2506.5" cy="761.5" r="6.94"/><circle cx="2509.5" cy="716.5" r="6.94"/><circle cx="2511.5" cy="700.5" r="6.94"/><circle cx="2514.5" cy="732.5" r="6.94"/><circle cx="2516.5" cy="734.5" r="6.94"/><circle cx="2519.5" cy="700.5" r="6.94"/><circle cx="2521.5" cy="700.5" r="6.94"/><circle cx="2524.5" cy="726.5" r="6.94"/><circle cx="2526.5" cy="737.5" r="6.94"/><circle cx="2529.5" cy="747.5" r="6.94"/><circle cx="2531.5" cy="761.5" r="6.94"/><circle cx="2533.5" cy="700.5" r="6.94"/><circle cx="2536.5" cy="732.5" r="6.94"/><circle cx="2538.5" cy="713.5" r="6.94"/><circle cx="2541.5" cy="742.5" r="6.94"/><circle cx="2543.5" cy="770.5" r="6.94"/><circle cx="2546.5" cy="770.5" r="6.94"/><circle cx="2548.5" cy="743.5" r="6.94"/><circle cx="2551.5" cy="702.5" r="6.94"/><circle cx="2553.5" cy="770.5" r="6.94"/><circle cx="2556.5" cy="770.5" r="6.94"/><circle cx="2558.5" cy="770.5" r="6.94"/><circle cx="2560.5" cy="770.5" r="6.94"/><circle cx="2563.5" cy="725.5" r="6.94"/><circle cx="2565.5" cy="750.5" r="6.94"/><circle cx="2568.5" cy="700.5" r="6.94"/><circle cx="2570.5" cy="711.5" r="6.94"/><circle cx="2573.5" cy="716.5" r="6.94"/><circle cx="2575.5" cy="706.5" r="6.94"/><circle cx="2578.5" cy="700.5" r="6.94"/><circle cx="2580.5" cy="711.5" r="6.94"/><circle cx="2583.5" cy="711.5" r="6.94"/><circle cx="2585.5" cy="716.5" r="6.94"/><circle cx="2588.5" cy="721.5" r="6.94"/><circle cx="2590.5" cy="716.5" r="6.94"/><circle cx="2592.5" cy="725.5" r="6.94"/><circle cx="2595.5" cy="711.5" r="6.94"/><circle cx="2597.5" cy="708.5" r="6.94"/><circle cx="2600.5" cy="708.5" r="6.94"/><circle cx="2602.5" cy="716.5" r="6.94"/><circle cx="2605.5" cy="730.5" r="6.94"/><circle cx="2607.5" cy="726.5" r="6.94"/><circle cx="2610.5" cy="735.5" r="6.94"/><circle cx="2612.5" cy="714.5" r="6.94"/><circle cx="2615.5" cy="721.5" r="6.94"/><circle cx="2617.5" cy="721.5" r="6.94"/><circle cx="2619.5" cy="722.5" r="6.94"/><circle cx="2622.5" cy="724.5" r="6.94"/><circle cx="2624.5" cy="724.5" r="6.94"/><circle cx="2627.5" cy="724.5" r="6.94"/><circle cx="2629.5" cy="724.5" r="6.94"/><circle cx="2632.5" cy="724.5" r="6.94"/><circle cx="2634.5" cy="724.5" r="6.94"/><circle cx="2637.5" cy="724.5" r="6.94"/><circle cx="2639.5" cy="724.5" r="6.94"/><circle cx="2642.5" cy="724.5" r="6.94"/><circle cx="2644.5" cy="724.5" r="6.94"/><circle cx="2647.5" cy="724.5" r="6.94"/><circle cx="2649.5" cy="724.5" r="6.94"/><circle cx="2651.5" cy="733.5" r="6.94"/></g><polyline class="sm" points="2368.71,964.56 2371.16,955.63 2373.62,938.09 2376.08,912.94 2378.54,882.27 2381,849.29 2383.46,817.77 2385.92,791.07 2388.37,771.24 2390.83,758.57 2393.29,751.87 2395.75,749.23 2398.21,748.97 2400.67,750 2403.13,751.91 2405.58,754.52 2408.04,757.46 2410.5,760 2412.96,761.31 2415.42,760.8 2417.88,758.5 2420.33,755.1 2422.79,751.67 2425.25,749.22 2427.71,748.22 2430.17,748.42 2432.63,749.04 2435.09,749.1 2437.54,747.9 2440,745.24 2442.46,741.43 2444.92,737.11 2447.38,732.99 2449.84,729.63 2452.3,727.32 2454.75,726.03 2457.21,725.48 2459.67,725.24 2462.13,724.92 2464.59,724.4 2467.05,723.86 2469.5,723.74 2471.96,724.53 2474.42,726.56 2476.88,729.8 2479.34,733.88 2481.8,738.07 2484.26,741.5 2486.71,743.39 2489.17,743.35 2491.63,741.57 2494.09,738.76 2496.55,735.76 2499.01,733.18 2501.47,731.21 2503.92,729.63 2506.38,728.07 2508.84,726.37 2511.3,724.6 2513.76,723.12 2516.22,722.33 2518.67,722.54 2521.13,723.74 2523.59,725.69 2526.05,727.92 2528.51,730.03 2530.97,731.89 2533.43,733.65 2535.88,735.63 2538.34,738.03 2540.8,740.76 2543.26,743.58 2545.72,746.19 2548.18,748.38 2550.64,750.01 2553.09,750.83 2555.55,750.46 2558.01,748.47 2560.47,744.71 2562.93,739.39 2565.39,733.16 2567.84,726.87 2570.3,721.3 2572.76,717 2575.22,714.19 2577.68,712.81 2580.14,712.57 2582.6,713.08 2585.05,713.9 2587.51,714.71 2589.97,715.32 2592.43,715.75 2594.89,716.17 2597.35,716.8 2599.81,717.76 2602.26,719 2604.72,720.31 2607.18,721.44 2609.64,722.22 2612.1,722.65 2614.56,722.84 2617.01,722.95 2619.47,723.1 2621.93,723.33 2624.39,723.61 2626.85,723.88 2629.31,724.11 2631.77,724.3 2634.22,724.46 2636.68,724.64 2639.14,724.88 2641.6,725.21 2644.06,725.64 2646.52,726.1 2648.98,726.5 2651.43,726.74"/><g class="tk"><rect x="2364.89" y="1119" width="2.22" height="10"/><rect x="2487.89" y="1119" width="2.22" height="10"/><rect x="2610.89" y="1119" width="2.22" height="10"/><rect x="2345" y="1109.89" width="10" height="2.22"/><rect x="2345" y="1007.89" width="10" height="2.22"/><rect x="2345" y="905.89" width="10" height="2.22"/><rect x="2345" y="802.89" width="10" height="2.22"/><rect x="2345" y="700.89" width="10" height="2.22"/></g><rect class="fr" x="2355" y="659" width="311" height="460"/><text x="2369.26" y="642.33" font-size="35" textLength="281.62" lengthAdjust="spacingAndGlyphs">metrics/recall(M)</text><text x="2356.56" y="1161.44" font-size="32.08" textLength="19.38" lengthAdjust="spacingAndGlyphs">0</text><text x="2469.8" y="1161.44" font-size="32.08" textLength="38.75" lengthAdjust="spacingAndGlyphs">50</text><text x="2583.04" y="1161.44" font-size="32.08" textLength="58.12" lengthAdjust="spacingAndGlyphs">100</text><text x="2267.38" y="1122.5" font-size="32.08" textLength="67.75" lengthAdjust="spacingAndGlyphs">0.95</text><text x="2267.38" y="1020.25" font-size="32.08" textLength="67.75" lengthAdjust="spacingAndGlyphs">0.96</text><text x="2267.38" y="918" font-size="32.08" textLength="67.75" lengthAdjust="spacingAndGlyphs">0.97</text><text x="2267.25" y="815.75" font-size="32.08" textLength="67.88" lengthAdjust="spacingAndGlyphs">0.98</text><text x="2267.38" y="713.5" font-size="32.08" textLength="67.75" lengthAdjust="spacingAndGlyphs">0.99</text></g>
<g><polyline class="ln" points="2819.42,935.64 2821.88,933.46 2824.34,989.34 2826.8,1098.09 2829.25,897.22 2831.71,855.6 2834.17,750.06 2836.63,712.81 2839.09,700.72 2841.55,716.33 2844.01,711.3 2846.46,724.72 2848.92,755.09 2851.38,771.87 2853.84,696.53 2856.3,699.55 2858.76,711.3 2861.21,717.5 2863.67,699.55 2866.13,690.49 2868.59,699.55 2871.05,711.3 2873.51,716.33 2875.97,704.58 2878.42,697.87 2880.88,696.19 2883.34,707.94 2885.8,717.5 2888.26,704.58 2890.72,707.94 2893.18,711.3 2895.63,714.65 2898.09,701.23 2900.55,692.5 2903.01,701.23 2905.47,704.58 2907.93,707.94 2910.38,706.26 2912.84,711.3 2915.3,711.8 2917.76,696.19 2920.22,699.55 2922.68,702.91 2925.14,704.58 2927.59,699.55 2930.05,694.52 2932.51,691.16 2934.97,689.65 2937.43,697.87 2939.89,706.26 2942.35,697.87 2944.8,692.84 2947.26,687.8 2949.72,685.45 2952.18,691.16 2954.64,694.52 2957.1,696.19 2959.55,697.87 2962.01,692.84 2964.47,687.8 2966.93,684.45 2969.39,681.09 2971.85,679.91 2974.31,684.45 2976.76,689.48 2979.22,691.16 2981.68,687.8 2984.14,684.45 2986.6,682.77 2989.06,681.09 2991.52,684.45 2993.97,686.13 2996.43,687.8 2998.89,687.8 3001.35,689.48 3003.81,689.48 3006.27,687.8 3008.72,689.48 3011.18,689.48 3013.64,687.8 3016.1,686.13 3018.56,682.77 3021.02,684.45 3023.48,686.13 3025.93,687.8 3028.39,689.48 3030.85,691.16 3033.31,692.84 3035.77,694.68 3038.23,691.16 3040.69,687.8 3043.14,684.45 3045.6,682.77 3048.06,682.77 3050.52,684.45 3052.98,686.13 3055.44,684.45 3057.89,686.13 3060.35,687.8 3062.81,684.45 3065.27,682.77 3067.73,681.09 3070.19,681.09 3072.65,682.77 3075.1,684.45 3077.56,684.45 3080.02,682.77 3082.48,682.77 3084.94,684.45 3087.4,684.45 3089.86,684.45 3092.31,686.13 3094.77,684.45 3097.23,682.77 3099.69,682.77 3102.15,683.27"/><g class="mk"><circle cx="2819.5" cy="936.5" r="6.94"/><circle cx="2822.5" cy="933.5" r="6.94"/><circle cx="2824.5" cy="989.5" r="6.94"/><circle cx="2827.5" cy="1098.5" r="6.94"/><circle cx="2829.5" cy="897.5" r="6.94"/><circle cx="2832.5" cy="856.5" r="6.94"/><circle cx="2834.5" cy="750.5" r="6.94"/><circle cx="2837.5" cy="713.5" r="6.94"/><circle cx="2839.5" cy="701.5" r="6.94"/><circle cx="2842.5" cy="716.5" r="6.94"/><circle cx="2844.5" cy="711.5" r="6.94"/><circle cx="2846.5" cy="725.5" r="6.94"/><circle cx="2849.5" cy="755.5" r="6.94"/><circle cx="2851.5" cy="772.5" r="6.94"/><circle cx="2854.5" cy="697.5" r="6.94"/><circle cx="2856.5" cy="700.5" r="6.94"/><circle cx="2859.5" cy="711.5" r="6.94"/><circle cx="2861.5" cy="718.5" r="6.94"/><circle cx="2864.5" cy="700.5" r="6.94"/><circle cx="2866.5" cy="690.5" r="6.94"/><circle cx="2869.5" cy="700.5" r="6.94"/><circle cx="2871.5" cy="711.5" r="6.94"/><circle cx="2874.5" cy="716.5" r="6.94"/><circle cx="2876.5" cy="705.5" r="6.94"/><circle cx="2878.5" cy="698.5" r="6.94"/><circle cx="2881.5" cy="696.5" r="6.94"/><circle cx="2883.5" cy="708.5" r="6.94"/><circle cx="2886.5" cy="718.5" r="6.94"/><circle cx="2888.5" cy="705.5" r="6.94"/><circle cx="2891.5" cy="708.5" r="6.94"/><circle cx="2893.5" cy="711.5" r="6.94"/><circle cx="2896.5" cy="715.5" r="6.94"/><circle cx="2898.5" cy="701.5" r="6.94"/><circle cx="2901.5" cy="693.5" r="6.94"/><circle cx="2903.5" cy="701.5" r="6.94"/><circle cx="2905.5" cy="705.5" r="6.94"/><circle cx="2908.5" cy="708.5" r="6.94"/><circle cx="2910.5" cy="706.5" r="6.94"/><circle cx="2913.5" cy="711.5" r="6.94"/><circle cx="2915.5" cy="712.5" r="6.94"/><circle cx="2918.5" cy="696.5" r="6.94"/><circle cx="2920.5" cy="700.5" r="6.94"/><circle cx="2923.5" cy="703.5" r="6.94"/><circle cx="2925.5" cy="705.5" r="6.94"/><circle cx="2928.5" cy="700.5" r="6.94"/><circle cx="2930.5" cy="695.5" r="6.94"/><circle cx="2933.5" cy="691.5" r="6.94"/><circle cx="2935.5" cy="690.5" r="6.94"/><circle cx="2937.5" cy="698.5" r="6.94"/><circle cx="2940.5" cy="706.5" r="6.94"/><circle cx="2942.5" cy="698.5" r="6.94"/><circle cx="2945.5" cy="693.5" r="6.94"/><circle cx="2947.5" cy="688.5" r="6.94"/><circle cx="2950.5" cy="685.5" r="6.94"/><circle cx="2952.5" cy="691.5" r="6.94"/><circle cx="2955.5" cy="695.5" r="6.94"/><circle cx="2957.5" cy="696.5" r="6.94"/><circle cx="2960.5" cy="698.5" r="6.94"/><circle cx="2962.5" cy="693.5" r="6.94"/><circle cx="2964.5" cy="688.5" r="6.94"/><circle cx="2967.5" cy="684.5" r="6.94"/><circle cx="2969.5" cy="681.5" r="6.94"/><circle cx="2972.5" cy="680.5" r="6.94"/><circle cx="2974.5" cy="684.5" r="6.94"/><circle cx="2977.5" cy="689.5" r="6.94"/><circle cx="2979.5" cy="691.5" r="6.94"/><circle cx="2982.5" cy="688.5" r="6.94"/><circle cx="2984.5" cy="684.5" r="6.94"/><circle cx="2987.5" cy="683.5" r="6.94"/><circle cx="2989.5" cy="681.5" r="6.94"/><circle cx="2992.5" cy="684.5" r="6.94"/><circle cx="2994.5" cy="686.5" r="6.94"/><circle cx="2996.5" cy="688.5" r="6.94"/><circle cx="2999.5" cy="688.5" r="6.94"/><circle cx="3001.5" cy="689.5" r="6.94"/><circle cx="3004.5" cy="689.5" r="6.94"/><circle cx="3006.5" cy="688.5" r="6.94"/><circle cx="3009.5" cy="689.5" r="6.94"/><circle cx="3011.5" cy="689.5" r="6.94"/><circle cx="3014.5" cy="688.5" r="6.94"/><circle cx="3016.5" cy="686.5" r="6.94"/><circle cx="3019.5" cy="683.5" r="6.94"/><circle cx="3021.5" cy="684.5" r="6.94"/><circle cx="3023.5" cy="686.5" r="6.94"/><circle cx="3026.5" cy="688.5" r="6.94"/><circle cx="3028.5" cy="689.5" r="6.94"/><circle cx="3031.5" cy="691.5" r="6.94"/><circle cx="3033.5" cy="693.5" r="6.94"/><circle cx="3036.5" cy="695.5" r="6.94"/><circle cx="3038.5" cy="691.5" r="6.94"/><circle cx="3041.5" cy="688.5" r="6.94"/><circle cx="3043.5" cy="684.5" r="6.94"/><circle cx="3046.5" cy="683.5" r="6.94"/><circle cx="3048.5" cy="683.5" r="6.94"/><circle cx="3051.5" cy="684.5" r="6.94"/><circle cx="3053.5" cy="686.5" r="6.94"/><circle cx="3055.5" cy="684.5" r="6.94"/><circle cx="3058.5" cy="686.5" r="6.94"/><circle cx="3060.5" cy="688.5" r="6.94"/><circle cx="3063.5" cy="684.5" r="6.94"/><circle cx="3065.5" cy="683.5" r="6.94"/><circle cx="3068.5" cy="681.5" r="6.94"/><circle cx="3070.5" cy="681.5" r="6.94"/><circle cx="3073.5" cy="683.5" r="6.94"/><circle cx="3075.5" cy="684.5" r="6.94"/><circle cx="3078.5" cy="684.5" r="6.94"/><circle cx="3080.5" cy="683.5" r="6.94"/><circle cx="3082.5" cy="683.5" r="6.94"/><circle cx="3085.5" cy="684.5" r="6.94"/><circle cx="3087.5" cy="684.5" r="6.94"/><circle cx="3090.5" cy="684.5" r="6.94"/><circle cx="3092.5" cy="686.5" r="6.94"/><circle cx="3095.5" cy="684.5" r="6.94"/><circle cx="3097.5" cy="683.5" r="6.94"/><circle cx="3100.5" cy="683.5" r="6.94"/><circle cx="3102.5" cy="683.5" r="6.94"/></g><polyline class="sm" points="2819.42,950.07 2821.88,943.96 2824.34,930.93 2826.8,910.27 2829.25,882.52 2831.71,850.09 2834.17,816.82 2836.63,786.77 2839.09,762.89 2841.55,746.27 2844.01,736.12 2846.46,730.43 2848.92,726.98 2851.38,724.02 2853.84,720.7 2856.3,716.95 2858.76,713.2 2861.21,709.93 2863.67,707.48 2866.13,705.93 2868.59,705.15 2871.05,704.89 2873.51,704.93 2875.97,705.12 2878.42,705.42 2880.88,705.84 2883.34,706.33 2885.8,706.8 2888.26,707.08 2890.72,707.03 2893.18,706.63 2895.63,705.98 2898.09,705.29 2900.55,704.77 2903.01,704.55 2905.47,704.62 2907.93,704.83 2910.38,704.94 2912.84,704.78 2915.3,704.27 2917.76,703.43 2920.22,702.34 2922.68,701.13 2925.14,699.89 2927.59,698.72 2930.05,697.71 2932.51,696.92 2934.97,696.33 2937.43,695.82 2939.89,695.28 2942.35,694.64 2944.8,693.93 2947.26,693.27 2949.72,692.76 2952.18,692.43 2954.64,692.14 2957.1,691.72 2959.55,691.02 2962.01,690 2964.47,688.8 2966.93,687.63 2969.39,686.7 2971.85,686.13 2974.31,685.89 2976.76,685.84 2979.22,685.82 2981.68,685.73 2984.14,685.58 2986.6,685.47 2989.06,685.49 2991.52,685.73 2993.97,686.17 2996.43,686.72 2998.89,687.27 3001.35,687.72 3003.81,687.99 3006.27,688.06 3008.72,687.92 3011.18,687.64 3013.64,687.31 3016.1,687.04 3018.56,686.96 3021.02,687.13 3023.48,687.57 3025.93,688.19 3028.39,688.84 3030.85,689.33 3033.31,689.51 3035.77,689.3 3038.23,688.71 3040.69,687.88 3043.14,686.97 3045.6,686.17 3048.06,685.57 3050.52,685.21 3052.98,685.02 3055.44,684.9 3057.89,684.74 3060.35,684.49 3062.81,684.15 3065.27,683.8 3067.73,683.49 3070.19,683.3 3072.65,683.23 3075.1,683.29 3077.56,683.43 3080.02,683.6 3082.48,683.78 3084.94,683.94 3087.4,684.05 3089.86,684.09 3092.31,684.05 3094.77,683.94 3097.23,683.79 3099.69,683.66 3102.15,683.58"/><g class="tk"><rect x="2815.89" y="1119" width="2.22" height="10"/><rect x="2938.89" y="1119" width="2.22" height="10"/><rect x="3061.89" y="1119" width="2.22" height="10"/><rect x="2795" y="1075.89" width="10" height="2.22"/><rect x="2795" y="991.89" width="10" height="2.22"/><rect x="2795" y="908.89" width="10" height="2.22"/><rect x="2795" y="824.89" width="10" height="2.22"/><rect x="2795" y="740.89" width="10" height="2.22"/></g><rect class="fr" x="2805" y="659" width="311" height="460"/><text x="2806.28" y="642.33" font-size="35" textLength="309" lengthAdjust="spacingAndGlyphs">metrics/mAP50(M)</text><text x="2807.27" y="1161.44" font-size="32.08" textLength="19.38" lengthAdjust="spacingAndGlyphs">0</text><text x="2920.51" y="1161.44" font-size="32.08" textLength="38.75" lengthAdjust="spacingAndGlyphs">50</text><text x="3033.75" y="1161.44" font-size="32.08" textLength="58.12" lengthAdjust="spacingAndGlyphs">100</text><text x="2698.71" y="1088.5" font-size="32.08" textLength="87.12" lengthAdjust="spacingAndGlyphs">0.970</text><text x="2698.71" y="1004.75" font-size="32.08" textLength="87.12" lengthAdjust="spacingAndGlyphs">0.975</text><text x="2698.59" y="921" font-size="32.08" textLength="87.25" lengthAdjust="spacingAndGlyphs">0.980</text><text x="2698.59" y="837.25" font-size="32.08" textLength="87.25" lengthAdjust="spacingAndGlyphs">0.985</text><text x="2698.71" y="753.5" font-size="32.08" textLength="87.12" lengthAdjust="spacingAndGlyphs">0.990</text></g>
<g><polyline class="ln" points="3270.13,1024.3 3272.59,996.67 3275.05,1086.32 3277.51,1098.09 3279.97,940.48 3282.43,872.11 3284.89,805.46 3287.34,774.4 3289.8,761.39 3292.26,771.38 3294.72,767.22 3297.18,765.66 3299.64,821.17 3302.09,764.1 3304.55,756.81 3307.01,748.9 3309.47,730.64 3311.93,738.6 3314.39,730.8 3316.85,712.07 3319.3,725.6 3321.76,736.16 3324.22,728.2 3326.68,717.27 3329.14,719.16 3331.6,724.37 3334.06,725.42 3336.51,724 3338.97,722.61 3341.43,721.58 3343.89,724.31 3346.35,719.05 3348.81,714.13 3351.26,709.59 3353.72,710.21 3356.18,714.27 3358.64,707.28 3361.1,701.57 3363.56,702.59 3366.02,699.52 3368.47,698.66 3370.93,698.57 3373.39,698.67 3375.85,704.09 3378.31,700.11 3380.77,694.44 3383.23,693.83 3385.68,700.62 3388.14,708.16 3390.6,702.01 3393.06,695.45 3395.52,693.83 3397.98,687.75 3400.43,693.62 3402.89,693.72 3405.35,693.42 3407.81,697.04 3410.27,697.24 3412.73,695.74 3415.19,693.49 3417.64,689.63 3420.1,687.46 3422.56,686.38 3425.02,687.18 3427.48,685.81 3429.94,688.11 3432.4,686.2 3434.85,682.87 3437.31,683.69 3439.77,681.44 3442.23,685.12 3444.69,689.06 3447.15,684.5 3449.6,685.8 3452.06,686.77 3454.52,688.32 3456.98,687.08 3459.44,686.32 3461.9,686.91 3464.36,687.51 3466.81,685.78 3469.27,685.31 3471.73,685.84 3474.19,683.08 3476.65,683.73 3479.11,682.81 3481.57,686.2 3484.02,688.57 3486.48,686.62 3488.94,685.62 3491.4,685.74 3493.86,685.03 3496.32,679.91 3498.77,681.81 3501.23,680.42 3503.69,679.91 3506.15,682.77 3508.61,683.45 3511.07,684.36 3513.53,683.72 3515.98,683.04 3518.44,683.56 3520.9,684.29 3523.36,684.06 3525.82,685.84 3528.28,681.49 3530.74,683.54 3533.19,679.91 3535.65,679.91 3538.11,679.91 3540.57,680.44 3543.03,679.91 3545.49,679.91 3547.94,681.44 3550.4,682.99 3552.86,683.95"/><g class="mk"><circle cx="3270.5" cy="1024.5" r="6.94"/><circle cx="3273.5" cy="997.5" r="6.94"/><circle cx="3275.5" cy="1086.5" r="6.94"/><circle cx="3278.5" cy="1098.5" r="6.94"/><circle cx="3280.5" cy="940.5" r="6.94"/><circle cx="3282.5" cy="872.5" r="6.94"/><circle cx="3285.5" cy="805.5" r="6.94"/><circle cx="3287.5" cy="774.5" r="6.94"/><circle cx="3290.5" cy="761.5" r="6.94"/><circle cx="3292.5" cy="771.5" r="6.94"/><circle cx="3295.5" cy="767.5" r="6.94"/><circle cx="3297.5" cy="766.5" r="6.94"/><circle cx="3300.5" cy="821.5" r="6.94"/><circle cx="3302.5" cy="764.5" r="6.94"/><circle cx="3305.5" cy="757.5" r="6.94"/><circle cx="3307.5" cy="749.5" r="6.94"/><circle cx="3309.5" cy="731.5" r="6.94"/><circle cx="3312.5" cy="739.5" r="6.94"/><circle cx="3314.5" cy="731.5" r="6.94"/><circle cx="3317.5" cy="712.5" r="6.94"/><circle cx="3319.5" cy="726.5" r="6.94"/><circle cx="3322.5" cy="736.5" r="6.94"/><circle cx="3324.5" cy="728.5" r="6.94"/><circle cx="3327.5" cy="717.5" r="6.94"/><circle cx="3329.5" cy="719.5" r="6.94"/><circle cx="3332.5" cy="724.5" r="6.94"/><circle cx="3334.5" cy="725.5" r="6.94"/><circle cx="3337.5" cy="724.5" r="6.94"/><circle cx="3339.5" cy="723.5" r="6.94"/><circle cx="3341.5" cy="722.5" r="6.94"/><circle cx="3344.5" cy="724.5" r="6.94"/><circle cx="3346.5" cy="719.5" r="6.94"/><circle cx="3349.5" cy="714.5" r="6.94"/><circle cx="3351.5" cy="710.5" r="6.94"/><circle cx="3354.5" cy="710.5" r="6.94"/><circle cx="3356.5" cy="714.5" r="6.94"/><circle cx="3359.5" cy="707.5" r="6.94"/><circle cx="3361.5" cy="702.5" r="6.94"/><circle cx="3364.5" cy="703.5" r="6.94"/><circle cx="3366.5" cy="700.5" r="6.94"/><circle cx="3368.5" cy="699.5" r="6.94"/><circle cx="3371.5" cy="699.5" r="6.94"/><circle cx="3373.5" cy="699.5" r="6.94"/><circle cx="3376.5" cy="704.5" r="6.94"/><circle cx="3378.5" cy="700.5" r="6.94"/><circle cx="3381.5" cy="694.5" r="6.94"/><circle cx="3383.5" cy="694.5" r="6.94"/><circle cx="3386.5" cy="701.5" r="6.94"/><circle cx="3388.5" cy="708.5" r="6.94"/><circle cx="3391.5" cy="702.5" r="6.94"/><circle cx="3393.5" cy="695.5" r="6.94"/><circle cx="3396.5" cy="694.5" r="6.94"/><circle cx="3398.5" cy="688.5" r="6.94"/><circle cx="3400.5" cy="694.5" r="6.94"/><circle cx="3403.5" cy="694.5" r="6.94"/><circle cx="3405.5" cy="693.5" r="6.94"/><circle cx="3408.5" cy="697.5" r="6.94"/><circle cx="3410.5" cy="697.5" r="6.94"/><circle cx="3413.5" cy="696.5" r="6.94"/><circle cx="3415.5" cy="693.5" r="6.94"/><circle cx="3418.5" cy="690.5" r="6.94"/><circle cx="3420.5" cy="687.5" r="6.94"/><circle cx="3423.5" cy="686.5" r="6.94"/><circle cx="3425.5" cy="687.5" r="6.94"/><circle cx="3427.5" cy="686.5" r="6.94"/><circle cx="3430.5" cy="688.5" r="6.94"/><circle cx="3432.5" cy="686.5" r="6.94"/><circle cx="3435.5" cy="683.5" r="6.94"/><circle cx="3437.5" cy="684.5" r="6.94"/><circle cx="3440.5" cy="681.5" r="6.94"/><circle cx="3442.5" cy="685.5" r="6.94"/><circle cx="3445.5" cy="689.5" r="6.94"/><circle cx="3447.5" cy="685.5" r="6.94"/><circle cx="3450.5" cy="686.5" r="6.94"/><circle cx="3452.5" cy="687.5" r="6.94"/><circle cx="3455.5" cy="688.5" r="6.94"/><circle cx="3457.5" cy="687.5" r="6.94"/><circle cx="3459.5" cy="686.5" r="6.94"/><circle cx="3462.5" cy="687.5" r="6.94"/><circle cx="3464.5" cy="688.5" r="6.94"/><circle cx="3467.5" cy="686.5" r="6.94"/><circle cx="3469.5" cy="685.5" r="6.94"/><circle cx="3472.5" cy="686.5" r="6.94"/><circle cx="3474.5" cy="683.5" r="6.94"/><circle cx="3477.5" cy="684.5" r="6.94"/><circle cx="3479.5" cy="683.5" r="6.94"/><circle cx="3482.5" cy="686.5" r="6.94"/><circle cx="3484.5" cy="689.5" r="6.94"/><circle cx="3486.5" cy="687.5" r="6.94"/><circle cx="3489.5" cy="686.5" r="6.94"/><circle cx="3491.5" cy="686.5" r="6.94"/><circle cx="3494.5" cy="685.5" r="6.94"/><circle cx="3496.5" cy="680.5" r="6.94"/><circle cx="3499.5" cy="682.5" r="6.94"/><circle cx="3501.5" cy="680.5" r="6.94"/><circle cx="3504.5" cy="680.5" r="6.94"/><circle cx="3506.5" cy="683.5" r="6.94"/><circle cx="3509.5" cy="683.5" r="6.94"/><circle cx="3511.5" cy="684.5" r="6.94"/><circle cx="3514.5" cy="684.5" r="6.94"/><circle cx="3516.5" cy="683.5" r="6.94"/><circle cx="3518.5" cy="684.5" r="6.94"/><circle cx="3521.5" cy="684.5" r="6.94"/><circle cx="3523.5" cy="684.5" r="6.94"/><circle cx="3526.5" cy="686.5" r="6.94"/><circle cx="3528.5" cy="681.5" r="6.94"/><circle cx="3531.5" cy="684.5" r="6.94"/><circle cx="3533.5" cy="680.5" r="6.94"/><circle cx="3536.5" cy="680.5" r="6.94"/><circle cx="3538.5" cy="680.5" r="6.94"/><circle cx="3541.5" cy="680.5" r="6.94"/><circle cx="3543.5" cy="680.5" r="6.94"/><circle cx="3545.5" cy="680.5" r="6.94"/><circle cx="3548.5" cy="681.5" r="6.94"/><circle cx="3550.5" cy="683.5" r="6.94"/><circle cx="3553.5" cy="684.5" r="6.94"/></g><polyline class="sm" points="3270.13,1013.22 3272.59,1005.02 3275.05,988.5 3277.51,964.06 3279.97,933.29 3282.43,899.18 3284.89,865.53 3287.34,835.84 3289.8,812.3 3292.26,795.37 3294.72,783.98 3297.18,776.22 3299.64,770.12 3302.09,764.26 3304.55,758.01 3307.01,751.44 3309.47,745.01 3311.93,739.26 3314.39,734.54 3316.85,730.96 3319.3,728.4 3321.76,726.64 3324.22,725.42 3326.68,724.55 3329.14,723.9 3331.6,723.4 3334.06,722.92 3336.51,722.34 3338.97,721.55 3341.43,720.45 3343.89,719.02 3346.35,717.29 3348.81,715.36 3351.26,713.3 3353.72,711.2 3356.18,709.12 3358.64,707.11 3361.1,705.24 3363.56,703.59 3366.02,702.21 3368.47,701.16 3370.93,700.39 3373.39,699.87 3375.85,699.52 3378.31,699.31 3380.77,699.17 3383.23,699.04 3385.68,698.8 3388.14,698.36 3390.6,697.68 3393.06,696.81 3395.52,695.9 3397.98,695.13 3400.43,694.6 3402.89,694.31 3405.35,694.14 3407.81,693.94 3410.27,693.53 3412.73,692.85 3415.19,691.9 3417.64,690.79 3420.1,689.64 3422.56,688.56 3425.02,687.62 3427.48,686.82 3429.94,686.17 3432.4,685.65 3434.85,685.29 3437.31,685.1 3439.77,685.1 3442.23,685.26 3444.69,685.54 3447.15,685.86 3449.6,686.17 3452.06,686.42 3454.52,686.58 3456.98,686.63 3459.44,686.58 3461.9,686.43 3464.36,686.19 3466.81,685.89 3469.27,685.58 3471.73,685.32 3474.19,685.17 3476.65,685.13 3479.11,685.18 3481.57,685.26 3484.02,685.28 3486.48,685.14 3488.94,684.82 3491.4,684.32 3493.86,683.73 3496.32,683.15 3498.77,682.7 3501.23,682.44 3503.69,682.39 3506.15,682.53 3508.61,682.77 3511.07,683.04 3513.53,683.29 3515.98,683.46 3518.44,683.53 3520.9,683.49 3523.36,683.31 3525.82,683 3528.28,682.58 3530.74,682.09 3533.19,681.62 3535.65,681.23 3538.11,680.99 3540.57,680.93 3543.03,681.04 3545.49,681.27 3547.94,681.57 3550.4,681.84 3552.86,681.99"/><g class="tk"><rect x="3266.89" y="1119" width="2.22" height="10"/><rect x="3389.89" y="1119" width="2.22" height="10"/><rect x="3512.89" y="1119" width="2.22" height="10"/><rect x="3246" y="1044.89" width="10" height="2.22"/><rect x="3246" y="940.89" width="10" height="2.22"/><rect x="3246" y="836.89" width="10" height="2.22"/><rect x="3246" y="732.89" width="10" height="2.22"/></g><rect class="fr" x="3256" y="659" width="311" height="460"/><text x="3229.75" y="642.33" font-size="35" textLength="363.5" lengthAdjust="spacingAndGlyphs">metrics/mAP50-95(M)</text><text x="3257.99" y="1161.44" font-size="32.08" textLength="19.38" lengthAdjust="spacingAndGlyphs">0</text><text x="3371.23" y="1161.44" font-size="32.08" textLength="38.75" lengthAdjust="spacingAndGlyphs">50</text><text x="3484.46" y="1161.44" font-size="32.08" textLength="58.12" lengthAdjust="spacingAndGlyphs">100</text><text x="3168.8" y="1057.5" font-size="32.08" textLength="67.75" lengthAdjust="spacingAndGlyphs">0.92</text><text x="3168.8" y="953.5" font-size="32.08" textLength="67.75" lengthAdjust="spacingAndGlyphs">0.94</text><text x="3168.8" y="849.5" font-size="32.08" textLength="67.75" lengthAdjust="spacingAndGlyphs">0.96</text><text x="3168.68" y="745.5" font-size="32.08" textLength="67.88" lengthAdjust="spacingAndGlyphs">0.98</text></g>
</svg>
</body></html>
